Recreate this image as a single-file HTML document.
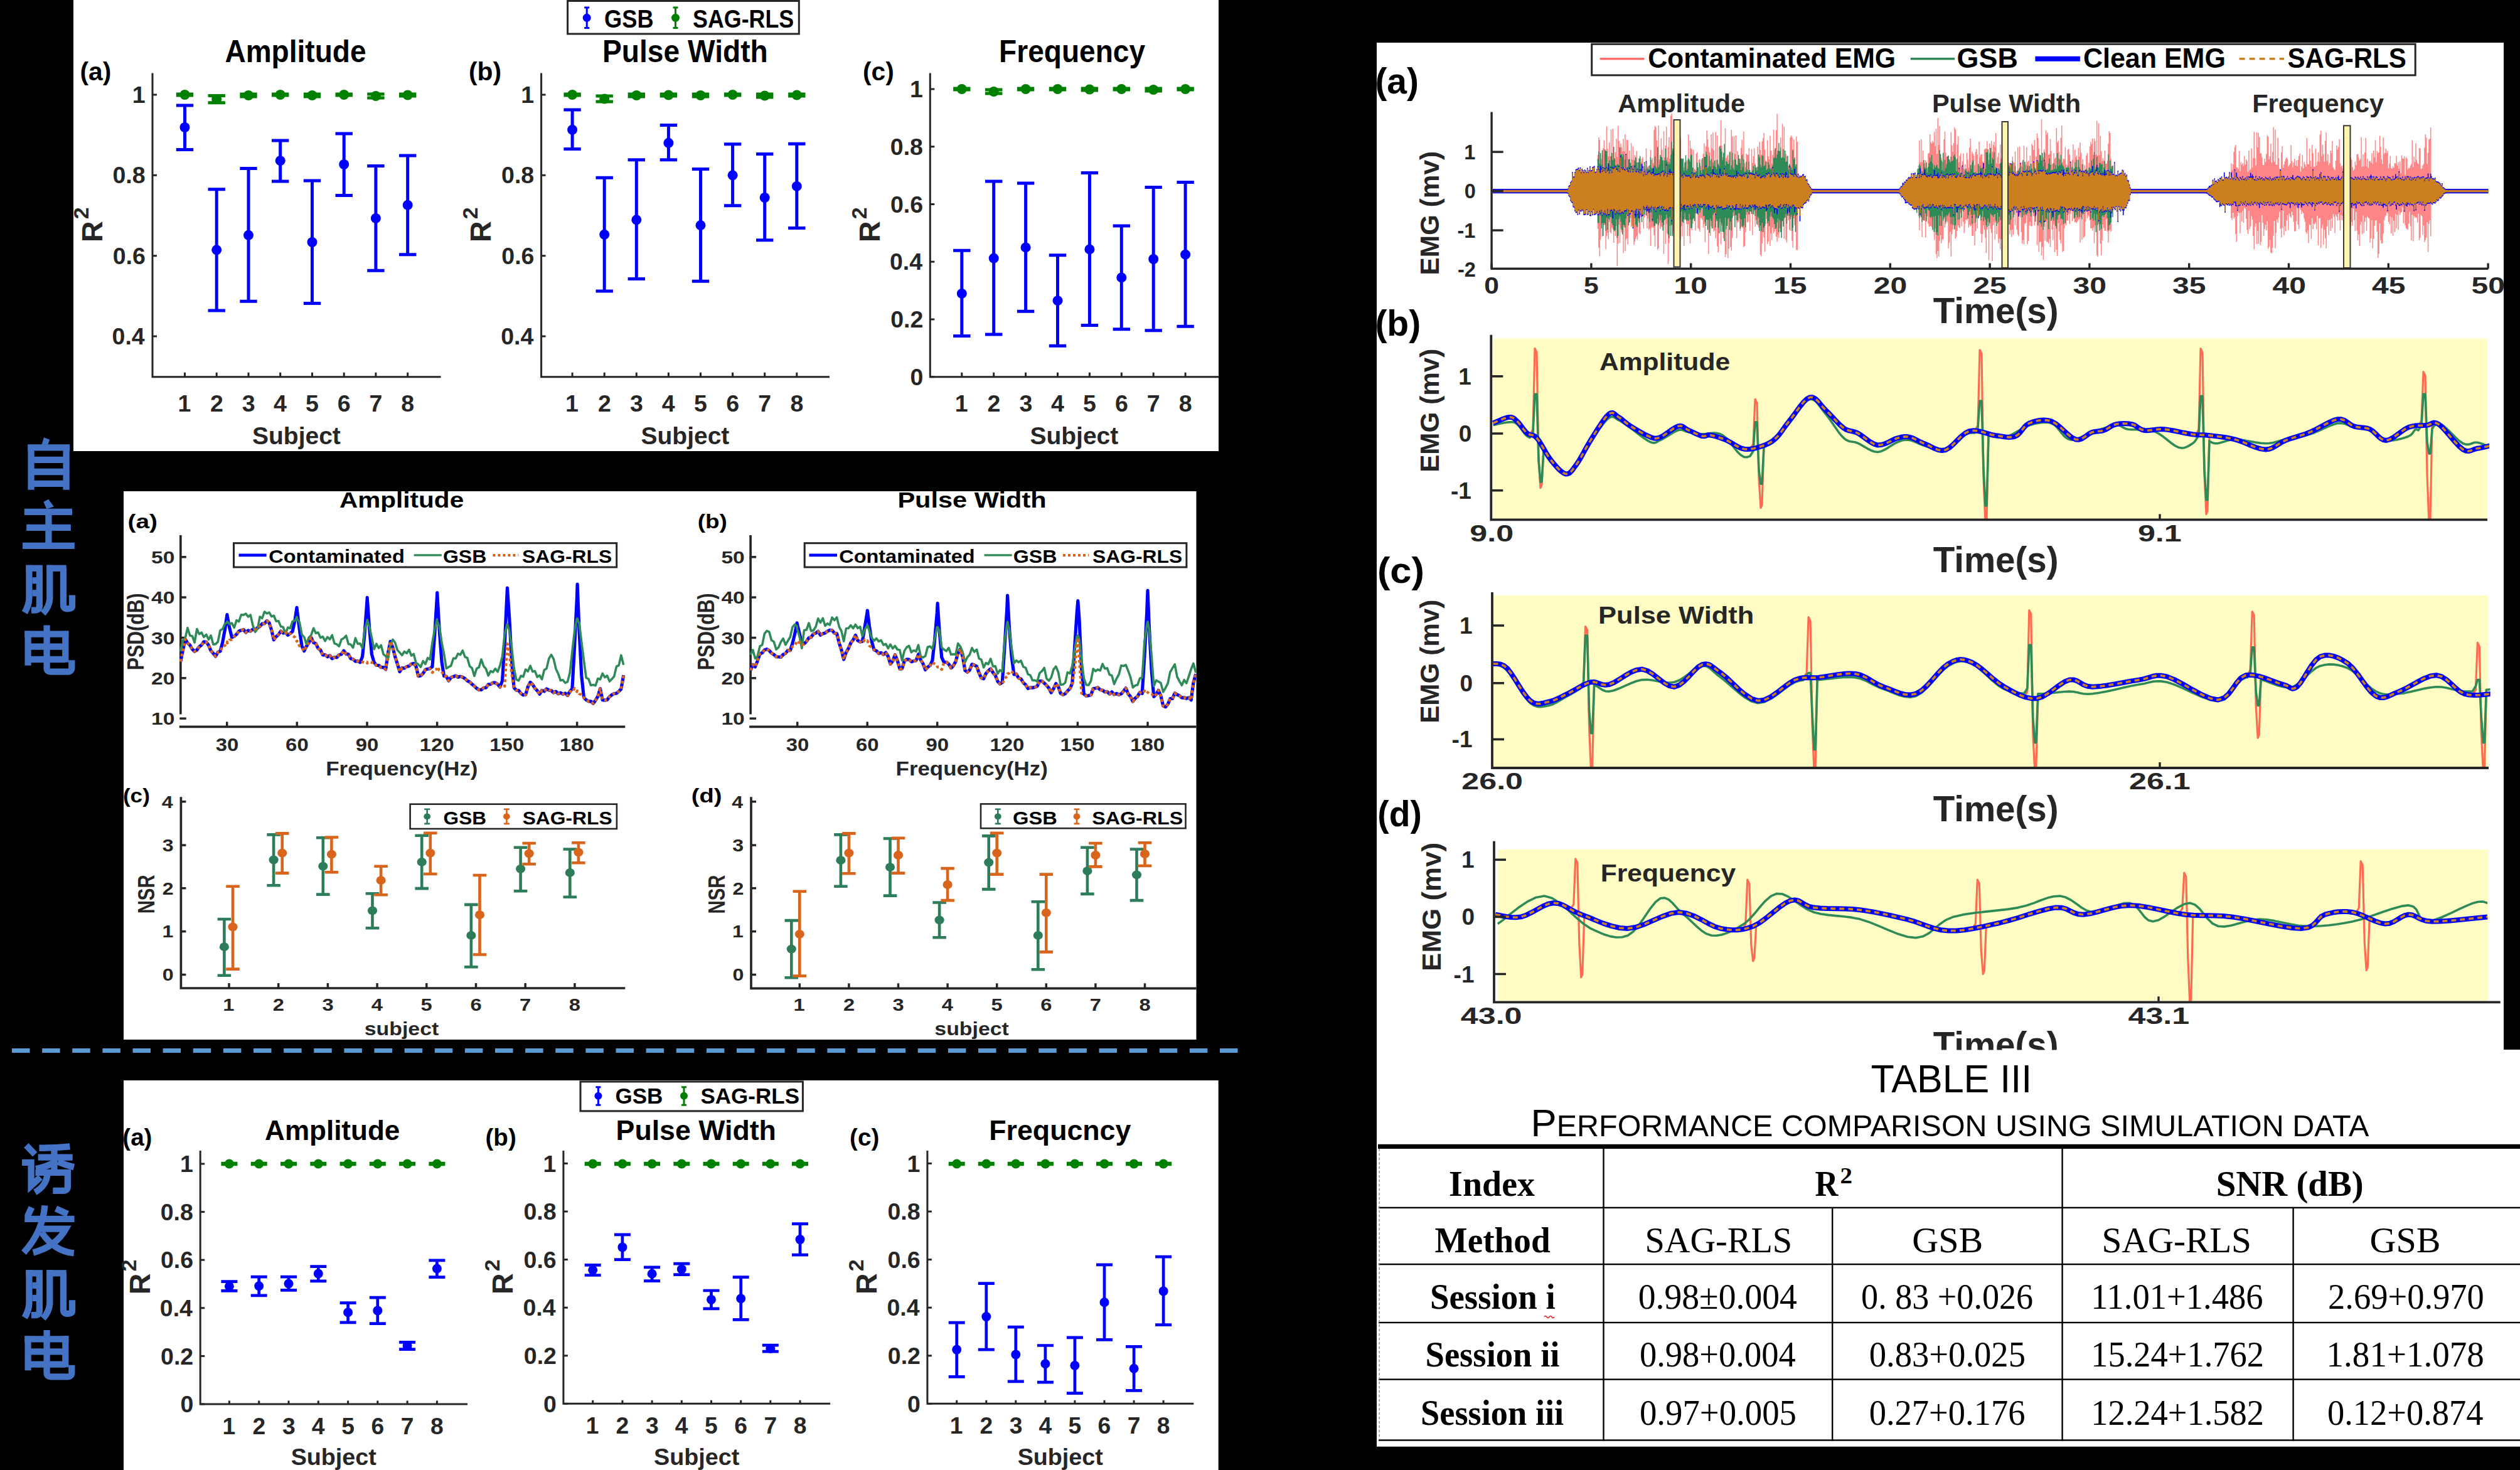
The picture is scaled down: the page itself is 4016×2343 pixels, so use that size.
<!DOCTYPE html>
<html><head><meta charset="utf-8"><style>html,body{margin:0;padding:0;background:#000;width:4016px;height:2343px;overflow:hidden}svg{display:block}</style></head>
<body><svg width="4016" height="2343" viewBox="0 0 4016 2343">
<rect width="4016" height="2343" fill="#000"/>
<rect x="117" y="0" width="1825" height="719" fill="#fff"/>
<rect x="197" y="783" width="1709.5" height="874" fill="#fff"/>
<rect x="197" y="1722" width="1744.7" height="621" fill="#fff"/>
<rect x="2194" y="68" width="1796" height="1605.8" fill="#fff"/>
<rect x="2194" y="1673" width="1822" height="632.7" fill="#fff"/>
<line x1="19" y1="1674.5" x2="1972.5" y2="1674.5" stroke="#5b9bd5" stroke-width="7" stroke-dasharray="28.5 19.625"/>
<g transform="translate(30,690) scale(0.142857)" fill="none" stroke="#4472c4" stroke-width="72" stroke-linejoin="miter" stroke-linecap="butt"><path d="M137,132 V635"/><path d="M529,132 V635"/><path d="M100,163 H568"/><path d="M137,300 H529"/><path d="M137,434 H529"/><path d="M137,566 H529"/><polygon points="255,132 280,50 345,75 325,132" fill="#4472c4" stroke="none"/></g>
<g transform="translate(30,690) scale(0.142857)" fill="none" stroke="#4472c4" stroke-width="72" stroke-linejoin="miter" stroke-linecap="butt"><path d="M62,881 H595"/><path d="M85,1056 H580"/><path d="M42,1259 H622"/><path d="M332,915 V1225"/><polygon points="275,770 330,740 392,822 310,848" fill="#4472c4" stroke="none"/></g>
<g transform="translate(30,880) scale(0.142857)" fill="none" stroke="#4472c4" stroke-width="72" stroke-linejoin="miter" stroke-linecap="butt"><path d="M115,145 V520 Q110,600 65,675"/><path d="M80,180 H265"/><path d="M230,180 V600 Q230,648 180,648 H140"/><path d="M150,317 H200"/><path d="M150,457 H200"/><path d="M345,145 V520 Q340,610 270,685"/><path d="M310,180 H530"/><path d="M497,180 V590 Q497,632 540,632 Q595,632 595,600 V480"/></g>
<g transform="translate(30,880) scale(0.142857)" fill="none" stroke="#4472c4" stroke-width="72" stroke-linejoin="miter" stroke-linecap="butt"><path d="M102,880 V1265"/><path d="M520,880 V1230"/><path d="M65,915 H555"/><path d="M102,1055 H520"/><path d="M102,1197 H520"/><path d="M312,815 V1295 Q312,1335 360,1335 H540 Q590,1335 590,1290 V1205"/></g>
<g transform="translate(25,1810) scale(0.142857)" fill="none" stroke="#4472c4" stroke-width="72" stroke-linejoin="miter" stroke-linecap="butt"><path d="M118,108 L215,210"/><path d="M70,300 H172 V560 L275,465"/><path d="M262,138 Q430,140 605,122"/><path d="M250,242 H635"/><path d="M430,140 V390"/><path d="M430,300 Q340,350 225,372"/><path d="M470,290 Q560,330 650,352"/><path d="M220,412 H580 V570 Q580,615 530,615 H415"/><path d="M355,420 Q345,560 215,632"/></g>
<g transform="translate(25,1810) scale(0.142857)" fill="none" stroke="#4472c4" stroke-width="72" stroke-linejoin="miter" stroke-linecap="butt"><path d="M178,800 L130,905"/><path d="M100,930 H655"/><path d="M448,815 L580,875"/><path d="M325,780 Q300,1080 90,1305"/><path d="M285,1040 H560 Q450,1240 195,1305"/><path d="M290,1080 Q430,1290 650,1312"/></g>
<g transform="translate(30,2003.6) scale(0.142857)" fill="none" stroke="#4472c4" stroke-width="72" stroke-linejoin="miter" stroke-linecap="butt"><path d="M115,145 V520 Q110,600 65,675"/><path d="M80,180 H265"/><path d="M230,180 V600 Q230,648 180,648 H140"/><path d="M150,317 H200"/><path d="M150,457 H200"/><path d="M345,145 V520 Q340,610 270,685"/><path d="M310,180 H530"/><path d="M497,180 V590 Q497,632 540,632 Q595,632 595,600 V480"/></g>
<g transform="translate(30,2003.6) scale(0.142857)" fill="none" stroke="#4472c4" stroke-width="72" stroke-linejoin="miter" stroke-linecap="butt"><path d="M102,880 V1265"/><path d="M520,880 V1230"/><path d="M65,915 H555"/><path d="M102,1055 H520"/><path d="M102,1197 H520"/><path d="M312,815 V1295 Q312,1335 360,1335 H540 Q590,1335 590,1290 V1205"/></g>
<path d="M243,116.6 V600.7 H702.6" fill="none" stroke="#262626" stroke-width="3"/>
<line x1="243" y1="151" x2="250" y2="151" stroke="#262626" stroke-width="3"/>
<line x1="243" y1="279.3" x2="250" y2="279.3" stroke="#262626" stroke-width="3"/>
<line x1="243" y1="407.7" x2="250" y2="407.7" stroke="#262626" stroke-width="3"/>
<line x1="243" y1="536" x2="250" y2="536" stroke="#262626" stroke-width="3"/>
<line x1="294.5" y1="600.7" x2="294.5" y2="593.7" stroke="#262626" stroke-width="3"/>
<line x1="345.2" y1="600.7" x2="345.2" y2="593.7" stroke="#262626" stroke-width="3"/>
<line x1="396" y1="600.7" x2="396" y2="593.7" stroke="#262626" stroke-width="3"/>
<line x1="446.7" y1="600.7" x2="446.7" y2="593.7" stroke="#262626" stroke-width="3"/>
<line x1="497.5" y1="600.7" x2="497.5" y2="593.7" stroke="#262626" stroke-width="3"/>
<line x1="548.2" y1="600.7" x2="548.2" y2="593.7" stroke="#262626" stroke-width="3"/>
<line x1="598.9" y1="600.7" x2="598.9" y2="593.7" stroke="#262626" stroke-width="3"/>
<line x1="649.7" y1="600.7" x2="649.7" y2="593.7" stroke="#262626" stroke-width="3"/>
<path d="M294.5,150 V152 M280.8,150 H308.2 M280.8,152 H308.2" stroke="#008000" stroke-width="5" fill="none"/>
<circle cx="294.5" cy="151" r="8" fill="#008000"/>
<path d="M345.2,152.4 V163.8 M331.5,152.4 H358.9 M331.5,163.8 H358.9" stroke="#008000" stroke-width="5" fill="none"/>
<circle cx="345.2" cy="158" r="8" fill="#008000"/>
<path d="M396,150 V154 M382.3,150 H409.7 M382.3,154 H409.7" stroke="#008000" stroke-width="5" fill="none"/>
<circle cx="396" cy="152" r="8" fill="#008000"/>
<path d="M446.7,150 V152 M433,150 H460.4 M433,152 H460.4" stroke="#008000" stroke-width="5" fill="none"/>
<circle cx="446.7" cy="151" r="8" fill="#008000"/>
<path d="M497.5,150 V154 M483.8,150 H511.2 M483.8,154 H511.2" stroke="#008000" stroke-width="5" fill="none"/>
<circle cx="497.5" cy="152" r="8" fill="#008000"/>
<path d="M548.2,150 V152 M534.5,150 H561.9 M534.5,152 H561.9" stroke="#008000" stroke-width="5" fill="none"/>
<circle cx="548.2" cy="151" r="8" fill="#008000"/>
<path d="M598.9,150 V156 M585.2,150 H612.6 M585.2,156 H612.6" stroke="#008000" stroke-width="5" fill="none"/>
<circle cx="598.9" cy="153" r="8" fill="#008000"/>
<path d="M649.7,150 V153 M636,150 H663.4 M636,153 H663.4" stroke="#008000" stroke-width="5" fill="none"/>
<circle cx="649.7" cy="151.5" r="8" fill="#008000"/>
<path d="M294.5,168 V238.6 M280.8,168 H308.2 M280.8,238.6 H308.2" stroke="#0000ff" stroke-width="5" fill="none"/>
<circle cx="294.5" cy="203" r="8" fill="#0000ff"/>
<path d="M345.2,301.8 V494.9 M331.5,301.8 H358.9 M331.5,494.9 H358.9" stroke="#0000ff" stroke-width="5" fill="none"/>
<circle cx="345.2" cy="398.3" r="8" fill="#0000ff"/>
<path d="M396,268.5 V480.2 M382.3,268.5 H409.7 M382.3,480.2 H409.7" stroke="#0000ff" stroke-width="5" fill="none"/>
<circle cx="396" cy="374.8" r="8" fill="#0000ff"/>
<path d="M446.7,223.9 V289 M433,223.9 H460.4 M433,289 H460.4" stroke="#0000ff" stroke-width="5" fill="none"/>
<circle cx="446.7" cy="256.2" r="8" fill="#0000ff"/>
<path d="M497.5,288 V483.6 M483.8,288 H511.2 M483.8,483.6 H511.2" stroke="#0000ff" stroke-width="5" fill="none"/>
<circle cx="497.5" cy="386" r="8" fill="#0000ff"/>
<path d="M548.2,213 V311.6 M534.5,213 H561.9 M534.5,311.6 H561.9" stroke="#0000ff" stroke-width="5" fill="none"/>
<circle cx="548.2" cy="262" r="8" fill="#0000ff"/>
<path d="M598.9,264.6 V431.2 M585.2,264.6 H612.6 M585.2,431.2 H612.6" stroke="#0000ff" stroke-width="5" fill="none"/>
<circle cx="598.9" cy="347.9" r="8" fill="#0000ff"/>
<path d="M649.7,248 V405.7 M636,248 H663.4 M636,405.7 H663.4" stroke="#0000ff" stroke-width="5" fill="none"/>
<circle cx="649.7" cy="326.8" r="8" fill="#0000ff"/>
<path d="M862.6,116.6 V600.7 H1322" fill="none" stroke="#262626" stroke-width="3"/>
<line x1="862.6" y1="151" x2="869.6" y2="151" stroke="#262626" stroke-width="3"/>
<line x1="862.6" y1="279.3" x2="869.6" y2="279.3" stroke="#262626" stroke-width="3"/>
<line x1="862.6" y1="407.7" x2="869.6" y2="407.7" stroke="#262626" stroke-width="3"/>
<line x1="862.6" y1="536" x2="869.6" y2="536" stroke="#262626" stroke-width="3"/>
<line x1="912.1" y1="600.7" x2="912.1" y2="593.7" stroke="#262626" stroke-width="3"/>
<line x1="963.2" y1="600.7" x2="963.2" y2="593.7" stroke="#262626" stroke-width="3"/>
<line x1="1014.3" y1="600.7" x2="1014.3" y2="593.7" stroke="#262626" stroke-width="3"/>
<line x1="1065.4" y1="600.7" x2="1065.4" y2="593.7" stroke="#262626" stroke-width="3"/>
<line x1="1116.5" y1="600.7" x2="1116.5" y2="593.7" stroke="#262626" stroke-width="3"/>
<line x1="1167.6" y1="600.7" x2="1167.6" y2="593.7" stroke="#262626" stroke-width="3"/>
<line x1="1218.7" y1="600.7" x2="1218.7" y2="593.7" stroke="#262626" stroke-width="3"/>
<line x1="1269.8" y1="600.7" x2="1269.8" y2="593.7" stroke="#262626" stroke-width="3"/>
<path d="M912.1,150 V152 M898.4,150 H925.8 M898.4,152 H925.8" stroke="#008000" stroke-width="5" fill="none"/>
<circle cx="912.1" cy="151" r="8" fill="#008000"/>
<path d="M963.2,153 V162 M949.5,153 H976.9 M949.5,162 H976.9" stroke="#008000" stroke-width="5" fill="none"/>
<circle cx="963.2" cy="157.5" r="8" fill="#008000"/>
<path d="M1014.3,150 V154 M1000.6,150 H1028 M1000.6,154 H1028" stroke="#008000" stroke-width="5" fill="none"/>
<circle cx="1014.3" cy="152" r="8" fill="#008000"/>
<path d="M1065.4,150 V153 M1051.7,150 H1079.1 M1051.7,153 H1079.1" stroke="#008000" stroke-width="5" fill="none"/>
<circle cx="1065.4" cy="151.5" r="8" fill="#008000"/>
<path d="M1116.5,150 V154 M1102.8,150 H1130.2 M1102.8,154 H1130.2" stroke="#008000" stroke-width="5" fill="none"/>
<circle cx="1116.5" cy="152" r="8" fill="#008000"/>
<path d="M1167.6,150 V152 M1153.9,150 H1181.3 M1153.9,152 H1181.3" stroke="#008000" stroke-width="5" fill="none"/>
<circle cx="1167.6" cy="151" r="8" fill="#008000"/>
<path d="M1218.7,150 V155 M1205,150 H1232.4 M1205,155 H1232.4" stroke="#008000" stroke-width="5" fill="none"/>
<circle cx="1218.7" cy="152.5" r="8" fill="#008000"/>
<path d="M1269.8,150 V153 M1256.1,150 H1283.5 M1256.1,153 H1283.5" stroke="#008000" stroke-width="5" fill="none"/>
<circle cx="1269.8" cy="151.5" r="8" fill="#008000"/>
<path d="M912.1,175 V237.6 M898.4,175 H925.8 M898.4,237.6 H925.8" stroke="#0000ff" stroke-width="5" fill="none"/>
<circle cx="912.1" cy="206.8" r="8" fill="#0000ff"/>
<path d="M963.2,283.2 V464 M949.5,283.2 H976.9 M949.5,464 H976.9" stroke="#0000ff" stroke-width="5" fill="none"/>
<circle cx="963.2" cy="373.8" r="8" fill="#0000ff"/>
<path d="M1014.3,254.8 V444.4 M1000.6,254.8 H1028 M1000.6,444.4 H1028" stroke="#0000ff" stroke-width="5" fill="none"/>
<circle cx="1014.3" cy="350.3" r="8" fill="#0000ff"/>
<path d="M1065.4,199.4 V254.8 M1051.7,199.4 H1079.1 M1051.7,254.8 H1079.1" stroke="#0000ff" stroke-width="5" fill="none"/>
<circle cx="1065.4" cy="227.8" r="8" fill="#0000ff"/>
<path d="M1116.5,269.5 V448.3 M1102.8,269.5 H1130.2 M1102.8,448.3 H1130.2" stroke="#0000ff" stroke-width="5" fill="none"/>
<circle cx="1116.5" cy="359.1" r="8" fill="#0000ff"/>
<path d="M1167.6,229.8 V327.8 M1153.9,229.8 H1181.3 M1153.9,327.8 H1181.3" stroke="#0000ff" stroke-width="5" fill="none"/>
<circle cx="1167.6" cy="279.3" r="8" fill="#0000ff"/>
<path d="M1218.7,245.5 V382.7 M1205,245.5 H1232.4 M1205,382.7 H1232.4" stroke="#0000ff" stroke-width="5" fill="none"/>
<circle cx="1218.7" cy="315" r="8" fill="#0000ff"/>
<path d="M1269.8,229.3 V363.5 M1256.1,229.3 H1283.5 M1256.1,363.5 H1283.5" stroke="#0000ff" stroke-width="5" fill="none"/>
<circle cx="1269.8" cy="296.9" r="8" fill="#0000ff"/>
<path d="M1482.3,116.6 V600.7 H1942" fill="none" stroke="#262626" stroke-width="3"/>
<line x1="1482.3" y1="142" x2="1489.3" y2="142" stroke="#262626" stroke-width="3"/>
<line x1="1482.3" y1="233.7" x2="1489.3" y2="233.7" stroke="#262626" stroke-width="3"/>
<line x1="1482.3" y1="325.5" x2="1489.3" y2="325.5" stroke="#262626" stroke-width="3"/>
<line x1="1482.3" y1="417.2" x2="1489.3" y2="417.2" stroke="#262626" stroke-width="3"/>
<line x1="1482.3" y1="509" x2="1489.3" y2="509" stroke="#262626" stroke-width="3"/>
<line x1="1482.3" y1="600.7" x2="1489.3" y2="600.7" stroke="#262626" stroke-width="3"/>
<line x1="1532.8" y1="600.7" x2="1532.8" y2="593.7" stroke="#262626" stroke-width="3"/>
<line x1="1583.7" y1="600.7" x2="1583.7" y2="593.7" stroke="#262626" stroke-width="3"/>
<line x1="1634.6" y1="600.7" x2="1634.6" y2="593.7" stroke="#262626" stroke-width="3"/>
<line x1="1685.5" y1="600.7" x2="1685.5" y2="593.7" stroke="#262626" stroke-width="3"/>
<line x1="1736.4" y1="600.7" x2="1736.4" y2="593.7" stroke="#262626" stroke-width="3"/>
<line x1="1787.3" y1="600.7" x2="1787.3" y2="593.7" stroke="#262626" stroke-width="3"/>
<line x1="1838.2" y1="600.7" x2="1838.2" y2="593.7" stroke="#262626" stroke-width="3"/>
<line x1="1889.1" y1="600.7" x2="1889.1" y2="593.7" stroke="#262626" stroke-width="3"/>
<path d="M1532.8,141 V143 M1519.1,141 H1546.5 M1519.1,143 H1546.5" stroke="#008000" stroke-width="5" fill="none"/>
<circle cx="1532.8" cy="142" r="8" fill="#008000"/>
<path d="M1583.7,143 V149 M1570,143 H1597.4 M1570,149 H1597.4" stroke="#008000" stroke-width="5" fill="none"/>
<circle cx="1583.7" cy="146" r="8" fill="#008000"/>
<path d="M1634.6,141 V143 M1620.9,141 H1648.3 M1620.9,143 H1648.3" stroke="#008000" stroke-width="5" fill="none"/>
<circle cx="1634.6" cy="142" r="8" fill="#008000"/>
<path d="M1685.5,141 V143 M1671.8,141 H1699.2 M1671.8,143 H1699.2" stroke="#008000" stroke-width="5" fill="none"/>
<circle cx="1685.5" cy="142" r="8" fill="#008000"/>
<path d="M1736.4,141 V144 M1722.7,141 H1750.1 M1722.7,144 H1750.1" stroke="#008000" stroke-width="5" fill="none"/>
<circle cx="1736.4" cy="142.5" r="8" fill="#008000"/>
<path d="M1787.3,141 V143 M1773.6,141 H1801 M1773.6,143 H1801" stroke="#008000" stroke-width="5" fill="none"/>
<circle cx="1787.3" cy="142" r="8" fill="#008000"/>
<path d="M1838.2,141 V145 M1824.5,141 H1851.9 M1824.5,145 H1851.9" stroke="#008000" stroke-width="5" fill="none"/>
<circle cx="1838.2" cy="143" r="8" fill="#008000"/>
<path d="M1889.1,141 V143 M1875.4,141 H1902.8 M1875.4,143 H1902.8" stroke="#008000" stroke-width="5" fill="none"/>
<circle cx="1889.1" cy="142" r="8" fill="#008000"/>
<path d="M1532.8,399.3 V535.5 M1519.1,399.3 H1546.5 M1519.1,535.5 H1546.5" stroke="#0000ff" stroke-width="5" fill="none"/>
<circle cx="1532.8" cy="467.9" r="8" fill="#0000ff"/>
<path d="M1583.7,289 V533 M1570,289 H1597.4 M1570,533 H1597.4" stroke="#0000ff" stroke-width="5" fill="none"/>
<circle cx="1583.7" cy="411.6" r="8" fill="#0000ff"/>
<path d="M1634.6,292 V496.3 M1620.9,292 H1648.3 M1620.9,496.3 H1648.3" stroke="#0000ff" stroke-width="5" fill="none"/>
<circle cx="1634.6" cy="394.4" r="8" fill="#0000ff"/>
<path d="M1685.5,406.7 V551.2 M1671.8,406.7 H1699.2 M1671.8,551.2 H1699.2" stroke="#0000ff" stroke-width="5" fill="none"/>
<circle cx="1685.5" cy="479.2" r="8" fill="#0000ff"/>
<path d="M1736.4,275.4 V518.4 M1722.7,275.4 H1750.1 M1722.7,518.4 H1750.1" stroke="#0000ff" stroke-width="5" fill="none"/>
<circle cx="1736.4" cy="397.4" r="8" fill="#0000ff"/>
<path d="M1787.3,360.1 V524.7 M1773.6,360.1 H1801 M1773.6,524.7 H1801" stroke="#0000ff" stroke-width="5" fill="none"/>
<circle cx="1787.3" cy="442.4" r="8" fill="#0000ff"/>
<path d="M1838.2,298.4 V526.7 M1824.5,298.4 H1851.9 M1824.5,526.7 H1851.9" stroke="#0000ff" stroke-width="5" fill="none"/>
<circle cx="1838.2" cy="413" r="8" fill="#0000ff"/>
<path d="M1889.1,290.5 V520.3 M1875.4,290.5 H1902.8 M1875.4,520.3 H1902.8" stroke="#0000ff" stroke-width="5" fill="none"/>
<circle cx="1889.1" cy="405.7" r="8" fill="#0000ff"/>
<path d="M319.2,1833.9 V2238 H745" fill="none" stroke="#262626" stroke-width="3"/>
<line x1="319.2" y1="1855" x2="326.2" y2="1855" stroke="#262626" stroke-width="3"/>
<line x1="319.2" y1="1931.6" x2="326.2" y2="1931.6" stroke="#262626" stroke-width="3"/>
<line x1="319.2" y1="2008.2" x2="326.2" y2="2008.2" stroke="#262626" stroke-width="3"/>
<line x1="319.2" y1="2084.8" x2="326.2" y2="2084.8" stroke="#262626" stroke-width="3"/>
<line x1="319.2" y1="2161.4" x2="326.2" y2="2161.4" stroke="#262626" stroke-width="3"/>
<line x1="319.2" y1="2238" x2="326.2" y2="2238" stroke="#262626" stroke-width="3"/>
<line x1="365.4" y1="2238" x2="365.4" y2="2232.5" stroke="#262626" stroke-width="3"/>
<line x1="412.7" y1="2238" x2="412.7" y2="2232.5" stroke="#262626" stroke-width="3"/>
<line x1="460" y1="2238" x2="460" y2="2232.5" stroke="#262626" stroke-width="3"/>
<line x1="507.3" y1="2238" x2="507.3" y2="2232.5" stroke="#262626" stroke-width="3"/>
<line x1="554.6" y1="2238" x2="554.6" y2="2232.5" stroke="#262626" stroke-width="3"/>
<line x1="601.8" y1="2238" x2="601.8" y2="2232.5" stroke="#262626" stroke-width="3"/>
<line x1="649.1" y1="2238" x2="649.1" y2="2232.5" stroke="#262626" stroke-width="3"/>
<line x1="696.4" y1="2238" x2="696.4" y2="2232.5" stroke="#262626" stroke-width="3"/>
<path d="M365.4,1854 V1856 M352.4,1854 H378.4 M352.4,1856 H378.4" stroke="#008000" stroke-width="4.7" fill="none"/>
<circle cx="365.4" cy="1855" r="7.5" fill="#008000"/>
<path d="M412.7,1854 V1856 M399.7,1854 H425.7 M399.7,1856 H425.7" stroke="#008000" stroke-width="4.7" fill="none"/>
<circle cx="412.7" cy="1855" r="7.5" fill="#008000"/>
<path d="M460,1854 V1856 M447,1854 H473 M447,1856 H473" stroke="#008000" stroke-width="4.7" fill="none"/>
<circle cx="460" cy="1855" r="7.5" fill="#008000"/>
<path d="M507.3,1854 V1856 M494.3,1854 H520.3 M494.3,1856 H520.3" stroke="#008000" stroke-width="4.7" fill="none"/>
<circle cx="507.3" cy="1855" r="7.5" fill="#008000"/>
<path d="M554.6,1854 V1856 M541.6,1854 H567.6 M541.6,1856 H567.6" stroke="#008000" stroke-width="4.7" fill="none"/>
<circle cx="554.6" cy="1855" r="7.5" fill="#008000"/>
<path d="M601.8,1854 V1856 M588.8,1854 H614.8 M588.8,1856 H614.8" stroke="#008000" stroke-width="4.7" fill="none"/>
<circle cx="601.8" cy="1855" r="7.5" fill="#008000"/>
<path d="M649.1,1854 V1856 M636.1,1854 H662.1 M636.1,1856 H662.1" stroke="#008000" stroke-width="4.7" fill="none"/>
<circle cx="649.1" cy="1855" r="7.5" fill="#008000"/>
<path d="M696.4,1854 V1856 M683.4,1854 H709.4 M683.4,1856 H709.4" stroke="#008000" stroke-width="4.7" fill="none"/>
<circle cx="696.4" cy="1855" r="7.5" fill="#008000"/>
<path d="M365.4,2042.7 V2057.4 M352.4,2042.7 H378.4 M352.4,2057.4 H378.4" stroke="#0000ff" stroke-width="4.7" fill="none"/>
<circle cx="365.4" cy="2050.3" r="7.5" fill="#0000ff"/>
<path d="M412.7,2035.2 V2064.9 M399.7,2035.2 H425.7 M399.7,2064.9 H425.7" stroke="#0000ff" stroke-width="4.7" fill="none"/>
<circle cx="412.7" cy="2049.8" r="7.5" fill="#0000ff"/>
<path d="M460,2035.2 V2056.4 M447,2035.2 H473 M447,2056.4 H473" stroke="#0000ff" stroke-width="4.7" fill="none"/>
<circle cx="460" cy="2046" r="7.5" fill="#0000ff"/>
<path d="M507.3,2018.7 V2041.8 M494.3,2018.7 H520.3 M494.3,2041.8 H520.3" stroke="#0000ff" stroke-width="4.7" fill="none"/>
<circle cx="507.3" cy="2030" r="7.5" fill="#0000ff"/>
<path d="M554.6,2076.7 V2107.8 M541.6,2076.7 H567.6 M541.6,2107.8 H567.6" stroke="#0000ff" stroke-width="4.7" fill="none"/>
<circle cx="554.6" cy="2091.8" r="7.5" fill="#0000ff"/>
<path d="M601.8,2068.2 V2109.7 M588.8,2068.2 H614.8 M588.8,2109.7 H614.8" stroke="#0000ff" stroke-width="4.7" fill="none"/>
<circle cx="601.8" cy="2088.9" r="7.5" fill="#0000ff"/>
<path d="M649.1,2139.4 V2150.7 M636.1,2139.4 H662.1 M636.1,2150.7 H662.1" stroke="#0000ff" stroke-width="4.7" fill="none"/>
<circle cx="649.1" cy="2145" r="7.5" fill="#0000ff"/>
<path d="M696.4,2008.8 V2035.7 M683.4,2008.8 H709.4 M683.4,2035.7 H709.4" stroke="#0000ff" stroke-width="4.7" fill="none"/>
<circle cx="696.4" cy="2022" r="7.5" fill="#0000ff"/>
<path d="M897.9,1833.9 V2237.3 H1323.1" fill="none" stroke="#262626" stroke-width="3"/>
<line x1="897.9" y1="1854.4" x2="904.9" y2="1854.4" stroke="#262626" stroke-width="3"/>
<line x1="897.9" y1="1931" x2="904.9" y2="1931" stroke="#262626" stroke-width="3"/>
<line x1="897.9" y1="2007.6" x2="904.9" y2="2007.6" stroke="#262626" stroke-width="3"/>
<line x1="897.9" y1="2084.2" x2="904.9" y2="2084.2" stroke="#262626" stroke-width="3"/>
<line x1="897.9" y1="2160.8" x2="904.9" y2="2160.8" stroke="#262626" stroke-width="3"/>
<line x1="897.9" y1="2237.4" x2="904.9" y2="2237.4" stroke="#262626" stroke-width="3"/>
<line x1="944.7" y1="2237.3" x2="944.7" y2="2231.8" stroke="#262626" stroke-width="3"/>
<line x1="991.9" y1="2237.3" x2="991.9" y2="2231.8" stroke="#262626" stroke-width="3"/>
<line x1="1039.1" y1="2237.3" x2="1039.1" y2="2231.8" stroke="#262626" stroke-width="3"/>
<line x1="1086.3" y1="2237.3" x2="1086.3" y2="2231.8" stroke="#262626" stroke-width="3"/>
<line x1="1133.5" y1="2237.3" x2="1133.5" y2="2231.8" stroke="#262626" stroke-width="3"/>
<line x1="1180.7" y1="2237.3" x2="1180.7" y2="2231.8" stroke="#262626" stroke-width="3"/>
<line x1="1227.8" y1="2237.3" x2="1227.8" y2="2231.8" stroke="#262626" stroke-width="3"/>
<line x1="1275" y1="2237.3" x2="1275" y2="2231.8" stroke="#262626" stroke-width="3"/>
<path d="M944.7,1854 V1856 M931.7,1854 H957.7 M931.7,1856 H957.7" stroke="#008000" stroke-width="4.7" fill="none"/>
<circle cx="944.7" cy="1855" r="7.5" fill="#008000"/>
<path d="M991.9,1854 V1856 M978.9,1854 H1004.9 M978.9,1856 H1004.9" stroke="#008000" stroke-width="4.7" fill="none"/>
<circle cx="991.9" cy="1855" r="7.5" fill="#008000"/>
<path d="M1039.1,1854 V1856 M1026.1,1854 H1052.1 M1026.1,1856 H1052.1" stroke="#008000" stroke-width="4.7" fill="none"/>
<circle cx="1039.1" cy="1855" r="7.5" fill="#008000"/>
<path d="M1086.3,1854 V1856 M1073.3,1854 H1099.3 M1073.3,1856 H1099.3" stroke="#008000" stroke-width="4.7" fill="none"/>
<circle cx="1086.3" cy="1855" r="7.5" fill="#008000"/>
<path d="M1133.5,1854 V1856 M1120.5,1854 H1146.5 M1120.5,1856 H1146.5" stroke="#008000" stroke-width="4.7" fill="none"/>
<circle cx="1133.5" cy="1855" r="7.5" fill="#008000"/>
<path d="M1180.7,1854 V1856 M1167.7,1854 H1193.7 M1167.7,1856 H1193.7" stroke="#008000" stroke-width="4.7" fill="none"/>
<circle cx="1180.7" cy="1855" r="7.5" fill="#008000"/>
<path d="M1227.8,1854 V1856 M1214.8,1854 H1240.8 M1214.8,1856 H1240.8" stroke="#008000" stroke-width="4.7" fill="none"/>
<circle cx="1227.8" cy="1855" r="7.5" fill="#008000"/>
<path d="M1275,1854 V1856 M1262,1854 H1288 M1262,1856 H1288" stroke="#008000" stroke-width="4.7" fill="none"/>
<circle cx="1275" cy="1855" r="7.5" fill="#008000"/>
<path d="M944.7,2016.3 V2032.5 M931.7,2016.3 H957.7 M931.7,2032.5 H957.7" stroke="#0000ff" stroke-width="4.7" fill="none"/>
<circle cx="944.7" cy="2024.2" r="7.5" fill="#0000ff"/>
<path d="M991.9,1967.8 V2007.6 M978.9,1967.8 H1004.9 M978.9,2007.6 H1004.9" stroke="#0000ff" stroke-width="4.7" fill="none"/>
<circle cx="991.9" cy="1987.9" r="7.5" fill="#0000ff"/>
<path d="M1039.1,2019.8 V2041.7 M1026.1,2019.8 H1052.1 M1026.1,2041.7 H1052.1" stroke="#0000ff" stroke-width="4.7" fill="none"/>
<circle cx="1039.1" cy="2030.3" r="7.5" fill="#0000ff"/>
<path d="M1086.3,2014.1 V2031.6 M1073.3,2014.1 H1099.3 M1073.3,2031.6 H1099.3" stroke="#0000ff" stroke-width="4.7" fill="none"/>
<circle cx="1086.3" cy="2022.9" r="7.5" fill="#0000ff"/>
<path d="M1133.5,2057 V2085.9 M1120.5,2057 H1146.5 M1120.5,2085.9 H1146.5" stroke="#0000ff" stroke-width="4.7" fill="none"/>
<circle cx="1133.5" cy="2071.4" r="7.5" fill="#0000ff"/>
<path d="M1180.7,2035.6 V2103.4 M1167.7,2035.6 H1193.7 M1167.7,2103.4 H1193.7" stroke="#0000ff" stroke-width="4.7" fill="none"/>
<circle cx="1180.7" cy="2069.7" r="7.5" fill="#0000ff"/>
<path d="M1227.8,2144.1 V2154.1 M1214.8,2144.1 H1240.8 M1214.8,2154.1 H1240.8" stroke="#0000ff" stroke-width="4.7" fill="none"/>
<circle cx="1227.8" cy="2149.3" r="7.5" fill="#0000ff"/>
<path d="M1275,1950.7 V2000.1 M1262,1950.7 H1288 M1262,2000.1 H1288" stroke="#0000ff" stroke-width="4.7" fill="none"/>
<circle cx="1275" cy="1975.6" r="7.5" fill="#0000ff"/>
<path d="M1477.9,1833.9 V2237.3 H1902.3" fill="none" stroke="#262626" stroke-width="3"/>
<line x1="1477.9" y1="1854.4" x2="1484.9" y2="1854.4" stroke="#262626" stroke-width="3"/>
<line x1="1477.9" y1="1931" x2="1484.9" y2="1931" stroke="#262626" stroke-width="3"/>
<line x1="1477.9" y1="2007.6" x2="1484.9" y2="2007.6" stroke="#262626" stroke-width="3"/>
<line x1="1477.9" y1="2084.2" x2="1484.9" y2="2084.2" stroke="#262626" stroke-width="3"/>
<line x1="1477.9" y1="2160.8" x2="1484.9" y2="2160.8" stroke="#262626" stroke-width="3"/>
<line x1="1477.9" y1="2237.4" x2="1484.9" y2="2237.4" stroke="#262626" stroke-width="3"/>
<line x1="1524.7" y1="2237.3" x2="1524.7" y2="2231.8" stroke="#262626" stroke-width="3"/>
<line x1="1571.8" y1="2237.3" x2="1571.8" y2="2231.8" stroke="#262626" stroke-width="3"/>
<line x1="1618.8" y1="2237.3" x2="1618.8" y2="2231.8" stroke="#262626" stroke-width="3"/>
<line x1="1665.9" y1="2237.3" x2="1665.9" y2="2231.8" stroke="#262626" stroke-width="3"/>
<line x1="1712.9" y1="2237.3" x2="1712.9" y2="2231.8" stroke="#262626" stroke-width="3"/>
<line x1="1760" y1="2237.3" x2="1760" y2="2231.8" stroke="#262626" stroke-width="3"/>
<line x1="1807.1" y1="2237.3" x2="1807.1" y2="2231.8" stroke="#262626" stroke-width="3"/>
<line x1="1854.1" y1="2237.3" x2="1854.1" y2="2231.8" stroke="#262626" stroke-width="3"/>
<path d="M1524.7,1854 V1856 M1511.7,1854 H1537.7 M1511.7,1856 H1537.7" stroke="#008000" stroke-width="4.7" fill="none"/>
<circle cx="1524.7" cy="1855" r="7.5" fill="#008000"/>
<path d="M1571.8,1854 V1856 M1558.8,1854 H1584.8 M1558.8,1856 H1584.8" stroke="#008000" stroke-width="4.7" fill="none"/>
<circle cx="1571.8" cy="1855" r="7.5" fill="#008000"/>
<path d="M1618.8,1854 V1856 M1605.8,1854 H1631.8 M1605.8,1856 H1631.8" stroke="#008000" stroke-width="4.7" fill="none"/>
<circle cx="1618.8" cy="1855" r="7.5" fill="#008000"/>
<path d="M1665.9,1854 V1856 M1652.9,1854 H1678.9 M1652.9,1856 H1678.9" stroke="#008000" stroke-width="4.7" fill="none"/>
<circle cx="1665.9" cy="1855" r="7.5" fill="#008000"/>
<path d="M1712.9,1854 V1856 M1699.9,1854 H1725.9 M1699.9,1856 H1725.9" stroke="#008000" stroke-width="4.7" fill="none"/>
<circle cx="1712.9" cy="1855" r="7.5" fill="#008000"/>
<path d="M1760,1854 V1856 M1747,1854 H1773 M1747,1856 H1773" stroke="#008000" stroke-width="4.7" fill="none"/>
<circle cx="1760" cy="1855" r="7.5" fill="#008000"/>
<path d="M1807.1,1854 V1856 M1794.1,1854 H1820.1 M1794.1,1856 H1820.1" stroke="#008000" stroke-width="4.7" fill="none"/>
<circle cx="1807.1" cy="1855" r="7.5" fill="#008000"/>
<path d="M1854.1,1854 V1856 M1841.1,1854 H1867.1 M1841.1,1856 H1867.1" stroke="#008000" stroke-width="4.7" fill="none"/>
<circle cx="1854.1" cy="1855" r="7.5" fill="#008000"/>
<path d="M1524.7,2108.2 V2194.4 M1511.7,2108.2 H1537.7 M1511.7,2194.4 H1537.7" stroke="#0000ff" stroke-width="4.7" fill="none"/>
<circle cx="1524.7" cy="2151.1" r="7.5" fill="#0000ff"/>
<path d="M1571.8,2045.6 V2151.1 M1558.8,2045.6 H1584.8 M1558.8,2151.1 H1584.8" stroke="#0000ff" stroke-width="4.7" fill="none"/>
<circle cx="1571.8" cy="2098.6" r="7.5" fill="#0000ff"/>
<path d="M1618.8,2115.2 V2201.8 M1605.8,2115.2 H1631.8 M1605.8,2201.8 H1631.8" stroke="#0000ff" stroke-width="4.7" fill="none"/>
<circle cx="1618.8" cy="2158.9" r="7.5" fill="#0000ff"/>
<path d="M1665.9,2144.5 V2203.1 M1652.9,2144.5 H1678.9 M1652.9,2203.1 H1678.9" stroke="#0000ff" stroke-width="4.7" fill="none"/>
<circle cx="1665.9" cy="2173.8" r="7.5" fill="#0000ff"/>
<path d="M1712.9,2131.8 V2220.6 M1699.9,2131.8 H1725.9 M1699.9,2220.6 H1725.9" stroke="#0000ff" stroke-width="4.7" fill="none"/>
<circle cx="1712.9" cy="2176.4" r="7.5" fill="#0000ff"/>
<path d="M1760,2015.9 V2135.3 M1747,2015.9 H1773 M1747,2135.3 H1773" stroke="#0000ff" stroke-width="4.7" fill="none"/>
<circle cx="1760" cy="2075.8" r="7.5" fill="#0000ff"/>
<path d="M1807.1,2146.3 V2216.3 M1794.1,2146.3 H1820.1 M1794.1,2216.3 H1820.1" stroke="#0000ff" stroke-width="4.7" fill="none"/>
<circle cx="1807.1" cy="2181.3" r="7.5" fill="#0000ff"/>
<path d="M1854.1,2003.2 V2111.7 M1841.1,2003.2 H1867.1 M1841.1,2111.7 H1867.1" stroke="#0000ff" stroke-width="4.7" fill="none"/>
<circle cx="1854.1" cy="2057.9" r="7.5" fill="#0000ff"/>
<text x="210.7" y="164.1" font-family="Liberation Sans" font-weight="bold" font-size="37.50" fill="#262626">1</text>
<text x="179.5" y="292.4" font-family="Liberation Sans" font-weight="bold" font-size="37.50" fill="#262626">0.8</text>
<text x="179.7" y="420.8" font-family="Liberation Sans" font-weight="bold" font-size="37.50" fill="#262626">0.6</text>
<text x="178.6" y="549.1" font-family="Liberation Sans" font-weight="bold" font-size="37.50" fill="#262626">0.4</text>
<text x="283.4" y="655.7" font-family="Liberation Sans" font-weight="bold" font-size="37.50" fill="#262626">1</text>
<text x="334.9" y="655.7" font-family="Liberation Sans" font-weight="bold" font-size="37.50" fill="#262626">2</text>
<text x="385.8" y="655.7" font-family="Liberation Sans" font-weight="bold" font-size="37.50" fill="#262626">3</text>
<text x="436.1" y="655.7" font-family="Liberation Sans" font-weight="bold" font-size="37.50" fill="#262626">4</text>
<text x="487" y="655.7" font-family="Liberation Sans" font-weight="bold" font-size="37.50" fill="#262626">5</text>
<text x="537.8" y="655.7" font-family="Liberation Sans" font-weight="bold" font-size="37.50" fill="#262626">6</text>
<text x="588.5" y="655.7" font-family="Liberation Sans" font-weight="bold" font-size="37.50" fill="#262626">7</text>
<text x="639.2" y="655.7" font-family="Liberation Sans" font-weight="bold" font-size="37.50" fill="#262626">8</text>
<text x="402" y="707.7" font-family="Liberation Sans" font-weight="bold" font-size="39.00" fill="#262626">Subject</text>
<text x="358.4" y="99.1" font-family="Liberation Sans" font-weight="bold" font-size="49.80" fill="#000" textLength="225.2" lengthAdjust="spacingAndGlyphs">Amplitude</text>
<text x="127.5" y="128.3" font-family="Liberation Sans" font-weight="bold" font-size="40.80" fill="#000">(a)</text>
<g transform="translate(162.5,383.2) rotate(-90)"><text x="-3.1" y="0" font-family="Liberation Sans" font-weight="bold" font-size="47" fill="#262626">R</text><text x="33.9" y="-21.3" font-family="Liberation Sans" font-weight="bold" font-size="34" fill="#262626">2</text></g>
<text x="830.3" y="164.1" font-family="Liberation Sans" font-weight="bold" font-size="37.50" fill="#262626">1</text>
<text x="799.1" y="292.4" font-family="Liberation Sans" font-weight="bold" font-size="37.50" fill="#262626">0.8</text>
<text x="799.3" y="420.8" font-family="Liberation Sans" font-weight="bold" font-size="37.50" fill="#262626">0.6</text>
<text x="798.2" y="549.1" font-family="Liberation Sans" font-weight="bold" font-size="37.50" fill="#262626">0.4</text>
<text x="901" y="655.7" font-family="Liberation Sans" font-weight="bold" font-size="37.50" fill="#262626">1</text>
<text x="952.9" y="655.7" font-family="Liberation Sans" font-weight="bold" font-size="37.50" fill="#262626">2</text>
<text x="1004.1" y="655.7" font-family="Liberation Sans" font-weight="bold" font-size="37.50" fill="#262626">3</text>
<text x="1054.8" y="655.7" font-family="Liberation Sans" font-weight="bold" font-size="37.50" fill="#262626">4</text>
<text x="1106" y="655.7" font-family="Liberation Sans" font-weight="bold" font-size="37.50" fill="#262626">5</text>
<text x="1157.2" y="655.7" font-family="Liberation Sans" font-weight="bold" font-size="37.50" fill="#262626">6</text>
<text x="1208.3" y="655.7" font-family="Liberation Sans" font-weight="bold" font-size="37.50" fill="#262626">7</text>
<text x="1259.4" y="655.7" font-family="Liberation Sans" font-weight="bold" font-size="37.50" fill="#262626">8</text>
<text x="1021.5" y="707.7" font-family="Liberation Sans" font-weight="bold" font-size="39.00" fill="#262626">Subject</text>
<text x="960.1" y="99.1" font-family="Liberation Sans" font-weight="bold" font-size="49.80" fill="#000" textLength="263.6" lengthAdjust="spacingAndGlyphs">Pulse Width</text>
<text x="747" y="128.3" font-family="Liberation Sans" font-weight="bold" font-size="40.80" fill="#000">(b)</text>
<g transform="translate(782.1,383.2) rotate(-90)"><text x="-3.1" y="0" font-family="Liberation Sans" font-weight="bold" font-size="47" fill="#262626">R</text><text x="33.9" y="-21.3" font-family="Liberation Sans" font-weight="bold" font-size="34" fill="#262626">2</text></g>
<text x="1450" y="155.1" font-family="Liberation Sans" font-weight="bold" font-size="37.50" fill="#262626">1</text>
<text x="1418.8" y="246.8" font-family="Liberation Sans" font-weight="bold" font-size="37.50" fill="#262626">0.8</text>
<text x="1419" y="338.6" font-family="Liberation Sans" font-weight="bold" font-size="37.50" fill="#262626">0.6</text>
<text x="1417.9" y="430.3" font-family="Liberation Sans" font-weight="bold" font-size="37.50" fill="#262626">0.4</text>
<text x="1419.2" y="522" font-family="Liberation Sans" font-weight="bold" font-size="37.50" fill="#262626">0.2</text>
<text x="1450.5" y="613.8" font-family="Liberation Sans" font-weight="bold" font-size="37.50" fill="#262626">0</text>
<text x="1521.7" y="655.7" font-family="Liberation Sans" font-weight="bold" font-size="37.50" fill="#262626">1</text>
<text x="1573.4" y="655.7" font-family="Liberation Sans" font-weight="bold" font-size="37.50" fill="#262626">2</text>
<text x="1624.4" y="655.7" font-family="Liberation Sans" font-weight="bold" font-size="37.50" fill="#262626">3</text>
<text x="1674.9" y="655.7" font-family="Liberation Sans" font-weight="bold" font-size="37.50" fill="#262626">4</text>
<text x="1725.9" y="655.7" font-family="Liberation Sans" font-weight="bold" font-size="37.50" fill="#262626">5</text>
<text x="1776.9" y="655.7" font-family="Liberation Sans" font-weight="bold" font-size="37.50" fill="#262626">6</text>
<text x="1827.8" y="655.7" font-family="Liberation Sans" font-weight="bold" font-size="37.50" fill="#262626">7</text>
<text x="1878.7" y="655.7" font-family="Liberation Sans" font-weight="bold" font-size="37.50" fill="#262626">8</text>
<text x="1641.4" y="707.7" font-family="Liberation Sans" font-weight="bold" font-size="39.00" fill="#262626">Subject</text>
<text x="1592.1" y="99.1" font-family="Liberation Sans" font-weight="bold" font-size="49.80" fill="#000" textLength="233" lengthAdjust="spacingAndGlyphs">Frequency</text>
<text x="1375" y="128.3" font-family="Liberation Sans" font-weight="bold" font-size="40.80" fill="#000">(c)</text>
<g transform="translate(1401.8,383.2) rotate(-90)"><text x="-3.1" y="0" font-family="Liberation Sans" font-weight="bold" font-size="47" fill="#262626">R</text><text x="33.9" y="-21.3" font-family="Liberation Sans" font-weight="bold" font-size="34" fill="#262626">2</text></g>
<text x="286.9" y="1868.1" font-family="Liberation Sans" font-weight="bold" font-size="37.50" fill="#262626">1</text>
<text x="255.7" y="1944.7" font-family="Liberation Sans" font-weight="bold" font-size="37.50" fill="#262626">0.8</text>
<text x="255.9" y="2021.3" font-family="Liberation Sans" font-weight="bold" font-size="37.50" fill="#262626">0.6</text>
<text x="254.8" y="2097.9" font-family="Liberation Sans" font-weight="bold" font-size="37.50" fill="#262626">0.4</text>
<text x="256.1" y="2174.5" font-family="Liberation Sans" font-weight="bold" font-size="37.50" fill="#262626">0.2</text>
<text x="287.4" y="2251.1" font-family="Liberation Sans" font-weight="bold" font-size="37.50" fill="#262626">0</text>
<text x="354.4" y="2286" font-family="Liberation Sans" font-weight="bold" font-size="37.20" fill="#262626">1</text>
<text x="402.4" y="2286" font-family="Liberation Sans" font-weight="bold" font-size="37.20" fill="#262626">2</text>
<text x="449.9" y="2286" font-family="Liberation Sans" font-weight="bold" font-size="37.20" fill="#262626">3</text>
<text x="496.7" y="2286" font-family="Liberation Sans" font-weight="bold" font-size="37.20" fill="#262626">4</text>
<text x="544.2" y="2286" font-family="Liberation Sans" font-weight="bold" font-size="37.20" fill="#262626">5</text>
<text x="591.5" y="2286" font-family="Liberation Sans" font-weight="bold" font-size="37.20" fill="#262626">6</text>
<text x="638.8" y="2286" font-family="Liberation Sans" font-weight="bold" font-size="37.20" fill="#262626">7</text>
<text x="686.1" y="2286" font-family="Liberation Sans" font-weight="bold" font-size="37.20" fill="#262626">8</text>
<text x="463.7" y="2335.3" font-family="Liberation Sans" font-weight="bold" font-size="37.70" fill="#262626">Subject</text>
<text x="422.1" y="1817.1" font-family="Liberation Sans" font-weight="bold" font-size="44.70" fill="#000" textLength="215.2" lengthAdjust="spacingAndGlyphs">Amplitude</text>
<text x="195.3" y="1825.5" font-family="Liberation Sans" font-weight="bold" font-size="38.60" fill="#000">(a)</text>
<g transform="translate(238.7,2060.4) rotate(-90)"><text x="-3.1" y="0" font-family="Liberation Sans" font-weight="bold" font-size="47" fill="#262626">R</text><text x="33.9" y="-21.3" font-family="Liberation Sans" font-weight="bold" font-size="34" fill="#262626">2</text></g>
<text x="865.6" y="1867.5" font-family="Liberation Sans" font-weight="bold" font-size="37.50" fill="#262626">1</text>
<text x="834.4" y="1944.1" font-family="Liberation Sans" font-weight="bold" font-size="37.50" fill="#262626">0.8</text>
<text x="834.6" y="2020.7" font-family="Liberation Sans" font-weight="bold" font-size="37.50" fill="#262626">0.6</text>
<text x="833.5" y="2097.3" font-family="Liberation Sans" font-weight="bold" font-size="37.50" fill="#262626">0.4</text>
<text x="834.8" y="2173.9" font-family="Liberation Sans" font-weight="bold" font-size="37.50" fill="#262626">0.2</text>
<text x="866.1" y="2250.5" font-family="Liberation Sans" font-weight="bold" font-size="37.50" fill="#262626">0</text>
<text x="933.7" y="2285.3" font-family="Liberation Sans" font-weight="bold" font-size="37.20" fill="#262626">1</text>
<text x="981.6" y="2285.3" font-family="Liberation Sans" font-weight="bold" font-size="37.20" fill="#262626">2</text>
<text x="1029" y="2285.3" font-family="Liberation Sans" font-weight="bold" font-size="37.20" fill="#262626">3</text>
<text x="1075.7" y="2285.3" font-family="Liberation Sans" font-weight="bold" font-size="37.20" fill="#262626">4</text>
<text x="1123.1" y="2285.3" font-family="Liberation Sans" font-weight="bold" font-size="37.20" fill="#262626">5</text>
<text x="1170.3" y="2285.3" font-family="Liberation Sans" font-weight="bold" font-size="37.20" fill="#262626">6</text>
<text x="1217.5" y="2285.3" font-family="Liberation Sans" font-weight="bold" font-size="37.20" fill="#262626">7</text>
<text x="1264.7" y="2285.3" font-family="Liberation Sans" font-weight="bold" font-size="37.20" fill="#262626">8</text>
<text x="1042.1" y="2334.6" font-family="Liberation Sans" font-weight="bold" font-size="37.70" fill="#262626">Subject</text>
<text x="981.6" y="1817.1" font-family="Liberation Sans" font-weight="bold" font-size="44.70" fill="#000">Pulse Width</text>
<text x="773.5" y="1825.5" font-family="Liberation Sans" font-weight="bold" font-size="38.60" fill="#000">(b)</text>
<g transform="translate(817.4,2060.1) rotate(-90)"><text x="-3.1" y="0" font-family="Liberation Sans" font-weight="bold" font-size="47" fill="#262626">R</text><text x="33.9" y="-21.3" font-family="Liberation Sans" font-weight="bold" font-size="34" fill="#262626">2</text></g>
<text x="1445.6" y="1867.5" font-family="Liberation Sans" font-weight="bold" font-size="37.50" fill="#262626">1</text>
<text x="1414.4" y="1944.1" font-family="Liberation Sans" font-weight="bold" font-size="37.50" fill="#262626">0.8</text>
<text x="1414.6" y="2020.7" font-family="Liberation Sans" font-weight="bold" font-size="37.50" fill="#262626">0.6</text>
<text x="1413.5" y="2097.3" font-family="Liberation Sans" font-weight="bold" font-size="37.50" fill="#262626">0.4</text>
<text x="1414.8" y="2173.9" font-family="Liberation Sans" font-weight="bold" font-size="37.50" fill="#262626">0.2</text>
<text x="1446.1" y="2250.5" font-family="Liberation Sans" font-weight="bold" font-size="37.50" fill="#262626">0</text>
<text x="1513.7" y="2285.3" font-family="Liberation Sans" font-weight="bold" font-size="37.20" fill="#262626">1</text>
<text x="1561.5" y="2285.3" font-family="Liberation Sans" font-weight="bold" font-size="37.20" fill="#262626">2</text>
<text x="1608.7" y="2285.3" font-family="Liberation Sans" font-weight="bold" font-size="37.20" fill="#262626">3</text>
<text x="1655.4" y="2285.3" font-family="Liberation Sans" font-weight="bold" font-size="37.20" fill="#262626">4</text>
<text x="1702.5" y="2285.3" font-family="Liberation Sans" font-weight="bold" font-size="37.20" fill="#262626">5</text>
<text x="1749.6" y="2285.3" font-family="Liberation Sans" font-weight="bold" font-size="37.20" fill="#262626">6</text>
<text x="1796.7" y="2285.3" font-family="Liberation Sans" font-weight="bold" font-size="37.20" fill="#262626">7</text>
<text x="1843.8" y="2285.3" font-family="Liberation Sans" font-weight="bold" font-size="37.20" fill="#262626">8</text>
<text x="1621.7" y="2334.6" font-family="Liberation Sans" font-weight="bold" font-size="37.70" fill="#262626">Subject</text>
<text x="1576.3" y="1817.1" font-family="Liberation Sans" font-weight="bold" font-size="44.70" fill="#000">Frequcncy</text>
<text x="1354.1" y="1825.5" font-family="Liberation Sans" font-weight="bold" font-size="38.60" fill="#000">(c)</text>
<g transform="translate(1397.4,2060.1) rotate(-90)"><text x="-3.1" y="0" font-family="Liberation Sans" font-weight="bold" font-size="47" fill="#262626">R</text><text x="33.9" y="-21.3" font-family="Liberation Sans" font-weight="bold" font-size="34" fill="#262626">2</text></g>
<rect x="904.6" y="1.5" width="368.7" height="52.5" fill="#fff" stroke="#262626" stroke-width="3"/>
<path d="M935.2,12 V44.4 M931.2,12 H939.2 M931.2,44.4 H939.2" stroke="#0000ff" stroke-width="3" fill="none"/>
<circle cx="935.2" cy="28.3" r="6.5" fill="#0000ff"/>
<path d="M1076.5,12 V44.4 M1072.5,12 H1080.5 M1072.5,44.4 H1080.5" stroke="#008000" stroke-width="3" fill="none"/>
<circle cx="1076.5" cy="28.3" r="6.5" fill="#008000"/>
<text x="963.1" y="44.4" font-family="Liberation Sans" font-weight="bold" font-size="40.00" fill="#000" textLength="78.5" lengthAdjust="spacingAndGlyphs">GSB</text>
<text x="1104" y="44.4" font-family="Liberation Sans" font-weight="bold" font-size="40.00" fill="#000" textLength="161.2" lengthAdjust="spacingAndGlyphs">SAG-RLS</text>
<rect x="925" y="1724" width="354.4" height="46.9" fill="#fff" stroke="#262626" stroke-width="3"/>
<path d="M953.4,1732.8 V1761.3 M949.4,1732.8 H957.4 M949.4,1761.3 H957.4" stroke="#0000ff" stroke-width="3" fill="none"/>
<circle cx="953.4" cy="1746.8" r="6" fill="#0000ff"/>
<path d="M1090,1732.8 V1761.3 M1086,1732.8 H1094 M1086,1761.3 H1094" stroke="#008000" stroke-width="3" fill="none"/>
<circle cx="1090" cy="1746.8" r="6" fill="#008000"/>
<text x="980.5" y="1759" font-family="Liberation Sans" font-weight="bold" font-size="35.00" fill="#000">GSB</text>
<text x="1116.5" y="1759" font-family="Liberation Sans" font-weight="bold" font-size="35.00" fill="#000">SAG-RLS</text>
<defs><clipPath id="psdA"><rect x="286" y="800" width="712" height="360"/></clipPath><clipPath id="psdB"><rect x="1194" y="800" width="712.5" height="360"/></clipPath><clipPath id="midp"><rect x="197" y="783" width="1709.5" height="872.5"/></clipPath></defs>
<line x1="287.8" y1="853.1" x2="287.8" y2="1138.5" stroke="#262626" stroke-width="3.7"/>
<line x1="285.8" y1="1158.4" x2="996.3" y2="1158.4" stroke="#262626" stroke-width="3.7"/>
<line x1="286.3" y1="887.8" x2="296.8" y2="887.8" stroke="#262626" stroke-width="3.5"/>
<line x1="286.3" y1="952.1" x2="296.8" y2="952.1" stroke="#262626" stroke-width="3.5"/>
<line x1="286.3" y1="1016.5" x2="296.8" y2="1016.5" stroke="#262626" stroke-width="3.5"/>
<line x1="286.3" y1="1080.8" x2="296.8" y2="1080.8" stroke="#262626" stroke-width="3.5"/>
<line x1="286.3" y1="1145.2" x2="296.8" y2="1145.2" stroke="#262626" stroke-width="3.5"/>
<line x1="361.7" y1="1158.4" x2="361.7" y2="1150.4" stroke="#262626" stroke-width="3.5"/>
<line x1="473.3" y1="1158.4" x2="473.3" y2="1150.4" stroke="#262626" stroke-width="3.5"/>
<line x1="585" y1="1158.4" x2="585" y2="1150.4" stroke="#262626" stroke-width="3.5"/>
<line x1="696.6" y1="1158.4" x2="696.6" y2="1150.4" stroke="#262626" stroke-width="3.5"/>
<line x1="808.1" y1="1158.4" x2="808.1" y2="1150.4" stroke="#262626" stroke-width="3.5"/>
<line x1="919.6" y1="1158.4" x2="919.6" y2="1150.4" stroke="#262626" stroke-width="3.5"/>
<g clip-path="url(#psdA)">
<path d="M287.8,1054.5 L291.5,1036.1 L295.2,1018.9 L298.9,1024.9 L302.7,1028.2 L306.4,1034.7 L310.1,1038.3 L313.8,1036 L317.5,1030.9 L321.2,1028 L324.9,1022.9 L328.7,1023.4 L332.4,1028.4 L336.1,1037.2 L339.8,1041.2 L343.5,1046.1 L347.2,1039.4 L351,1038 L354.7,1023.8 L358.4,1003.8 L361.9,979.5 L362.1,981.3 L365.8,1000.9 L369.5,1015.8 L373.2,1014.4 L377,1010.9 L380.7,1006 L384.4,1004.6 L388.1,1003.4 L391.8,1008.1 L395.5,1004.9 L399.2,1006 L403,1002.9 L406.7,1003.2 L410.4,1000.8 L414.1,998.7 L417.8,994.1 L421.5,993.9 L425.3,989.5 L429,992.7 L432.7,1004.3 L436.4,1019.8 L440.1,1014.8 L443.8,1011.6 L447.5,1006 L451.3,1009.1 L455,1007.9 L458.7,1012.2 L462.4,1009.9 L466.1,1006.5 L469.8,989.8 L473,968.3 L473.5,973.4 L477.3,1003.6 L481,1029.6 L484.7,1037.7 L488.4,1029.9 L492.1,1024.8 L495.8,1016.1 L499.6,1024.1 L503.3,1025.8 L507,1033.4 L510.7,1036.1 L514.4,1043.9 L518.1,1043.6 L521.8,1046.8 L525.6,1044.9 L529.3,1049.7 L533,1047.5 L536.7,1048 L540.4,1043.7 L544.1,1042.8 L547.8,1037.2 L551.6,1042.4 L555.3,1042.9 L559,1049.7 L562.7,1050.7 L566.4,1054.1 L570.1,1053.7 L573.9,1055.8 L577.6,1046.5 L581.3,1007.6 L585,957 L585.2,952.4 L588.7,1001.9 L592.4,1042.6 L596.1,1055.6 L599.9,1060.5 L603.6,1060.5 L607.3,1063.7 L611,1063.6 L614.7,1066.9 L618.4,1040.9 L622.1,1022.4 L625.9,1031.9 L629.6,1046.6 L633.3,1058.1 L637,1070.5 L640.7,1064.6 L644.4,1065.2 L648.2,1062.5 L651.9,1061.6 L655.6,1058.2 L659.3,1057.5 L663,1062.2 L666.7,1077.7 L670.4,1076.9 L674.2,1073.3 L677.9,1067.3 L681.6,1066.2 L685.3,1065.6 L689,1062.5 L692.7,1011.5 L696.5,950.1 L696.7,944.5 L700.2,1004.3 L703.9,1054 L707.6,1077.7 L711.3,1078 L715,1085.1 L718.7,1079.7 L722.5,1078.6 L726.2,1077 L729.9,1079.3 L733.6,1078.3 L737.3,1079.3 L741,1081.5 L744.7,1085.1 L748.5,1086.8 L752.2,1090.6 L755.9,1093.6 L759.6,1097 L763.3,1099.5 L767,1099.4 L770.8,1096.3 L774.5,1096.1 L778.2,1090.9 L781.9,1090.7 L785.6,1088 L789.3,1088.2 L793,1090.4 L796.8,1095.2 L800.5,1085.1 L804.2,1028 L807.9,948.5 L808.5,937.2 L811.6,982.6 L815.3,1050.4 L819,1095.9 L822.8,1100.1 L826.5,1100.5 L830.2,1105.4 L833.9,1107.8 L837.6,1107.2 L841.3,1094.7 L845.1,1087.5 L848.8,1091 L852.5,1097.1 L856.2,1100.9 L859.9,1106.3 L863.6,1100.4 L867.3,1101.9 L871.1,1097.9 L874.8,1100.1 L878.5,1100.5 L882.2,1104 L885.9,1102.1 L889.6,1105.8 L893.3,1104.2 L897.1,1106.3 L900.8,1104.8 L904.5,1108.5 L908.2,1101.9 L911.9,1097.9 L915.6,1030.1 L919.4,952.8 L920.1,931 L923.1,1006.6 L926.8,1077 L930.5,1112 L934.2,1115.6 L937.9,1117.8 L941.6,1117.8 L945.4,1121.2 L949.1,1116.1 L952.8,1109.9 L956.5,1097.6 L960.2,1115.7 L963.9,1116.2 L967.6,1115.4 L971.4,1110.3 L975.1,1107.6 L978.8,1105.5 L982.5,1105.1 L986.2,1102 L989.9,1098.1 L993.7,1076.1" fill="none" stroke="#0000ff" stroke-width="5.2" stroke-linejoin="round"/>
<path d="M287.8,1038.1 L291.5,1021 L295.2,1017 L298.9,1000.8 L302.7,1013 L306.4,1013.7 L310.1,1024.1 L313.8,1002.5 L317.5,1010.7 L321.2,1008.2 L324.9,1015.5 L328.7,1011.4 L332.4,1019.3 L336.1,1012.9 L339.8,1027.1 L343.5,1026.6 L347.2,1023.1 L351,1004.8 L354.7,1002.5 L358.4,994.2 L361.9,992.6 L362.1,990.6 L365.8,994.8 L369.5,993.2 L373.2,1000.5 L377,988.6 L380.7,990.8 L384.4,979.7 L388.1,980.1 L391.8,978.2 L395.5,983.1 L399.2,980.2 L403,997.1 L406.7,1007.3 L410.4,1002.5 L414.1,983 L417.8,985.5 L421.5,975 L425.3,977.9 L429,976.1 L432.7,982.6 L436.4,981.3 L440.1,990.3 L443.8,989.8 L447.5,998.6 L451.3,999.6 L455,1010.2 L458.7,1000.2 L462.4,1001.3 L466.1,990.6 L469.8,989.6 L473,983.4 L473.5,986.5 L477.3,991.7 L481,1011.4 L484.7,1015.4 L488.4,1026.7 L492.1,1016.3 L495.8,1012.4 L499.6,1001.3 L503.3,1009.2 L507,1008.1 L510.7,1016.5 L514.4,1014.6 L518.1,1021.7 L521.8,1015.4 L525.6,1019 L529.3,1012.4 L533,1025.6 L536.7,1026.9 L540.4,1030.1 L544.1,1019.3 L547.8,1017.2 L551.6,1013.2 L555.3,1026.4 L559,1027.3 L562.7,1032.4 L566.4,1017.1 L570.1,1026.1 L573.9,1025.7 L577.6,1032.9 L581.3,1003 L585,990.7 L585.2,988 L588.7,999.4 L592.4,1016.2 L596.1,1034.7 L599.9,1026.2 L603.6,1033 L607.3,1028.3 L611,1042.7 L614.7,1046 L618.4,1050.5 L622.1,1027.5 L625.9,1019.4 L629.6,1024.3 L633.3,1036.1 L637,1040.1 L640.7,1044.4 L644.4,1038.5 L648.2,1041.2 L651.9,1035.6 L655.6,1045 L659.3,1042.3 L663,1056.6 L666.7,1059.1 L670.4,1063.1 L674.2,1053.7 L677.9,1058.5 L681.6,1048.7 L685.3,1051.1 L689,1024 L692.7,1003 L696.5,987.1 L696.7,990.4 L700.2,998.1 L703.9,1023.9 L707.6,1042 L711.3,1065.4 L715,1063.2 L718.7,1061.1 L722.5,1049.3 L726.2,1049.5 L729.9,1041.8 L733.6,1043.6 L737.3,1036.8 L741,1047 L744.7,1048.6 L748.5,1061.8 L752.2,1064.8 L755.9,1077.4 L759.6,1065.7 L763.3,1063.7 L767,1051 L770.8,1061.9 L774.5,1066.2 L778.2,1076.9 L781.9,1069.6 L785.6,1071.3 L789.3,1065.8 L793,1070.8 L796.8,1061 L800.5,1046.8 L804.2,1011.2 L807.9,996.2 L808.5,994.8 L811.6,1004.4 L815.3,1029.9 L819,1064.7 L822.8,1083.1 L826.5,1084.9 L830.2,1077.1 L833.9,1078.6 L837.6,1067 L841.3,1070 L845.1,1061.2 L848.8,1070.6 L852.5,1069.6 L856.2,1079 L859.9,1076.5 L863.6,1082.7 L867.3,1068 L871.1,1065.4 L874.8,1049.7 L878.5,1043.6 L882.2,1050.1 L885.9,1065.9 L889.6,1073.8 L893.3,1084.6 L897.1,1083.8 L900.8,1088.5 L904.5,1086.6 L908.2,1072.1 L911.9,1038.5 L915.6,1006.1 L919.4,986.2 L920.1,985.9 L923.1,993.7 L926.8,1023.6 L930.5,1052.9 L934.2,1080.4 L937.9,1082.1 L941.6,1092.3 L945.4,1091.5 L949.1,1092.7 L952.8,1081.5 L956.5,1082.9 L960.2,1073.4 L963.9,1079.7 L967.6,1077 L971.4,1086.1 L975.1,1082.3 L978.8,1077.9 L982.5,1062.2 L986.2,1060.5 L989.9,1044.4 L993.7,1059.8" fill="none" stroke="#2e8b57" stroke-width="3.6" stroke-linejoin="round"/>
<path d="M287.8,1054.5 L291.5,1036.1 L295.2,1018.9 L298.9,1024.9 L302.7,1028.2 L306.4,1034.7 L310.1,1038.3 L313.8,1036 L317.5,1030.9 L321.2,1028 L324.9,1022.9 L328.7,1023.4 L332.4,1028.4 L336.1,1037.2 L339.8,1041.2 L343.5,1046.1 L347.2,1039.4 L351,1038 L354.7,1030.1 L358.4,1029 L361.9,1023 L362.1,1025.1 L365.8,1019.9 L369.5,1019.3 L373.2,1014.4 L377,1010.9 L380.7,1006 L384.4,1004.6 L388.1,1003.4 L391.8,1008.1 L395.5,1004.9 L399.2,1006 L403,1002.9 L406.7,1003.2 L410.4,1000.8 L414.1,998.7 L417.8,994.1 L421.5,993.9 L425.3,989.5 L429,992.7 L432.7,1004.3 L436.4,1019.8 L440.1,1014.8 L443.8,1011.6 L447.5,1006 L451.3,1009.1 L455,1007.9 L458.7,1012.2 L462.4,1009.9 L466.1,1013.4 L469.8,1015.5 L473,1022.3 L473.5,1021.8 L477.3,1029.6 L481,1032.7 L484.7,1037.7 L488.4,1029.9 L492.1,1024.8 L495.8,1016.1 L499.6,1024.1 L503.3,1025.8 L507,1033.4 L510.7,1036.1 L514.4,1043.9 L518.1,1043.6 L521.8,1046.8 L525.6,1044.9 L529.3,1049.7 L533,1047.5 L536.7,1048 L540.4,1043.7 L544.1,1042.8 L547.8,1037.2 L551.6,1042.4 L555.3,1042.9 L559,1049.7 L562.7,1050.7 L566.4,1054.1 L570.1,1053.7 L573.9,1055.8 L577.6,1055.1 L581.3,1055.7 L585,1055.3 L585.2,1057.1 L588.7,1055.2 L592.4,1056 L596.1,1055.6 L599.9,1060.5 L603.6,1060.5 L607.3,1063.7 L611,1063.6 L614.7,1066.9 L618.4,1040.9 L622.1,1022.4 L625.9,1031.9 L629.6,1046.6 L633.3,1058.1 L637,1070.5 L640.7,1064.6 L644.4,1065.2 L648.2,1062.5 L651.9,1061.6 L655.6,1058.2 L659.3,1057.5 L663,1062.2 L666.7,1077.7 L670.4,1076.9 L674.2,1073.3 L677.9,1067.3 L681.6,1066.2 L685.3,1065.6 L689,1072 L692.7,1067.4 L696.5,1066.1 L696.7,1063 L700.2,1068.3 L703.9,1070.1 L707.6,1077.7 L711.3,1078 L715,1085.1 L718.7,1079.7 L722.5,1078.6 L726.2,1077 L729.9,1079.3 L733.6,1078.3 L737.3,1079.3 L741,1081.5 L744.7,1085.1 L748.5,1086.8 L752.2,1090.6 L755.9,1093.6 L759.6,1097 L763.3,1099.5 L767,1099.4 L770.8,1096.3 L774.5,1096.1 L778.2,1090.9 L781.9,1090.7 L785.6,1088 L789.3,1088.2 L793,1090.4 L796.8,1095.2 L800.5,1092.2 L804.2,1093.8 L807.9,1033.9 L808.5,1026.1 L811.6,1040.2 L815.3,1073 L819,1095.9 L822.8,1100.1 L826.5,1100.5 L830.2,1105.4 L833.9,1107.8 L837.6,1107.2 L841.3,1094.7 L845.1,1087.5 L848.8,1091 L852.5,1097.1 L856.2,1100.9 L859.9,1106.3 L863.6,1100.4 L867.3,1101.9 L871.1,1097.9 L874.8,1100.1 L878.5,1100.5 L882.2,1104 L885.9,1102.1 L889.6,1105.8 L893.3,1104.2 L897.1,1106.3 L900.8,1104.8 L904.5,1108.5 L908.2,1101.9 L911.9,1103.1 L915.6,1097.1 L919.4,1102.5 L920.1,1101 L923.1,1105.7 L926.8,1107.5 L930.5,1112 L934.2,1115.6 L937.9,1117.8 L941.6,1117.8 L945.4,1121.2 L949.1,1116.1 L952.8,1109.9 L956.5,1097.6 L960.2,1115.7 L963.9,1116.2 L967.6,1115.4 L971.4,1110.3 L975.1,1107.6 L978.8,1105.5 L982.5,1105.1 L986.2,1102 L989.9,1098.1 L993.7,1076.1" fill="none" stroke="#d9651c" stroke-width="4.4" stroke-dasharray="4.5 4" stroke-linejoin="round"/>
</g>
<rect x="372.5" y="865.7" width="610.2" height="38.3" fill="#fff" stroke="#262626" stroke-width="3"/>
<line x1="380.5" y1="884.9" x2="424.6" y2="884.9" stroke="#0000ff" stroke-width="4.8"/>
<line x1="659.6" y1="884.9" x2="703.8" y2="884.9" stroke="#2e8b57" stroke-width="3.2"/>
<line x1="785.4" y1="884.9" x2="826.2" y2="884.9" stroke="#d95f1a" stroke-width="4" stroke-dasharray="4 4"/>
<text x="428.2" y="896.9" font-family="Liberation Sans" font-weight="bold" font-size="29.40" fill="#000" textLength="216.6" lengthAdjust="spacingAndGlyphs">Contaminated</text>
<text x="705.9" y="896.9" font-family="Liberation Sans" font-weight="bold" font-size="29.40" fill="#000" textLength="69.5" lengthAdjust="spacingAndGlyphs">GSB</text>
<text x="832.1" y="896.9" font-family="Liberation Sans" font-weight="bold" font-size="29.40" fill="#000" textLength="143" lengthAdjust="spacingAndGlyphs">SAG-RLS</text>
<line x1="1196.1" y1="853.1" x2="1196.1" y2="1138.5" stroke="#262626" stroke-width="3.7"/>
<line x1="1194.1" y1="1158.4" x2="1906.5" y2="1158.4" stroke="#262626" stroke-width="3.7"/>
<line x1="1194.6" y1="887.8" x2="1205.1" y2="887.8" stroke="#262626" stroke-width="3.5"/>
<line x1="1194.6" y1="952.1" x2="1205.1" y2="952.1" stroke="#262626" stroke-width="3.5"/>
<line x1="1194.6" y1="1016.5" x2="1205.1" y2="1016.5" stroke="#262626" stroke-width="3.5"/>
<line x1="1194.6" y1="1080.8" x2="1205.1" y2="1080.8" stroke="#262626" stroke-width="3.5"/>
<line x1="1194.6" y1="1145.2" x2="1205.1" y2="1145.2" stroke="#262626" stroke-width="3.5"/>
<line x1="1270.7" y1="1158.4" x2="1270.7" y2="1150.4" stroke="#262626" stroke-width="3.5"/>
<line x1="1382.2" y1="1158.4" x2="1382.2" y2="1150.4" stroke="#262626" stroke-width="3.5"/>
<line x1="1493.7" y1="1158.4" x2="1493.7" y2="1150.4" stroke="#262626" stroke-width="3.5"/>
<line x1="1605.2" y1="1158.4" x2="1605.2" y2="1150.4" stroke="#262626" stroke-width="3.5"/>
<line x1="1717.4" y1="1158.4" x2="1717.4" y2="1150.4" stroke="#262626" stroke-width="3.5"/>
<line x1="1829" y1="1158.4" x2="1829" y2="1150.4" stroke="#262626" stroke-width="3.5"/>
<g clip-path="url(#psdB)">
<path d="M1196.1,1068.5 L1199.8,1059.3 L1203.5,1062.9 L1207.2,1053.4 L1211,1042.3 L1214.7,1040.5 L1218.4,1035.9 L1222.1,1034.7 L1225.8,1036.8 L1229.5,1041 L1233.2,1043.2 L1237,1046.8 L1240.7,1047 L1244.4,1047.5 L1248.1,1043.2 L1251.8,1041.5 L1255.5,1036.5 L1259.3,1036.8 L1263,1025.4 L1266.7,1010.2 L1270.1,992.9 L1270.4,994.7 L1274.1,1009.6 L1277.8,1025.4 L1281.5,1026.1 L1285.3,1022.2 L1289,1016.8 L1292.7,1015.5 L1296.4,1010.3 L1300.1,1009.1 L1303.8,1006.3 L1307.5,1012.2 L1311.3,1010 L1315,1008.9 L1318.7,1006.2 L1322.4,1004.3 L1326.1,1004.6 L1329.8,1009.2 L1333.6,1009.9 L1337.3,1025 L1341,1036.1 L1344.7,1051 L1348.4,1039.8 L1352.1,1033.6 L1355.8,1024.9 L1359.6,1019.9 L1363.3,1012.4 L1367,1021 L1370.7,1023 L1374.4,1022.2 L1378.1,999.4 L1381.8,977.8 L1382.3,973.1 L1385.6,998.8 L1389.3,1022.9 L1393,1035.8 L1396.7,1037.3 L1400.4,1041.5 L1404.1,1040.3 L1407.9,1043.3 L1411.6,1040.1 L1415.3,1046.1 L1419,1058.3 L1422.7,1053.7 L1426.4,1043.7 L1430.1,1052.5 L1433.9,1066.1 L1437.6,1065.8 L1441.3,1053.5 L1445,1050.9 L1448.7,1051.1 L1452.4,1054.7 L1456.1,1053.5 L1459.9,1052.9 L1463.6,1042.8 L1467.3,1051.8 L1471,1057.8 L1474.7,1067.5 L1478.4,1063.3 L1482.2,1060.5 L1485.9,1052.9 L1489.6,1019.7 L1493.3,976.4 L1494.1,961.7 L1497,1004.3 L1500.7,1047.6 L1504.4,1055.9 L1508.2,1055.3 L1511.9,1058.4 L1515.6,1064.8 L1519.3,1061.1 L1523,1054.4 L1526.7,1040.8 L1530.4,1034.7 L1534.2,1046.8 L1537.9,1068.5 L1541.6,1071.3 L1545.3,1068 L1549,1058.8 L1552.7,1060 L1556.5,1062.1 L1560.2,1072.4 L1563.9,1080.8 L1567.6,1081.8 L1571.3,1073.4 L1575,1069.2 L1578.7,1066 L1582.5,1072 L1586.2,1076.5 L1589.9,1085.9 L1593.6,1090 L1597.3,1087.8 L1601,1030.2 L1604.7,970.4 L1605.6,949.2 L1608.5,1001.3 L1612.2,1047.5 L1615.9,1074.9 L1619.6,1074.2 L1623.3,1080.8 L1627,1082 L1630.8,1088.2 L1634.5,1091.4 L1638.2,1097.3 L1641.9,1095.8 L1645.6,1096.1 L1649.3,1095.4 L1653,1093.7 L1656.8,1085.7 L1660.5,1085.6 L1664.2,1088.8 L1667.9,1092.5 L1671.6,1096.8 L1675.3,1104 L1679,1097.7 L1682.8,1089.5 L1686.5,1094.2 L1690.2,1105.1 L1693.9,1107.3 L1697.6,1105.7 L1701.3,1101.2 L1705.1,1097.6 L1708.8,1089.3 L1712.5,1033.3 L1716.2,976.3 L1717.8,957.6 L1719.9,986 L1723.6,1065.4 L1727.3,1106.1 L1731.1,1109.3 L1734.8,1108.7 L1738.5,1107.8 L1742.2,1097.5 L1745.9,1097 L1749.6,1095.9 L1753.3,1099.5 L1757.1,1100.1 L1760.8,1102.9 L1764.5,1102.3 L1768.2,1106.3 L1771.9,1102.8 L1775.6,1106.9 L1779.4,1105.4 L1783.1,1107.4 L1786.8,1105.9 L1790.5,1101.8 L1794.2,1096.8 L1797.9,1106.1 L1801.6,1110.2 L1805.4,1118 L1809.1,1112.9 L1812.8,1110.1 L1816.5,1103.6 L1820.2,1105.4 L1823.9,1046 L1827.6,977.2 L1829,941 L1831.4,1000.2 L1835.1,1067.5 L1838.8,1110.3 L1842.5,1106.9 L1846.2,1100.2 L1849.9,1108.8 L1853.7,1125.1 L1857.4,1126.7 L1861.1,1122.4 L1864.8,1113.7 L1868.5,1113.5 L1872.2,1104.8 L1875.9,1107.2 L1879.7,1108.8 L1883.4,1112.2 L1887.1,1111.8 L1890.8,1113.2 L1894.5,1111.9 L1898.2,1115.8 L1901.9,1087.9 L1905.7,1074.5" fill="none" stroke="#0000ff" stroke-width="5.2" stroke-linejoin="round"/>
<path d="M1196.1,1043.5 L1199.8,1035.8 L1203.5,1049.6 L1207.2,1045.9 L1211,1029.8 L1214.7,1028 L1218.4,1009.9 L1222.1,1005.5 L1225.8,1007.1 L1229.5,1020.5 L1233.2,1022.7 L1237,1035.1 L1240.7,1031.9 L1244.4,1023.2 L1248.1,1017.7 L1251.8,1027.7 L1255.5,1021.6 L1259.3,1015.3 L1263,999.5 L1266.7,995.3 L1270.1,998 L1270.4,1002.2 L1274.1,1014.2 L1277.8,1033.2 L1281.5,1004.5 L1285.3,1003.9 L1289,993.1 L1292.7,1005.7 L1296.4,1004.8 L1300.1,998.8 L1303.8,985.8 L1307.5,992.5 L1311.3,985.4 L1315,997.5 L1318.7,993.7 L1322.4,996 L1326.1,984.1 L1329.8,988.7 L1333.6,984 L1337.3,998.9 L1341,1006.1 L1344.7,1022.1 L1348.4,1001.7 L1352.1,1001.3 L1355.8,996.6 L1359.6,1001.5 L1363.3,995.5 L1367,1001.3 L1370.7,999 L1374.4,1013.9 L1378.1,1003.2 L1381.8,997.9 L1382.3,996.3 L1385.6,1005.6 L1389.3,1016.6 L1393,1021.4 L1396.7,1017.5 L1400.4,1022.4 L1404.1,1020.5 L1407.9,1028 L1411.6,1026.3 L1415.3,1033.4 L1419,1027.2 L1422.7,1033.7 L1426.4,1029.4 L1430.1,1035.3 L1433.9,1036.1 L1437.6,1052.7 L1441.3,1037.4 L1445,1031.6 L1448.7,1029.4 L1452.4,1039.7 L1456.1,1036.7 L1459.9,1038.4 L1463.6,1028.1 L1467.3,1046.1 L1471,1047.9 L1474.7,1045.8 L1478.4,1031.2 L1482.2,1030.3 L1485.9,1034.1 L1489.6,1018.6 L1493.3,999.7 L1494.1,999.4 L1497,1004.8 L1500.7,1032 L1504.4,1035.3 L1508.2,1037.8 L1511.9,1032.6 L1515.6,1043.2 L1519.3,1042.8 L1523,1043.1 L1526.7,1025.6 L1530.4,1030.3 L1534.2,1039.6 L1537.9,1055.4 L1541.6,1047.6 L1545.3,1043.3 L1549,1032.8 L1552.7,1039.1 L1556.5,1035.3 L1560.2,1049.6 L1563.9,1051.4 L1567.6,1063.8 L1571.3,1056.7 L1575,1058.6 L1578.7,1050 L1582.5,1062 L1586.2,1061.7 L1589.9,1073.8 L1593.6,1068.1 L1597.3,1070.7 L1601,1021.9 L1604.7,995 L1605.6,991.1 L1608.5,1003.5 L1612.2,1033.4 L1615.9,1057.2 L1619.6,1052.6 L1623.3,1055.6 L1627,1053 L1630.8,1062.9 L1634.5,1064.1 L1638.2,1074.7 L1641.9,1076.2 L1645.6,1084.5 L1649.3,1084.3 L1653,1086 L1656.8,1072.8 L1660.5,1069.6 L1664.2,1064.5 L1667.9,1081.7 L1671.6,1085 L1675.3,1079.8 L1679,1067.1 L1682.8,1062.1 L1686.5,1071.3 L1690.2,1091.4 L1693.9,1091 L1697.6,1088.4 L1701.3,1071.5 L1705.1,1073.5 L1708.8,1061.6 L1712.5,1036.2 L1716.2,1014.5 L1717.8,1012.9 L1719.9,1018.3 L1723.6,1051 L1727.3,1081 L1731.1,1091.7 L1734.8,1092 L1738.5,1085.5 L1742.2,1066 L1745.9,1069.8 L1749.6,1067.1 L1753.3,1068.8 L1757.1,1058.2 L1760.8,1065.7 L1764.5,1064.9 L1768.2,1075.4 L1771.9,1076.7 L1775.6,1090.4 L1779.4,1081.6 L1783.1,1075 L1786.8,1060.8 L1790.5,1061.5 L1794.2,1059.9 L1797.9,1069.1 L1801.6,1079.5 L1805.4,1095.9 L1809.1,1092.6 L1812.8,1091.8 L1816.5,1081.2 L1820.2,1080.1 L1823.9,1023.4 L1827.6,996.1 L1829,990.9 L1831.4,1003.1 L1835.1,1044.4 L1838.8,1093.6 L1842.5,1084.4 L1846.2,1086.3 L1849.9,1088.6 L1853.7,1102.9 L1857.4,1096.5 L1861.1,1089.4 L1864.8,1071.3 L1868.5,1064.9 L1872.2,1058.9 L1875.9,1078.7 L1879.7,1085.9 L1883.4,1092.3 L1887.1,1083.7 L1890.8,1089 L1894.5,1078.1 L1898.2,1066.5 L1901.9,1057.4 L1905.7,1072.2" fill="none" stroke="#2e8b57" stroke-width="3.6" stroke-linejoin="round"/>
<path d="M1196.1,1068.5 L1199.8,1059.3 L1203.5,1062.9 L1207.2,1053.4 L1211,1042.3 L1214.7,1040.5 L1218.4,1035.9 L1222.1,1034.7 L1225.8,1036.8 L1229.5,1041 L1233.2,1043.2 L1237,1046.8 L1240.7,1047 L1244.4,1047.5 L1248.1,1043.2 L1251.8,1041.5 L1255.5,1036.5 L1259.3,1036.8 L1263,1030.4 L1266.7,1029 L1270.1,1022.6 L1270.4,1024.5 L1274.1,1023.8 L1277.8,1028.2 L1281.5,1026.1 L1285.3,1022.2 L1289,1016.8 L1292.7,1015.5 L1296.4,1010.3 L1300.1,1009.1 L1303.8,1006.3 L1307.5,1012.2 L1311.3,1010 L1315,1008.9 L1318.7,1006.2 L1322.4,1004.3 L1326.1,1004.6 L1329.8,1009.2 L1333.6,1009.9 L1337.3,1025 L1341,1036.1 L1344.7,1051 L1348.4,1039.8 L1352.1,1033.6 L1355.8,1024.9 L1359.6,1019.9 L1363.3,1012.4 L1367,1021 L1370.7,1023 L1374.4,1025 L1378.1,1019.4 L1381.8,1021.5 L1382.3,1021.2 L1385.6,1029.3 L1389.3,1031.7 L1393,1035.8 L1396.7,1037.3 L1400.4,1041.5 L1404.1,1040.3 L1407.9,1043.3 L1411.6,1040.1 L1415.3,1046.1 L1419,1058.3 L1422.7,1053.7 L1426.4,1043.7 L1430.1,1052.5 L1433.9,1066.1 L1437.6,1065.8 L1441.3,1053.5 L1445,1050.9 L1448.7,1051.1 L1452.4,1054.7 L1456.1,1053.5 L1459.9,1052.9 L1463.6,1042.8 L1467.3,1051.8 L1471,1057.8 L1474.7,1067.5 L1478.4,1063.3 L1482.2,1060.5 L1485.9,1055.4 L1489.6,1058.3 L1493.3,1060.7 L1494.1,1063.2 L1497,1063.4 L1500.7,1067.1 L1504.4,1055.9 L1508.2,1055.3 L1511.9,1058.4 L1515.6,1064.8 L1519.3,1061.1 L1523,1054.4 L1526.7,1040.8 L1530.4,1034.7 L1534.2,1046.8 L1537.9,1068.5 L1541.6,1071.3 L1545.3,1068 L1549,1058.8 L1552.7,1060 L1556.5,1062.1 L1560.2,1072.4 L1563.9,1080.8 L1567.6,1081.8 L1571.3,1073.4 L1575,1069.2 L1578.7,1066 L1582.5,1072 L1586.2,1076.5 L1589.9,1085.9 L1593.6,1090 L1597.3,1090.4 L1601,1081.7 L1604.7,1078.1 L1605.6,1073.8 L1608.5,1073 L1612.2,1069.7 L1615.9,1074.9 L1619.6,1074.2 L1623.3,1080.8 L1627,1082 L1630.8,1088.2 L1634.5,1091.4 L1638.2,1097.3 L1641.9,1095.8 L1645.6,1096.1 L1649.3,1095.4 L1653,1093.7 L1656.8,1085.7 L1660.5,1085.6 L1664.2,1088.8 L1667.9,1092.5 L1671.6,1096.8 L1675.3,1104 L1679,1097.7 L1682.8,1089.5 L1686.5,1094.2 L1690.2,1105.1 L1693.9,1107.3 L1697.6,1105.7 L1701.3,1101.2 L1705.1,1097.6 L1708.8,1089.3 L1712.5,1067.7 L1716.2,1029.6 L1717.8,1016.6 L1719.9,1047.8 L1723.6,1105.2 L1727.3,1106.1 L1731.1,1109.3 L1734.8,1108.7 L1738.5,1107.8 L1742.2,1097.5 L1745.9,1097 L1749.6,1095.9 L1753.3,1099.5 L1757.1,1100.1 L1760.8,1102.9 L1764.5,1102.3 L1768.2,1106.3 L1771.9,1102.8 L1775.6,1106.9 L1779.4,1105.4 L1783.1,1107.4 L1786.8,1105.9 L1790.5,1101.8 L1794.2,1096.8 L1797.9,1106.1 L1801.6,1110.2 L1805.4,1118 L1809.1,1112.9 L1812.8,1110.1 L1816.5,1103.6 L1820.2,1105.4 L1823.9,1101.2 L1827.6,1105.3 L1829,1103.5 L1831.4,1105.6 L1835.1,1105.8 L1838.8,1110.3 L1842.5,1106.9 L1846.2,1100.2 L1849.9,1108.8 L1853.7,1125.1 L1857.4,1126.7 L1861.1,1122.4 L1864.8,1113.7 L1868.5,1113.5 L1872.2,1104.8 L1875.9,1107.2 L1879.7,1108.8 L1883.4,1112.2 L1887.1,1111.8 L1890.8,1113.2 L1894.5,1111.9 L1898.2,1115.8 L1901.9,1087.9 L1905.7,1074.5" fill="none" stroke="#d9651c" stroke-width="4.4" stroke-dasharray="4.5 4" stroke-linejoin="round"/>
</g>
<rect x="1282.2" y="865.7" width="608.7" height="38.3" fill="#fff" stroke="#262626" stroke-width="3"/>
<line x1="1289.5" y1="884.9" x2="1334" y2="884.9" stroke="#0000ff" stroke-width="4.8"/>
<line x1="1568.5" y1="884.9" x2="1612.7" y2="884.9" stroke="#2e8b57" stroke-width="3.2"/>
<line x1="1694" y1="884.9" x2="1735" y2="884.9" stroke="#d95f1a" stroke-width="4" stroke-dasharray="4 4"/>
<text x="1337.2" y="896.9" font-family="Liberation Sans" font-weight="bold" font-size="29.40" fill="#000" textLength="216.5" lengthAdjust="spacingAndGlyphs">Contaminated</text>
<text x="1614.7" y="896.9" font-family="Liberation Sans" font-weight="bold" font-size="29.40" fill="#000" textLength="69.8" lengthAdjust="spacingAndGlyphs">GSB</text>
<text x="1741.1" y="896.9" font-family="Liberation Sans" font-weight="bold" font-size="29.40" fill="#000" textLength="143" lengthAdjust="spacingAndGlyphs">SAG-RLS</text>
<text x="241.1" y="897.9" font-family="Liberation Sans" font-weight="bold" font-size="28.50" fill="#262626" textLength="37.4" lengthAdjust="spacingAndGlyphs">50</text>
<text x="241.1" y="962.2" font-family="Liberation Sans" font-weight="bold" font-size="28.50" fill="#262626" textLength="37.4" lengthAdjust="spacingAndGlyphs">40</text>
<text x="241.1" y="1026.6" font-family="Liberation Sans" font-weight="bold" font-size="28.50" fill="#262626" textLength="37.4" lengthAdjust="spacingAndGlyphs">30</text>
<text x="241.1" y="1090.9" font-family="Liberation Sans" font-weight="bold" font-size="28.50" fill="#262626" textLength="37.4" lengthAdjust="spacingAndGlyphs">20</text>
<text x="241.1" y="1155.3" font-family="Liberation Sans" font-weight="bold" font-size="28.50" fill="#262626" textLength="37.4" lengthAdjust="spacingAndGlyphs">10</text>
<text x="343.7" y="1196.5" font-family="Liberation Sans" font-weight="bold" font-size="29.40" fill="#262626" textLength="36.6" lengthAdjust="spacingAndGlyphs">30</text>
<text x="455.1" y="1196.5" font-family="Liberation Sans" font-weight="bold" font-size="29.40" fill="#262626" textLength="36.6" lengthAdjust="spacingAndGlyphs">60</text>
<text x="566.8" y="1196.5" font-family="Liberation Sans" font-weight="bold" font-size="29.40" fill="#262626" textLength="36.6" lengthAdjust="spacingAndGlyphs">90</text>
<text x="668.8" y="1196.5" font-family="Liberation Sans" font-weight="bold" font-size="29.40" fill="#262626" textLength="54.9" lengthAdjust="spacingAndGlyphs">120</text>
<text x="780.3" y="1196.5" font-family="Liberation Sans" font-weight="bold" font-size="29.40" fill="#262626" textLength="54.9" lengthAdjust="spacingAndGlyphs">150</text>
<text x="891.8" y="1196.5" font-family="Liberation Sans" font-weight="bold" font-size="29.40" fill="#262626" textLength="54.9" lengthAdjust="spacingAndGlyphs">180</text>
<text x="519.3" y="1235.6" font-family="Liberation Sans" font-weight="bold" font-size="31.70" fill="#262626" textLength="242.2" lengthAdjust="spacingAndGlyphs">Frequency(Hz)</text>
<g clip-path="url(#midp)">
<text x="541" y="808.8" font-family="Liberation Sans" font-weight="bold" font-size="35.50" fill="#000" textLength="198.2" lengthAdjust="spacingAndGlyphs">Amplitude</text>
</g>
<text x="203.5" y="842" font-family="Liberation Sans" font-weight="bold" font-size="31.80" fill="#000" textLength="47.4" lengthAdjust="spacingAndGlyphs">(a)</text>
<g transform="translate(229.3,1066.2) scale(1.23,1) rotate(-90)"><text x="-2" y="0" font-family="Liberation Sans" font-weight="bold" font-size="30.3" fill="#262626">PSD(dB)</text></g>
<text x="1149.4" y="897.9" font-family="Liberation Sans" font-weight="bold" font-size="28.50" fill="#262626" textLength="37.4" lengthAdjust="spacingAndGlyphs">50</text>
<text x="1149.4" y="962.2" font-family="Liberation Sans" font-weight="bold" font-size="28.50" fill="#262626" textLength="37.4" lengthAdjust="spacingAndGlyphs">40</text>
<text x="1149.4" y="1026.6" font-family="Liberation Sans" font-weight="bold" font-size="28.50" fill="#262626" textLength="37.4" lengthAdjust="spacingAndGlyphs">30</text>
<text x="1149.4" y="1090.9" font-family="Liberation Sans" font-weight="bold" font-size="28.50" fill="#262626" textLength="37.4" lengthAdjust="spacingAndGlyphs">20</text>
<text x="1149.4" y="1155.3" font-family="Liberation Sans" font-weight="bold" font-size="28.50" fill="#262626" textLength="37.4" lengthAdjust="spacingAndGlyphs">10</text>
<text x="1252.7" y="1196.5" font-family="Liberation Sans" font-weight="bold" font-size="29.40" fill="#262626" textLength="36.6" lengthAdjust="spacingAndGlyphs">30</text>
<text x="1364" y="1196.5" font-family="Liberation Sans" font-weight="bold" font-size="29.40" fill="#262626" textLength="36.6" lengthAdjust="spacingAndGlyphs">60</text>
<text x="1475.5" y="1196.5" font-family="Liberation Sans" font-weight="bold" font-size="29.40" fill="#262626" textLength="36.6" lengthAdjust="spacingAndGlyphs">90</text>
<text x="1577.4" y="1196.5" font-family="Liberation Sans" font-weight="bold" font-size="29.40" fill="#262626" textLength="54.9" lengthAdjust="spacingAndGlyphs">120</text>
<text x="1689.6" y="1196.5" font-family="Liberation Sans" font-weight="bold" font-size="29.40" fill="#262626" textLength="54.9" lengthAdjust="spacingAndGlyphs">150</text>
<text x="1801.2" y="1196.5" font-family="Liberation Sans" font-weight="bold" font-size="29.40" fill="#262626" textLength="54.9" lengthAdjust="spacingAndGlyphs">180</text>
<text x="1427.6" y="1235.6" font-family="Liberation Sans" font-weight="bold" font-size="31.70" fill="#262626" textLength="242.2" lengthAdjust="spacingAndGlyphs">Frequency(Hz)</text>
<g clip-path="url(#midp)">
<text x="1430.4" y="808.8" font-family="Liberation Sans" font-weight="bold" font-size="35.50" fill="#000" textLength="237.2" lengthAdjust="spacingAndGlyphs">Pulse Width</text>
</g>
<text x="1111.7" y="842" font-family="Liberation Sans" font-weight="bold" font-size="31.80" fill="#000" textLength="47.2" lengthAdjust="spacingAndGlyphs">(b)</text>
<g transform="translate(1137.6,1066.2) scale(1.23,1) rotate(-90)"><text x="-2" y="0" font-family="Liberation Sans" font-weight="bold" font-size="30.3" fill="#262626">PSD(dB)</text></g>
<path d="M288.4,1270.3 V1575 H996.3" fill="none" stroke="#262626" stroke-width="3.7"/>
<line x1="288.4" y1="1277.7" x2="296.4" y2="1277.7" stroke="#262626" stroke-width="3.5"/>
<line x1="288.4" y1="1347.1" x2="296.4" y2="1347.1" stroke="#262626" stroke-width="3.5"/>
<line x1="288.4" y1="1415.7" x2="296.4" y2="1415.7" stroke="#262626" stroke-width="3.5"/>
<line x1="288.4" y1="1484.6" x2="296.4" y2="1484.6" stroke="#262626" stroke-width="3.5"/>
<line x1="288.4" y1="1553.5" x2="296.4" y2="1553.5" stroke="#262626" stroke-width="3.5"/>
<line x1="365" y1="1575" x2="365" y2="1567" stroke="#262626" stroke-width="3.5"/>
<line x1="443.7" y1="1575" x2="443.7" y2="1567" stroke="#262626" stroke-width="3.5"/>
<line x1="522.4" y1="1575" x2="522.4" y2="1567" stroke="#262626" stroke-width="3.5"/>
<line x1="601.1" y1="1575" x2="601.1" y2="1567" stroke="#262626" stroke-width="3.5"/>
<line x1="679.8" y1="1575" x2="679.8" y2="1567" stroke="#262626" stroke-width="3.5"/>
<line x1="758.5" y1="1575" x2="758.5" y2="1567" stroke="#262626" stroke-width="3.5"/>
<line x1="837.2" y1="1575" x2="837.2" y2="1567" stroke="#262626" stroke-width="3.5"/>
<line x1="915.9" y1="1575" x2="915.9" y2="1567" stroke="#262626" stroke-width="3.5"/>
<path d="M357.4,1465 V1554.8 M346.6,1465 H368.2 M346.6,1554.8 H368.2" stroke="#2d7d5a" stroke-width="4.6" fill="none"/>
<ellipse cx="357.4" cy="1509.2" rx="7.6" ry="6.9" fill="#2d7d5a"/>
<path d="M436.1,1330.4 V1411.3 M425.3,1330.4 H446.9 M425.3,1411.3 H446.9" stroke="#2d7d5a" stroke-width="4.6" fill="none"/>
<ellipse cx="436.1" cy="1370.5" rx="7.6" ry="6.9" fill="#2d7d5a"/>
<path d="M514.8,1335.2 V1425.6 M504,1335.2 H525.6 M504,1425.6 H525.6" stroke="#2d7d5a" stroke-width="4.6" fill="none"/>
<ellipse cx="514.8" cy="1380.7" rx="7.6" ry="6.9" fill="#2d7d5a"/>
<path d="M593.5,1424.2 V1479.3 M582.7,1424.2 H604.3 M582.7,1479.3 H604.3" stroke="#2d7d5a" stroke-width="4.6" fill="none"/>
<ellipse cx="593.5" cy="1451.4" rx="7.6" ry="6.9" fill="#2d7d5a"/>
<path d="M672.2,1331.8 V1416.1 M661.4,1331.8 H683 M661.4,1416.1 H683" stroke="#2d7d5a" stroke-width="4.6" fill="none"/>
<ellipse cx="672.2" cy="1373.9" rx="7.6" ry="6.9" fill="#2d7d5a"/>
<path d="M750.9,1441.9 V1541.2 M740.1,1441.9 H761.7 M740.1,1541.2 H761.7" stroke="#2d7d5a" stroke-width="4.6" fill="none"/>
<ellipse cx="750.9" cy="1490.9" rx="7.6" ry="6.9" fill="#2d7d5a"/>
<path d="M829.6,1350.8 V1420.2 M818.8,1350.8 H840.4 M818.8,1420.2 H840.4" stroke="#2d7d5a" stroke-width="4.6" fill="none"/>
<ellipse cx="829.6" cy="1384.8" rx="7.6" ry="6.9" fill="#2d7d5a"/>
<path d="M908.3,1353.5 V1429.7 M897.5,1353.5 H919.1 M897.5,1429.7 H919.1" stroke="#2d7d5a" stroke-width="4.6" fill="none"/>
<ellipse cx="908.3" cy="1390.9" rx="7.6" ry="6.9" fill="#2d7d5a"/>
<path d="M371,1412.7 V1544.6 M360.2,1412.7 H381.8 M360.2,1544.6 H381.8" stroke="#d9651c" stroke-width="4.6" fill="none"/>
<ellipse cx="371" cy="1477.3" rx="7.6" ry="6.9" fill="#d9651c"/>
<path d="M449.7,1328.4 V1391.6 M438.9,1328.4 H460.5 M438.9,1391.6 H460.5" stroke="#d9651c" stroke-width="4.6" fill="none"/>
<ellipse cx="449.7" cy="1359.6" rx="7.6" ry="6.9" fill="#d9651c"/>
<path d="M528.4,1334.5 V1390.2 M517.6,1334.5 H539.2 M517.6,1390.2 H539.2" stroke="#d9651c" stroke-width="4.6" fill="none"/>
<ellipse cx="528.4" cy="1361.7" rx="7.6" ry="6.9" fill="#d9651c"/>
<path d="M607.1,1380.7 V1426.3 M596.3,1380.7 H617.9 M596.3,1426.3 H617.9" stroke="#d9651c" stroke-width="4.6" fill="none"/>
<ellipse cx="607.1" cy="1403.2" rx="7.6" ry="6.9" fill="#d9651c"/>
<path d="M685.8,1327.7 V1393 M675,1327.7 H696.6 M675,1393 H696.6" stroke="#d9651c" stroke-width="4.6" fill="none"/>
<ellipse cx="685.8" cy="1359.6" rx="7.6" ry="6.9" fill="#d9651c"/>
<path d="M764.5,1395 V1521.5 M753.7,1395 H775.3 M753.7,1521.5 H775.3" stroke="#d9651c" stroke-width="4.6" fill="none"/>
<ellipse cx="764.5" cy="1458.2" rx="7.6" ry="6.9" fill="#d9651c"/>
<path d="M843.2,1344 V1377.3 M832.4,1344 H854 M832.4,1377.3 H854" stroke="#d9651c" stroke-width="4.6" fill="none"/>
<ellipse cx="843.2" cy="1360.3" rx="7.6" ry="6.9" fill="#d9651c"/>
<path d="M921.9,1343.3 V1375.3 M911.1,1343.3 H932.7 M911.1,1375.3 H932.7" stroke="#d9651c" stroke-width="4.6" fill="none"/>
<ellipse cx="921.9" cy="1358.3" rx="7.6" ry="6.9" fill="#d9651c"/>
<text x="257.7" y="1287.5" font-family="Liberation Sans" font-weight="bold" font-size="28.00" fill="#262626" textLength="17.9" lengthAdjust="spacingAndGlyphs">4</text>
<text x="258.7" y="1356.9" font-family="Liberation Sans" font-weight="bold" font-size="28.00" fill="#262626" textLength="17.9" lengthAdjust="spacingAndGlyphs">3</text>
<text x="258.8" y="1425.5" font-family="Liberation Sans" font-weight="bold" font-size="28.00" fill="#262626" textLength="17.9" lengthAdjust="spacingAndGlyphs">2</text>
<text x="258.4" y="1494.4" font-family="Liberation Sans" font-weight="bold" font-size="28.00" fill="#262626" textLength="17.9" lengthAdjust="spacingAndGlyphs">1</text>
<text x="258.8" y="1563.3" font-family="Liberation Sans" font-weight="bold" font-size="28.00" fill="#262626" textLength="17.9" lengthAdjust="spacingAndGlyphs">0</text>
<text x="355.3" y="1611" font-family="Liberation Sans" font-weight="bold" font-size="28.50" fill="#262626" textLength="18.2" lengthAdjust="spacingAndGlyphs">1</text>
<text x="434.7" y="1611" font-family="Liberation Sans" font-weight="bold" font-size="28.50" fill="#262626" textLength="18.2" lengthAdjust="spacingAndGlyphs">2</text>
<text x="513.5" y="1611" font-family="Liberation Sans" font-weight="bold" font-size="28.50" fill="#262626" textLength="18.2" lengthAdjust="spacingAndGlyphs">3</text>
<text x="591.8" y="1611" font-family="Liberation Sans" font-weight="bold" font-size="28.50" fill="#262626" textLength="18.2" lengthAdjust="spacingAndGlyphs">4</text>
<text x="670.6" y="1611" font-family="Liberation Sans" font-weight="bold" font-size="28.50" fill="#262626" textLength="18.2" lengthAdjust="spacingAndGlyphs">5</text>
<text x="749.4" y="1611" font-family="Liberation Sans" font-weight="bold" font-size="28.50" fill="#262626" textLength="18.2" lengthAdjust="spacingAndGlyphs">6</text>
<text x="828.1" y="1611" font-family="Liberation Sans" font-weight="bold" font-size="28.50" fill="#262626" textLength="18.2" lengthAdjust="spacingAndGlyphs">7</text>
<text x="906.8" y="1611" font-family="Liberation Sans" font-weight="bold" font-size="28.50" fill="#262626" textLength="18.2" lengthAdjust="spacingAndGlyphs">8</text>
<text x="580.7" y="1650.3" font-family="Liberation Sans" font-weight="bold" font-size="28.70" fill="#262626" textLength="118.6" lengthAdjust="spacingAndGlyphs">subject</text>
<g transform="translate(246.4,1454.3) scale(1.24,1) rotate(-90)"><text x="-2" y="0" font-family="Liberation Sans" font-weight="bold" font-size="29.3" fill="#262626">NSR</text></g>
<rect x="653.6" y="1281.7" width="329.3" height="39.3" fill="#fff" stroke="#262626" stroke-width="2.6"/>
<path d="M680.7,1289.7 V1312.9 M676.2,1289.7 H685.2 M676.2,1312.9 H685.2" stroke="#2d7d5a" stroke-width="2.6" fill="none"/>
<ellipse cx="680.7" cy="1301.4" rx="5.4" ry="5" fill="#2d7d5a"/>
<path d="M807.4,1289.7 V1312.9 M802.9,1289.7 H811.9 M802.9,1312.9 H811.9" stroke="#d9651c" stroke-width="2.6" fill="none"/>
<ellipse cx="807.4" cy="1301.4" rx="5.4" ry="5" fill="#d9651c"/>
<text x="706.6" y="1313.6" font-family="Liberation Sans" font-weight="bold" font-size="29.20" fill="#000" textLength="68.4" lengthAdjust="spacingAndGlyphs">GSB</text>
<text x="832.7" y="1313.6" font-family="Liberation Sans" font-weight="bold" font-size="29.20" fill="#000" textLength="142.9" lengthAdjust="spacingAndGlyphs">SAG-RLS</text>
<text x="195.9" y="1279.3" font-family="Liberation Sans" font-weight="bold" font-size="31.80" fill="#000" textLength="43" lengthAdjust="spacingAndGlyphs">(c)</text>
<path d="M1197,1270.3 V1575.3 H1906.5" fill="none" stroke="#262626" stroke-width="3.7"/>
<line x1="1197" y1="1277.7" x2="1205" y2="1277.7" stroke="#262626" stroke-width="3.5"/>
<line x1="1197" y1="1347.1" x2="1205" y2="1347.1" stroke="#262626" stroke-width="3.5"/>
<line x1="1197" y1="1415.7" x2="1205" y2="1415.7" stroke="#262626" stroke-width="3.5"/>
<line x1="1197" y1="1484.6" x2="1205" y2="1484.6" stroke="#262626" stroke-width="3.5"/>
<line x1="1197" y1="1553.5" x2="1205" y2="1553.5" stroke="#262626" stroke-width="3.5"/>
<line x1="1274.3" y1="1575.3" x2="1274.3" y2="1567.3" stroke="#262626" stroke-width="3.5"/>
<line x1="1352.9" y1="1575.3" x2="1352.9" y2="1567.3" stroke="#262626" stroke-width="3.5"/>
<line x1="1431.5" y1="1575.3" x2="1431.5" y2="1567.3" stroke="#262626" stroke-width="3.5"/>
<line x1="1510.1" y1="1575.3" x2="1510.1" y2="1567.3" stroke="#262626" stroke-width="3.5"/>
<line x1="1588.7" y1="1575.3" x2="1588.7" y2="1567.3" stroke="#262626" stroke-width="3.5"/>
<line x1="1667.3" y1="1575.3" x2="1667.3" y2="1567.3" stroke="#262626" stroke-width="3.5"/>
<line x1="1745.9" y1="1575.3" x2="1745.9" y2="1567.3" stroke="#262626" stroke-width="3.5"/>
<line x1="1824.5" y1="1575.3" x2="1824.5" y2="1567.3" stroke="#262626" stroke-width="3.5"/>
<path d="M1261.3,1467.1 V1558.2 M1250.5,1467.1 H1272.1 M1250.5,1558.2 H1272.1" stroke="#2d7d5a" stroke-width="4.6" fill="none"/>
<ellipse cx="1261.3" cy="1512.6" rx="7.6" ry="6.9" fill="#2d7d5a"/>
<path d="M1339.9,1330.4 V1412.7 M1329.1,1330.4 H1350.7 M1329.1,1412.7 H1350.7" stroke="#2d7d5a" stroke-width="4.6" fill="none"/>
<ellipse cx="1339.9" cy="1371.2" rx="7.6" ry="6.9" fill="#2d7d5a"/>
<path d="M1418.5,1336.5 V1427.6 M1407.7,1336.5 H1429.3 M1407.7,1427.6 H1429.3" stroke="#2d7d5a" stroke-width="4.6" fill="none"/>
<ellipse cx="1418.5" cy="1382.1" rx="7.6" ry="6.9" fill="#2d7d5a"/>
<path d="M1497.1,1438.5 V1494.3 M1486.3,1438.5 H1507.9 M1486.3,1494.3 H1507.9" stroke="#2d7d5a" stroke-width="4.6" fill="none"/>
<ellipse cx="1497.1" cy="1466.4" rx="7.6" ry="6.9" fill="#2d7d5a"/>
<path d="M1575.7,1332.4 V1417.4 M1564.9,1332.4 H1586.5 M1564.9,1417.4 H1586.5" stroke="#2d7d5a" stroke-width="4.6" fill="none"/>
<ellipse cx="1575.7" cy="1374.6" rx="7.6" ry="6.9" fill="#2d7d5a"/>
<path d="M1654.3,1437.2 V1545.3 M1643.5,1437.2 H1665.1 M1643.5,1545.3 H1665.1" stroke="#2d7d5a" stroke-width="4.6" fill="none"/>
<ellipse cx="1654.3" cy="1490.9" rx="7.6" ry="6.9" fill="#2d7d5a"/>
<path d="M1732.9,1350.8 V1424.9 M1722.1,1350.8 H1743.7 M1722.1,1424.9 H1743.7" stroke="#2d7d5a" stroke-width="4.6" fill="none"/>
<ellipse cx="1732.9" cy="1388.2" rx="7.6" ry="6.9" fill="#2d7d5a"/>
<path d="M1811.5,1353.5 V1435.1 M1800.7,1353.5 H1822.3 M1800.7,1435.1 H1822.3" stroke="#2d7d5a" stroke-width="4.6" fill="none"/>
<ellipse cx="1811.5" cy="1394.3" rx="7.6" ry="6.9" fill="#2d7d5a"/>
<path d="M1274.3,1420.8 V1555.5 M1263.5,1420.8 H1285.1 M1263.5,1555.5 H1285.1" stroke="#d9651c" stroke-width="4.6" fill="none"/>
<ellipse cx="1274.3" cy="1488.8" rx="7.6" ry="6.9" fill="#d9651c"/>
<path d="M1352.9,1328.4 V1392.3 M1342.1,1328.4 H1363.7 M1342.1,1392.3 H1363.7" stroke="#d9651c" stroke-width="4.6" fill="none"/>
<ellipse cx="1352.9" cy="1359.6" rx="7.6" ry="6.9" fill="#d9651c"/>
<path d="M1431.5,1335.8 V1391.6 M1420.7,1335.8 H1442.3 M1420.7,1391.6 H1442.3" stroke="#d9651c" stroke-width="4.6" fill="none"/>
<ellipse cx="1431.5" cy="1363" rx="7.6" ry="6.9" fill="#d9651c"/>
<path d="M1510.1,1384.1 V1435.1 M1499.3,1384.1 H1520.9 M1499.3,1435.1 H1520.9" stroke="#d9651c" stroke-width="4.6" fill="none"/>
<ellipse cx="1510.1" cy="1410" rx="7.6" ry="6.9" fill="#d9651c"/>
<path d="M1588.7,1327.7 V1393.6 M1577.9,1327.7 H1599.5 M1577.9,1393.6 H1599.5" stroke="#d9651c" stroke-width="4.6" fill="none"/>
<ellipse cx="1588.7" cy="1359.6" rx="7.6" ry="6.9" fill="#d9651c"/>
<path d="M1667.3,1393.6 V1517.4 M1656.5,1393.6 H1678.1 M1656.5,1517.4 H1678.1" stroke="#d9651c" stroke-width="4.6" fill="none"/>
<ellipse cx="1667.3" cy="1454.8" rx="7.6" ry="6.9" fill="#d9651c"/>
<path d="M1745.9,1344 V1381.4 M1735.1,1344 H1756.7 M1735.1,1381.4 H1756.7" stroke="#d9651c" stroke-width="4.6" fill="none"/>
<ellipse cx="1745.9" cy="1363" rx="7.6" ry="6.9" fill="#d9651c"/>
<path d="M1824.5,1343.3 V1380 M1813.7,1343.3 H1835.3 M1813.7,1380 H1835.3" stroke="#d9651c" stroke-width="4.6" fill="none"/>
<ellipse cx="1824.5" cy="1361" rx="7.6" ry="6.9" fill="#d9651c"/>
<text x="1166.3" y="1287.5" font-family="Liberation Sans" font-weight="bold" font-size="28.00" fill="#262626" textLength="17.9" lengthAdjust="spacingAndGlyphs">4</text>
<text x="1167.3" y="1356.9" font-family="Liberation Sans" font-weight="bold" font-size="28.00" fill="#262626" textLength="17.9" lengthAdjust="spacingAndGlyphs">3</text>
<text x="1167.4" y="1425.5" font-family="Liberation Sans" font-weight="bold" font-size="28.00" fill="#262626" textLength="17.9" lengthAdjust="spacingAndGlyphs">2</text>
<text x="1167" y="1494.4" font-family="Liberation Sans" font-weight="bold" font-size="28.00" fill="#262626" textLength="17.9" lengthAdjust="spacingAndGlyphs">1</text>
<text x="1167.4" y="1563.3" font-family="Liberation Sans" font-weight="bold" font-size="28.00" fill="#262626" textLength="17.9" lengthAdjust="spacingAndGlyphs">0</text>
<text x="1264.6" y="1611" font-family="Liberation Sans" font-weight="bold" font-size="28.50" fill="#262626" textLength="18.2" lengthAdjust="spacingAndGlyphs">1</text>
<text x="1343.9" y="1611" font-family="Liberation Sans" font-weight="bold" font-size="28.50" fill="#262626" textLength="18.2" lengthAdjust="spacingAndGlyphs">2</text>
<text x="1422.6" y="1611" font-family="Liberation Sans" font-weight="bold" font-size="28.50" fill="#262626" textLength="18.2" lengthAdjust="spacingAndGlyphs">3</text>
<text x="1500.8" y="1611" font-family="Liberation Sans" font-weight="bold" font-size="28.50" fill="#262626" textLength="18.2" lengthAdjust="spacingAndGlyphs">4</text>
<text x="1579.5" y="1611" font-family="Liberation Sans" font-weight="bold" font-size="28.50" fill="#262626" textLength="18.2" lengthAdjust="spacingAndGlyphs">5</text>
<text x="1658.2" y="1611" font-family="Liberation Sans" font-weight="bold" font-size="28.50" fill="#262626" textLength="18.2" lengthAdjust="spacingAndGlyphs">6</text>
<text x="1736.8" y="1611" font-family="Liberation Sans" font-weight="bold" font-size="28.50" fill="#262626" textLength="18.2" lengthAdjust="spacingAndGlyphs">7</text>
<text x="1815.4" y="1611" font-family="Liberation Sans" font-weight="bold" font-size="28.50" fill="#262626" textLength="18.2" lengthAdjust="spacingAndGlyphs">8</text>
<text x="1489.3" y="1650.3" font-family="Liberation Sans" font-weight="bold" font-size="28.70" fill="#262626" textLength="118.6" lengthAdjust="spacingAndGlyphs">subject</text>
<g transform="translate(1155,1454.5) scale(1.24,1) rotate(-90)"><text x="-2" y="0" font-family="Liberation Sans" font-weight="bold" font-size="29.3" fill="#262626">NSR</text></g>
<rect x="1563" y="1281.4" width="326.5" height="38.8" fill="#fff" stroke="#262626" stroke-width="2.6"/>
<path d="M1590.3,1289.7 V1312.9 M1585.8,1289.7 H1594.8 M1585.8,1312.9 H1594.8" stroke="#2d7d5a" stroke-width="2.6" fill="none"/>
<ellipse cx="1590.3" cy="1301.4" rx="5.4" ry="5" fill="#2d7d5a"/>
<path d="M1716,1289.7 V1312.9 M1711.5,1289.7 H1720.5 M1711.5,1312.9 H1720.5" stroke="#d9651c" stroke-width="2.6" fill="none"/>
<ellipse cx="1716" cy="1301.4" rx="5.4" ry="5" fill="#d9651c"/>
<text x="1614.1" y="1313.6" font-family="Liberation Sans" font-weight="bold" font-size="29.20" fill="#000" textLength="70.8" lengthAdjust="spacingAndGlyphs">GSB</text>
<text x="1740.3" y="1313.6" font-family="Liberation Sans" font-weight="bold" font-size="29.20" fill="#000" textLength="145" lengthAdjust="spacingAndGlyphs">SAG-RLS</text>
<text x="1101.7" y="1279.3" font-family="Liberation Sans" font-weight="bold" font-size="31.80" fill="#000" textLength="48.7" lengthAdjust="spacingAndGlyphs">(d)</text>
<clipPath id="emgA"><rect x="2379" y="150" width="1588" height="276"/></clipPath>
<g clip-path="url(#emgA)">
<path d="M2546.5,246.8V365M2547.9,219V394.8M2549.3,222.9V408.6M2550.7,257V381.8M2552.1,253.4V357.1M2553.5,246.8V377.3M2554.9,236.2V358.3M2556.3,223.4V358.8M2557.7,247V359.1M2559.1,258.4V397.4M2560.5,201.2V376.5M2561.9,237.1V370.9M2563.3,249.2V381.3M2564.7,227V353.7M2566.1,249.1V369.8M2567.5,206.6V371.8M2568.9,256.7V362.8M2570.3,205.1V365.6M2571.7,243.5V387.1M2573.1,255V366.2M2574.5,242.6V376.2M2575.9,221.1V360.3M2577.3,250.6V424.2M2578.7,200.4V388.6M2580.1,224.8V358M2581.5,237.5V387.3M2582.9,229V363.8M2584.3,234.7V370.6M2585.7,241.2V369.6M2587.1,221.3V403.5M2588.5,241.2V361.7M2589.9,214.1V399.9M2591.3,263.9V381.4M2592.7,223.3V379.9M2594.1,223V389.6M2595.5,254.1V343.2M2596.9,240V347.6M2598.3,264.6V347.5M2599.7,227.7V362M2601.1,254.1V359.7M2602.5,233.7V347.8M2603.9,254.5V390.5M2605.3,247.1V385.3M2606.7,250.1V380.7M2608.1,240.7V376.6M2609.5,258.6V382.2M2610.9,265.4V351.9M2612.3,264V371.3M2613.7,252.1V373.6M2615.1,258.8V346.5M2616.5,253.3V342.8M2617.9,250.3V337.2M2619.3,264.5V364.4M2620.7,268V346.4M2622.1,269.4V334.7M2623.5,236.6V343M2624.9,266.4V364M2626.3,265.2V348.4M2627.7,264.3V366.2M2629.1,268.3V364.6M2630.5,238.7V392M2631.9,254.8V363.2M2633.3,251.7V361.7M2634.7,259.8V362.9M2636.1,207.1V375.1M2637.5,200.4V392.9M2638.9,202.8V351.5M2640.3,223.5V357.4M2641.7,233.4V397.9M2643.1,200.3V395.8M2644.5,254V355.7M2645.9,259.2V365.1M2647.3,220.6V360.7M2648.7,238.5V361.7M2650.1,258.3V347M2651.5,209.2V405.1M2652.9,251.1V348.1M2654.3,231.8V389M2655.7,202.1V357.3M2657.1,251.1V372.3M2658.5,234.6V420.8M2659.9,218.7V387.6M2661.3,252.8V360.3M2662.7,184.4V357.1M2664.1,180.5V359.3M2665.5,236V372M2666.9,251V369M2668.3,240.8V373.5M2669.7,244.5V396.9M2671.1,249.3V386.7M2672.5,228.7V354.9M2673.9,228.9V364.3M2675.3,236.8V361.2M2676.7,232V397.3M2678.1,219.3V381.5M2679.5,253V360.6M2680.9,262.7V376.7M2682.3,267.6V350.6M2683.7,266.7V392M2685.1,257.6V350.6M2686.5,264V344.9M2687.9,256.8V357M2689.3,254.3V376.3M2690.7,213.9V357.4M2692.1,256.1V376.6M2693.5,223.7V387.9M2694.9,236.2V354.1M2696.3,238V366.9M2697.7,266.8V356.6M2699.1,238.7V341M2700.5,269.2V352.4M2701.9,270.9V367.5M2703.3,245V340.2M2704.7,242.5V336.8M2706.1,273V363.8M2707.5,254.8V365.6M2708.9,253.3V369.2M2710.3,264.6V347.1M2711.7,254.5V347.9M2713.1,269.9V350.6M2714.5,244.9V363.1M2715.9,228.6V357.1M2717.3,254.9V386.3M2718.7,233.5V347.2M2720.1,208.1V349.4M2721.5,222.1V350.3M2722.9,234.7V404.7M2724.3,243.1V363M2725.7,256.2V375.8M2727.1,213.9V360.7M2728.5,236.4V354.9M2729.9,211.3V364M2731.3,239.2V368.9M2732.7,258.7V367.2M2734.1,210.3V379.8M2735.5,254.8V352.7M2736.9,216.1V392.7M2738.3,260.4V402.4M2739.7,234.6V361.2M2741.1,232.1V353.4M2742.5,191.3V389.4M2743.9,231.9V359.8M2745.3,250.3V366.4M2746.7,252V380.2M2748.1,251.2V359.9M2749.5,204.4V409.9M2750.9,251.8V405.2M2752.3,248.5V359.8M2753.7,246.5V411.2M2755.1,254.9V396.6M2756.5,244V353.8M2757.9,241.4V393.7M2759.3,207V399.6M2760.7,217.6V379.3M2762.1,255.1V344.5M2763.5,217.3V344.1M2764.9,245.3V350M2766.3,216.1V342.7M2767.7,261.7V379.8M2769.1,240.8V354.4M2770.5,249.2V353.6M2771.9,256.5V348.3M2773.3,253.1V368.1M2774.7,235.6V362.8M2776.1,222.8V351.9M2777.5,245.1V363.7M2778.9,209.9V394M2780.3,259.4V391.7M2781.7,265.9V370.1M2783.1,244.7V342.7M2784.5,246.7V354.5M2785.9,246.4V353.2M2787.3,235.9V341.9M2788.7,274.2V367.7M2790.1,274.6V334.4M2791.5,237.6V335.2M2792.9,259.7V374.8M2794.3,248.9V341.8M2795.7,236.5V336.8M2797.1,260.4V361.2M2798.5,268.5V350.8M2799.9,265.5V349.6M2801.3,234.1V358.9M2802.7,247.5V362.7M2804.1,226V355.3M2805.5,239V405.9M2806.9,246.8V408.5M2808.3,225.3V387.9M2809.7,220.3V358.3M2811.1,211.7V378.6M2812.5,238.4V401.2M2813.9,255.8V357.3M2815.3,257.5V349.1M2816.7,223.5V389M2818.1,249.1V385M2819.5,253.9V360.4M2820.9,216.4V391.9M2822.3,240V371.9M2823.7,260.5V382.7M2825.1,246.8V362.6M2826.5,206.8V371.7M2827.9,238.7V369M2829.3,243.4V355.8M2830.7,207.4V377.2M2832.1,181.6V385.3M2833.5,247.7V374.3M2834.9,247V379.3M2836.3,252V363.5M2837.7,219V364.1M2839.1,254.7V358M2840.5,197.5V352.8M2841.9,252.3V358.7M2843.3,201.9V380.5M2844.7,261.9V347.1M2846.1,245.1V382.3M2847.5,248.4V386.5M2848.9,265V344.1M2850.3,263.8V351.1M2851.7,262.5V366.1M2853.1,218.9V368.2M2854.5,215.7V345.7M2855.9,218.7V383.5M2857.3,238.2V395.1M2858.7,222.3V347.9M2860.1,254.9V359.2M2861.5,262.1V356.9M2862.9,217.8V398.2M2864.3,226V398.4M3057.5,264V344.3M3058.9,224.1V367M3060.3,258.7V344.6M3061.7,221.7V346.7M3063.1,258.4V378M3064.5,240.3V350.8M3065.9,260.8V352.1M3067.3,259.8V351.8M3068.7,255.6V378.6M3070.1,267.2V353.5M3071.5,267.9V345M3072.9,244.7V356.4M3074.3,243.6V361.6M3075.7,214V360.7M3077.1,226.4V359.9M3078.5,228.8V362.1M3079.9,224.4V352.7M3081.3,226.8V369.6M3082.7,210.3V382.3M3084.1,233.1V363.7M3085.5,205.2V404.9M3086.9,245.3V411.6M3088.3,188V400M3089.7,231V408.9M3091.1,201.1V384.2M3092.5,250.9V374.8M3093.9,251.4V387.6M3095.3,257.8V381.4M3096.7,257.6V381.6M3098.1,221.9V349.1M3099.5,209.8V362.8M3100.9,242.9V356.9M3102.3,250.1V351.9M3103.7,256.9V354.2M3105.1,262.5V396.1M3106.5,256.2V386.7M3107.9,257V369.5M3109.3,210.4V408.7M3110.7,231.4V373.3M3112.1,242V366M3113.5,227.9V359.6M3114.9,202.9V351.9M3116.3,206.2V380.5M3117.7,254.2V377.6M3119.1,230.6V368M3120.5,217.2V359.1M3121.9,258.5V362.4M3123.3,248.5V363.6M3124.7,244.6V339.6M3126.1,265.3V360.7M3127.5,256.7V335.2M3128.9,244.5V353.4M3130.3,269.2V371.5M3131.7,261.7V356.8M3133.1,274V350M3134.5,243.4V350.9M3135.9,254.6V339.9M3137.3,267.3V362.5M3138.7,235.3V357.9M3140.1,221V360.8M3141.5,262.3V359.4M3142.9,241.8V375.7M3144.3,244.9V375.9M3145.7,247.9V356M3147.1,263.2V391.1M3148.5,241.8V368.7M3149.9,237.2V348.6M3151.3,246.1V364M3152.7,265.2V340.3M3154.1,225.8V339.3M3155.5,251V340M3156.9,246.3V372.4M3158.3,245.8V386.7M3159.7,257.3V373M3161.1,258.7V359.1M3162.5,238.6V366.6M3163.9,236.5V379.1M3165.3,237V403.3M3166.7,225V365.8M3168.1,246.3V353.2M3169.5,254.6V414.4M3170.9,228.7V356.7M3172.3,235.4V365.1M3173.7,224.5V371.2M3175.1,241.8V415.9M3176.5,230.9V359M3177.9,226.1V353.5M3179.3,234.4V381.7M3180.7,211.9V354.4M3182.1,260.5V373.3M3183.5,250.5V356.2M3184.9,243.5V387.4M3186.3,260.9V380.5M3187.7,230.3V397.5M3189.1,252.8V381.6M3190.5,228.1V405.5M3191.9,244.1V392.9M3193.3,253.6V369.5M3194.7,229.5V390.9M3196.1,198.5V389.4M3197.5,223V397.4M3198.9,216.2V389.8M3200.3,255V367.9M3201.7,259.3V358.1M3203.1,260.1V373.8M3204.5,263.2V367M3205.9,265.8V377.7M3207.3,249.7V365.9M3208.7,258.7V374.1M3210.1,259.6V341.9M3211.5,241.5V359.1M3212.9,274.3V334.9M3214.3,272.2V366.1M3215.7,234.6V373.8M3217.1,269.6V376.5M3218.5,233.7V342.5M3219.9,269V345.9M3221.3,264.8V370M3222.7,257.5V388.5M3224.1,266V382.7M3225.5,232.1V389.5M3226.9,257.5V356.7M3228.3,262.6V355.4M3229.7,234.5V343.7M3231.1,258.2V389.4M3232.5,255.9V384.3M3233.9,267.8V359.4M3235.3,248.1V353.3M3236.7,270V360.5M3238.1,229.3V360.6M3239.5,231.8V337.8M3240.9,238.8V344.6M3242.3,223V359.3M3243.7,268.1V341.7M3245.1,249.4V342M3246.5,212.7V390.5M3247.9,219.9V355M3249.3,236.6V401.4M3250.7,253.4V385.7M3252.1,251.7V385.2M3253.5,189.7V407.3M3254.9,254.7V393.6M3256.3,250.9V413.9M3257.7,237.9V361.3M3259.1,244V383.6M3260.5,207.5V353.4M3261.9,214.4V385.7M3263.3,211.3V385.2M3264.7,247.1V388.2M3266.1,245.2V381.1M3267.5,221.6V394.1M3268.9,240.8V350.4M3270.3,261.8V365.9M3271.7,260.2V382.8M3273.1,243.9V357.5M3274.5,253.1V402M3275.9,251V353.1M3277.3,204.3V398M3278.7,226.8V408.2M3280.1,224.4V355.8M3281.5,242.3V369.2M3282.9,254.6V382.3M3284.3,219.6V388.3M3285.7,200.1V358.8M3287.1,258.3V401.5M3288.5,252.9V400.2M3289.9,253.8V364.3M3291.3,234.6V357M3292.7,261.7V359M3294.1,269.4V351.8M3295.5,238.7V351.4M3296.9,237.3V340.1M3298.3,246.6V357M3299.7,269V341.3M3301.1,266.8V335.8M3302.5,254.7V352.6M3303.9,230.2V337.6M3305.3,269.8V338.9M3306.7,238.6V354.4M3308.1,250.4V354M3309.5,247.8V355.4M3310.9,266V352.8M3312.3,235.6V350.2M3313.7,249.4V348.8M3315.1,227.2V386.6M3316.5,243V346.5M3317.9,261.7V382.2M3319.3,253.6V341.9M3320.7,271.5V378.9M3322.1,262.8V377M3323.5,269.7V353.6M3324.9,248.1V338.6M3326.3,243.7V348M3327.7,270.3V342.6M3329.1,259.6V345.3M3330.5,233.2V351.3M3331.9,225.9V364.1M3333.3,229.6V363.7M3334.7,220.9V367.4M3336.1,247V362.8M3337.5,220.7V387.7M3338.9,224.7V359.2M3340.3,246.2V358.4M3341.7,192.5V406.8M3343.1,248.1V409.3M3344.5,196.6V356.5M3345.9,247.2V360.9M3347.3,216.7V388.6M3348.7,241.2V406.7M3350.1,256.8V383.2M3351.5,251.9V357.7M3352.9,256.3V363.6M3354.3,240.3V367.9M3355.7,261.3V368.1M3357.1,260.8V349.2M3358.5,256.2V369.3M3359.9,228.7V386.5M3361.3,209.1V368.2M3362.7,211.6V366.2M3364.1,253V369.2M3555.9,259.9V347.4M3557.3,271.6V350.6M3558.7,261.9V339.3M3560.1,242V348.5M3561.5,234.6V345.6M3562.9,230.9V373M3564.3,266.8V385.4M3565.7,267.1V344.4M3567.1,270.1V338.8M3568.5,240.7V339.8M3569.9,273V371.9M3571.3,258.3V338.8M3572.7,262.6V353.3M3574.1,260.1V336.3M3575.5,264.5V355M3576.9,248.4V331M3578.3,262.2V332.7M3579.7,254V348.7M3581.1,256.7V366.6M3582.5,274.1V373.1M3583.9,240V336.4M3585.3,271.6V365.2M3586.7,269.7V360.7M3588.1,236.4V344.4M3589.5,266.8V350.1M3590.9,251.7V376M3592.3,210.3V397.6M3593.7,251.8V361.7M3595.1,263.4V356.1M3596.5,210.9V388.9M3597.9,234.9V367.9M3599.3,211.7V388.8M3600.7,218.5V354.3M3602.1,244.2V390.9M3603.5,244.8V385.2M3604.9,251.1V342.7M3606.3,262.9V355.2M3607.7,262.9V376.1M3609.1,252.7V365.2M3610.5,258.1V358.5M3611.9,245.2V367M3613.3,215.4V352.6M3614.7,217.8V396.4M3616.1,253.8V393.5M3617.5,248.9V382M3618.9,228.9V402.2M3620.3,258.9V403.8M3621.7,242.4V395.1M3623.1,202.6V375.8M3624.5,257.8V352.2M3625.9,206.6V395.8M3627.3,262.4V371.6M3628.7,262.5V350M3630.1,219.4V354.9M3631.5,252.1V346.6M3632.9,269V337.5M3634.3,272.6V364.4M3635.7,242.7V378.5M3637.1,233.2V363.2M3638.5,267V336.1M3639.9,262.3V374.8M3641.3,257.3V360.7M3642.7,252.9V368.5M3644.1,250.9V351.4M3645.5,253.5V342.9M3646.9,265.2V366.8M3648.3,263V340.6M3649.7,260.7V345.1M3651.1,231.2V347.3M3652.5,257V337.2M3653.9,266.5V342.9M3655.3,258.7V353.5M3656.7,253.3V368.5M3658.1,263.9V368.7M3659.5,255.7V352.7M3660.9,265V330.5M3662.3,254.7V358.1M3663.7,248.8V365.1M3665.1,244.8V331.4M3666.5,273.6V334.8M3667.9,265.3V341.2M3669.3,246.9V337.2M3670.7,268.3V340.1M3672.1,257.9V348.4M3673.5,262V353.7M3674.9,265.4V370M3676.3,220.2V372.8M3677.7,261.7V367.2M3679.1,261.9V387.4M3680.5,236.4V357.9M3681.9,256.1V358.8M3683.3,265.9V380.7M3684.7,230.7V347.7M3686.1,243.8V365.3M3687.5,265.5V356.3M3688.9,265.7V357.8M3690.3,237.1V354.7M3691.7,263.9V365.6M3693.1,257.6V344M3694.5,242.8V391M3695.9,258V348M3697.3,214.6V347.4M3698.7,208.3V394.9M3700.1,249V363.6M3701.5,230.4V357.6M3702.9,245.5V389.9M3704.3,257.7V366.3M3705.7,224.8V379.7M3707.1,211V395.7M3708.5,256.4V361M3709.9,245.5V350.9M3711.3,263.2V374.8M3712.7,259.8V349.9M3714.1,240.2V368M3715.5,244V348.2M3716.9,225V363.5M3718.3,266.7V341.3M3719.7,269.4V345.5M3721.1,271.2V371.6M3722.5,255.9V342.6M3723.9,232.1V345.5M3725.3,238.5V351.3M3726.7,234.5V340.8M3728.1,222.1V350.8M3729.5,259.7V367M3730.9,265.6V342.5M3732.3,264.1V350.9M3733.7,267.9V343.9M3735.1,263.2V347.8M3736.5,225.7V381.5M3737.9,234.6V367.7M3739.3,272.8V346M3740.7,274.8V356.5M3742.1,266V343.5M3743.5,271.1V332.8M3744.9,273.1V351.4M3746.3,251.5V361M3747.7,254.6V354M3749.1,265.8V359.8M3750.5,271.9V332.7M3751.9,269.5V351.1M3753.3,257.7V368.4M3754.7,263.5V337.7M3756.1,246V367.4M3757.5,245.3V383.1M3758.9,250.4V373.8M3760.3,255.8V392M3761.7,253.2V358.6M3763.1,218.5V353.6M3764.5,265.4V373.4M3765.9,245.9V343.6M3767.3,265.1V371.6M3768.7,242.9V353.6M3770.1,219.7V346.9M3771.5,265.3V368.2M3772.9,253V344.9M3774.3,267.5V347.2M3775.7,257.1V348.3M3777.1,256.2V386.7M3778.5,259.3V380.1M3779.9,244V351.2M3781.3,261.6V395.6M3782.7,240.1V380.8M3784.1,250.5V359.5M3785.5,223.2V351.4M3786.9,258.4V351.1M3788.3,240.8V369.2M3789.7,244.3V411.1M3791.1,242.9V404.4M3792.5,216.4V356.1M3793.9,233.9V383M3795.3,253.5V388.2M3796.7,261.1V387.8M3798.1,219.2V372.4M3799.5,245.4V351.4M3800.9,243.4V345.7M3802.3,236.9V343.2M3803.7,244.3V338.4M3805.1,240.6V339.8M3806.5,267.8V353.4M3807.9,260.7V357.6M3809.3,248.5V344.8M3810.7,267.8V372.6M3812.1,268.8V346.6M3813.5,265V375.7M3814.9,267.4V351.7M3816.3,260V370M3817.7,260.4V340.7M3819.1,248.5V363.9M3820.5,263.8V342.6M3821.9,258.3V366.4M3823.3,268.9V336.3M3824.7,257.2V342.5M3826.1,276V338.9M3827.5,247.2V337.9M3828.9,252.6V330.6M3830.3,253V356M3831.7,249.3V331.7M3833.1,278.4V359.2M3834.5,250.8V363.7M3835.9,252.8V365.5M3837.3,270.3V365.7M3838.7,267.6V356.7M3840.1,268.1V337.4M3841.5,264.4V360.8M3842.9,260.9V382.9M3844.3,223.2V342.2M3845.7,266.5V384.4M3847.1,249.4V343.9M3848.5,258V346.8M3849.9,228.6V345.8M3851.3,255V347.3M3852.7,259.8V354.7M3854.1,261.8V340.7M3855.5,236V382.7M3856.9,236.3V379.1M3858.3,269.5V342.6M3859.7,268.3V344.4M3861.1,263.5V373.9M3862.5,261.3V359.5M3863.9,235.2V385.8M3865.3,213.9V382.6M3866.7,219.5V378.8M3868.1,261.5V354M3869.5,243.5V401.4M3870.9,222.6V356.7M3872.3,221V350.9M3873.7,203V376.7" stroke="#ff8080" stroke-width="1.5" fill="none" opacity="0.95"/>
<path d="M2546.5,253.6V355.2M2547.9,241.3V355.3M2549.3,261.1V342M2550.7,244V343.6M2552.1,262.9V364.3M2553.5,239.6V355.5M2554.9,266.9V375.9M2556.3,267.7V355.2M2557.7,238V356.3M2559.1,240.2V368M2560.5,241V347M2561.9,267.2V365.9M2563.3,269.1V348.3M2564.7,255.4V350M2566.1,264.5V345.9M2567.5,249.2V346M2568.9,243.7V355.8M2570.3,255.3V359.1M2571.7,233.9V366.7M2573.1,252.4V368.5M2574.5,263.6V367.1M2575.9,264.1V349.8M2577.3,261.9V379.2M2578.7,261.7V376.1M2580.1,263.8V349.3M2581.5,234.5V344.8M2582.9,246.5V353.3M2584.3,245.7V366.4M2585.7,250.2V373.8M2587.1,245.9V357.9M2588.5,270.3V359.1M2589.9,253.9V363M2591.3,272.2V348.5M2592.7,266.7V341.3M2594.1,265.8V336.4M2595.5,253.7V359.5M2596.9,253.5V354.7M2598.3,259.6V335.3M2599.7,272.7V338.3M2601.1,263.7V333.5M2602.5,270V347M2603.9,262.8V337.6M2605.3,255.8V347.9M2606.7,251.5V357.9M2608.1,258.9V361.1M2609.5,273.1V362M2610.9,258.5V347.6M2612.3,252.5V355.1M2613.7,248.8V335M2615.1,268.7V332.6M2616.5,269.3V354M2617.9,273.7V344.8M2619.3,277.4V334.6M2620.7,258.1V342.1M2622.1,278.9V331.8M2623.5,264.7V343.4M2624.9,270.3V329.2M2626.3,268.2V331.5M2627.7,270.1V338.6M2629.1,263.4V353.7M2630.5,250.4V338.6M2631.9,267.4V338.6M2633.3,269.1V353.5M2634.7,269.8V352.3M2636.1,263.5V360.3M2637.5,249.5V359.4M2638.9,266V355.4M2640.3,268.7V356.7M2641.7,235V348.6M2643.1,266.4V358.4M2644.5,262.3V342.6M2645.9,246.9V351.3M2647.3,250V343.2M2648.7,250.9V355.1M2650.1,255.6V367.5M2651.5,271V358.8M2652.9,256V351.1M2654.3,236.8V349M2655.7,255.3V342.2M2657.1,258.1V347.5M2658.5,262.1V373.8M2659.9,258.4V379.4M2661.3,262.3V345.8M2662.7,246.5V375.9M2664.1,225.7V357.9M2665.5,240.4V376.2M2666.9,237.3V350M2668.3,265.3V359.8M2669.7,264.6V379.8M2671.1,234.2V349.4M2672.5,251.2V369.2M2673.9,251.9V348.5M2675.3,256.9V352.4M2676.7,265V360.2M2678.1,253.4V346.2M2679.5,252.2V336.7M2680.9,253.2V353.1M2682.3,252.8V355.3M2683.7,272.3V348.9M2685.1,259.4V339.3M2686.5,247.3V350.1M2687.9,271.7V351.8M2689.3,268.9V350.8M2690.7,252V352.1M2692.1,254.5V341M2693.5,257.8V349.9M2694.9,247.4V363.8M2696.3,246.3V363.2M2697.7,267.2V349.8M2699.1,274.5V347.7M2700.5,278.3V352.2M2701.9,274.4V339.9M2703.3,273V329.1M2704.7,259.1V337.9M2706.1,266.5V342.1M2707.5,281.3V334.8M2708.9,259.6V339.1M2710.3,271.2V335.1M2711.7,275.7V331.2M2713.1,252.2V331.4M2714.5,269.9V344.4M2715.9,250V343.7M2717.3,250V353.8M2718.7,241.8V360.1M2720.1,246.2V350.1M2721.5,268V366.4M2722.9,265.1V350.6M2724.3,248.7V371.2M2725.7,265.6V348M2727.1,253.5V351.9M2728.5,270.1V364.3M2729.9,258.7V342.4M2731.3,264.4V339.8M2732.7,255.7V338.7M2734.1,266.2V362.8M2735.5,270V349.4M2736.9,254.6V352.3M2738.3,261.9V362.9M2739.7,264.6V371.9M2741.1,233.1V348.5M2742.5,236.8V369.2M2743.9,241.5V355.6M2745.3,255.3V369.4M2746.7,243.6V369.9M2748.1,229.5V384.3M2749.5,263.5V346.9M2750.9,256.8V365.6M2752.3,258V359.9M2753.7,261.5V349.3M2755.1,261.1V347.2M2756.5,242.2V366.6M2757.9,270.1V352.9M2759.3,263.6V367.4M2760.7,243.6V347.4M2762.1,267.6V338.4M2763.5,270.6V335.4M2764.9,253.5V362.3M2766.3,254.7V342.8M2767.7,263.1V351.1M2769.1,263.2V350.9M2770.5,246.8V339.8M2771.9,252.9V340.6M2773.3,260.1V364.9M2774.7,271.1V349.6M2776.1,247.3V360.7M2777.5,266.3V362M2778.9,254.1V359.3M2780.3,273.9V347.8M2781.7,273.6V362.6M2783.1,258V333.4M2784.5,270.2V338.2M2785.9,273.6V334.7M2787.3,257.7V341.8M2788.7,271V336.7M2790.1,275.9V337.2M2791.5,274.4V341M2792.9,271.8V330.1M2794.3,264.4V341.5M2795.7,279.3V333.6M2797.1,263.1V344.2M2798.5,267.1V333.4M2799.9,271.7V357.4M2801.3,266.1V345.3M2802.7,246.2V347.6M2804.1,250.4V367.9M2805.5,262.8V359.6M2806.9,266.6V368.6M2808.3,247.4V355.2M2809.7,248.6V369.9M2811.1,264.7V363.1M2812.5,263.4V360.2M2813.9,258.1V337M2815.3,271V337.5M2816.7,269.2V355.7M2818.1,258.4V352.2M2819.5,262.7V360.6M2820.9,268V345.2M2822.3,270.2V338M2823.7,267.1V344.8M2825.1,263.5V347M2826.5,252.5V349.4M2827.9,250.9V356.9M2829.3,236V365.1M2830.7,252.1V363.6M2832.1,246.3V354.5M2833.5,240.3V348.2M2834.9,227.7V370.3M2836.3,240.7V350.6M2837.7,234.8V370.1M2839.1,251.8V379.2M2840.5,250.2V352.1M2841.9,237.5V361.2M2843.3,252.1V348.3M2844.7,240.1V346.2M2846.1,258V341.1M2847.5,257.3V356.4M2848.9,248.6V343.6M2850.3,270.8V336.6M2851.7,261.5V344M2853.1,264.6V349.4M2854.5,267V342.4M2855.9,270.7V367.9M2857.3,239.5V363.1M2858.7,253.7V343.8M2860.1,251.1V341.4M2861.5,265.7V369.8M2862.9,261.9V344.1M3054.7,278.5V339.3M3056.1,269.3V331.5M3057.5,268.8V333.6M3058.9,261.8V347M3060.3,264.2V340.7M3061.7,277.2V345.3M3063.1,273V354.1M3064.5,276.6V331.5M3065.9,255V350.8M3067.3,267V334.1M3068.7,268.2V340.2M3070.1,258.7V352.4M3071.5,275V332.6M3072.9,266.1V335M3074.3,260.3V335.7M3075.7,251V346M3077.1,257.4V347.3M3078.5,246.8V345.4M3079.9,260.6V366.3M3081.3,269.2V345.3M3082.7,263.3V369.7M3084.1,266.9V344.3M3085.5,263.9V374.1M3086.9,262.6V370M3088.3,267.4V375.3M3089.7,269.1V343.3M3091.1,239.3V359.9M3092.5,245.4V344.6M3093.9,255.5V359.9M3095.3,271.3V336.7M3096.7,243.5V351.8M3098.1,272.8V346.7M3099.5,254.8V345.3M3100.9,267.4V353.9M3102.3,261.4V342.8M3103.7,249V344.4M3105.1,247.7V341.6M3106.5,254V338.7M3107.9,259V345.8M3109.3,249.8V357.3M3110.7,257.1V346.2M3112.1,255.8V357.9M3113.5,248.6V346.1M3114.9,246.3V365.6M3116.3,250.6V359M3117.7,272.9V339.1M3119.1,252.7V335.9M3120.5,274.3V350.3M3121.9,277V334.3M3123.3,275.9V349.5M3124.7,275.3V333.7M3126.1,275.8V347.1M3127.5,278.2V330.3M3128.9,282.5V337M3130.3,279.2V328.1M3131.7,271.7V326.1M3133.1,268.7V327.7M3134.5,273.2V332.7M3135.9,280.9V348.5M3137.3,272.3V343M3138.7,274.7V336.9M3140.1,263.2V331.7M3141.5,269.4V342.5M3142.9,258.7V357.1M3144.3,255.5V342.6M3145.7,275V334.6M3147.1,275.3V342M3148.5,274.4V354.7M3149.9,278.5V346.7M3151.3,279.1V335.9M3152.7,261.2V348.2M3154.1,278.4V344.5M3155.5,264.5V342.2M3156.9,268.2V351.2M3158.3,268.1V345.8M3159.7,266.9V336.3M3161.1,272.1V352.5M3162.5,275.4V346.3M3163.9,269.2V350M3165.3,242.6V359M3166.7,242.7V361.9M3168.1,238V348M3169.5,261.5V360.1M3170.9,244.1V354.3M3172.3,236.1V340.6M3173.7,260.5V342.4M3175.1,251.4V343.4M3176.5,253.9V345.9M3177.9,242.4V342.2M3179.3,270.1V341M3180.7,266.8V351.6M3182.1,273.2V360.2M3183.5,274.2V338.9M3184.9,267.9V354M3186.3,270.7V345.4M3187.7,260.5V350.9M3189.1,258.5V334.2M3190.5,273.1V350.8M3191.9,255.6V358.6M3193.3,246.2V356.6M3194.7,266.2V343.4M3196.1,266.2V338.5M3197.5,270.2V350.5M3198.9,264.6V349.4M3200.3,250V351M3201.7,264.3V342.5M3203.1,267.3V357.7M3204.5,272.6V350.2M3205.9,260.9V332.8M3207.3,256.8V335.7M3208.7,272.8V346.4M3210.1,277.6V332.6M3211.5,264.6V327.7M3212.9,278.5V332.5M3214.3,282.7V332.4M3215.7,272.2V328.5M3217.1,272.1V326.2M3218.5,267V336.4M3219.9,276.6V327.8M3221.3,276V329.5M3222.7,275.8V346.2M3224.1,255V336.7M3225.5,277.7V343.2M3226.9,258V332.2M3228.3,272.7V341.9M3229.7,270V341.4M3231.1,264.3V339.2M3232.5,278.6V333.8M3233.9,263.9V335.5M3235.3,280.2V339.5M3236.7,261.1V344.9M3238.1,268.7V333.5M3239.5,278.6V328.8M3240.9,265.8V339.8M3242.3,265.9V337.7M3243.7,269.7V353.6M3245.1,277.2V332.1M3246.5,275.4V335.2M3247.9,256.8V359.6M3249.3,259.9V335M3250.7,246.7V336.2M3252.1,247.4V356.2M3253.5,256V361.2M3254.9,243.7V343M3256.3,265.1V366.8M3257.7,241.9V347.2M3259.1,259.3V340M3260.5,270.6V347.9M3261.9,270.6V349.9M3263.3,268.8V339.1M3264.7,260.7V365.1M3266.1,252.4V338.9M3267.5,262.6V336.5M3268.9,272V351.9M3270.3,270.4V348.6M3271.7,271.5V342.6M3273.1,260V351.7M3274.5,269.6V336.2M3275.9,262.5V360.5M3277.3,269.3V364.5M3278.7,244.1V349.7M3280.1,264.8V343M3281.5,252.5V342M3282.9,263.3V341.1M3284.3,246.8V349.2M3285.7,260.4V348.1M3287.1,263.5V350.1M3288.5,265.4V357M3289.9,268.9V338.2M3291.3,274.9V355.1M3292.7,266.8V331.1M3294.1,267.3V334.6M3295.5,263.7V342.8M3296.9,267.2V326.6M3298.3,279.2V328.5M3299.7,274.2V325.9M3301.1,281.8V329.6M3302.5,266.1V331.6M3303.9,276.3V332.5M3305.3,268.6V348.5M3306.7,259.1V346.6M3308.1,266.3V334.8M3309.5,254.8V342.7M3310.9,278.1V346.2M3312.3,254.7V331.3M3313.7,266.8V345.6M3315.1,270.9V338.2M3316.5,272.5V329.7M3317.9,278.9V349.5M3319.3,261.6V338.7M3320.7,277.6V340.7M3322.1,275V329.1M3323.5,274.5V328.4M3324.9,269.1V335.4M3326.3,271.3V332.3M3327.7,280.9V335.9M3329.1,266.9V335.7M3330.5,267.6V335.5M3331.9,270.1V350M3333.3,255.7V334.1M3334.7,272.2V348.1M3336.1,252.9V351.8M3337.5,242.5V340.5M3338.9,270V350.9M3340.3,266.9V370.1M3341.7,249.7V340.9M3343.1,267V358.6M3344.5,266.7V347.4M3345.9,259.8V367.6M3347.3,259.4V357.6M3348.7,262.6V365M3350.1,260.9V344.5M3351.5,273.4V342.9M3352.9,267.1V345.8M3354.3,256.8V342.2M3355.7,271.7V340.6M3357.1,272.3V337.9M3358.5,273.3V347.5M3359.9,245.9V366.8M3361.3,272.1V359M3362.7,256V357.8M3364.1,269.1V354.8M3365.5,264.8V340.2M3366.9,264V345.9" stroke="#2e8b57" stroke-width="1.5" fill="none"/>
<path d="M2377.1,301V308.2M2378.5,301V308.2M2379.9,301V308.2M2381.3,301V308.2M2382.7,301V308.2M2384.1,301V308.2M2385.5,301V308.2M2386.9,301V308.2M2388.3,301V308.2M2389.7,301V308.2M2391.1,301V308.2M2392.5,301V308.2M2393.9,301V308.2M2395.3,301V308.2M2396.7,301V308.2M2398.1,301V308.2M2399.5,301V308.2M2400.9,301V308.2M2402.3,301V308.2M2403.7,301V308.2M2405.1,301V308.2M2406.5,301V308.2M2407.9,301V308.2M2409.3,301V308.2M2410.7,301V308.2M2412.1,301V308.2M2413.5,301V308.2M2414.9,301V308.2M2416.3,301V308.2M2417.7,301V308.2M2419.1,301V308.2M2420.5,301V308.2M2421.9,301V308.2M2423.3,301V308.2M2424.7,301V308.2M2426.1,301V308.2M2427.5,301V308.2M2428.9,301V308.2M2430.3,301V308.2M2431.7,301V308.2M2433.1,301V308.2M2434.5,301V308.2M2435.9,301V308.2M2437.3,301V308.2M2438.7,301V308.2M2440.1,301V308.2M2441.5,301V308.2M2442.9,301V308.2M2444.3,301V308.2M2445.7,301V308.2M2447.1,301V308.2M2448.5,301V308.2M2449.9,301V308.2M2451.3,301V308.2M2452.7,301V308.2M2454.1,301V308.2M2455.5,301V308.2M2456.9,301V308.2M2458.3,301V308.2M2459.7,301V308.2M2461.1,301V308.2M2462.5,301V308.2M2463.9,301V308.2M2465.3,301V308.2M2466.7,301V308.2M2468.1,301V308.2M2469.5,301V308.2M2470.9,301V308.2M2472.3,301V308.2M2473.7,301V308.2M2475.1,301V308.2M2476.5,301V308.2M2477.9,301V308.2M2479.3,301V308.2M2480.7,301V308.2M2482.1,301V308.2M2483.5,301V308.2M2484.9,301V308.2M2486.3,301V308.2M2487.7,301V308.2M2489.1,301V308.2M2490.5,301V308.2M2491.9,301V308.2M2493.3,301V308.2M2494.7,301V308.2M2496.1,301V308.2M2497.5,301V308.2M2498.9,300.5V309M2500.3,296V312.8M2501.7,295.1V314.5M2503.1,290V320.5M2504.5,287.9V322.8M2505.9,274.2V323.7M2507.3,281.5V330.3M2508.7,280.9V331.2M2510.1,273.9V337.1M2511.5,269.8V339.6M2512.9,269.2V339.1M2514.3,268.6V342.7M2515.7,267V335.5M2517.1,271.1V341.7M2518.5,266.8V337M2519.9,274.5V337.2M2521.3,269.1V335.2M2522.7,270.9V336.5M2524.1,274.1V343M2525.5,270.3V343M2526.9,271.4V342.3M2528.3,273.9V335.1M2529.7,267.5V342.7M2531.1,274.1V342.1M2532.5,271.1V338.2M2533.9,265V344.2M2535.3,271.5V344.4M2536.7,271V338.5M2538.1,266.3V343.3M2539.5,265.4V334.5M2540.9,264.5V343M2542.3,274V342.2M2543.7,273.4V341.3M2545.1,269.3V338.5M2546.5,265V343.2M2547.9,269.3V343M2549.3,272.7V337.4M2550.7,264.6V340.6M2552.1,268.5V336.3M2553.5,272.1V344.2M2554.9,266.3V340M2556.3,270.9V342M2557.7,268V337.1M2559.1,274.1V342M2560.5,266.4V344.2M2561.9,271.6V335.1M2563.3,260.3V343.3M2564.7,274.8V342.9M2566.1,270.7V337M2567.5,266V335.8M2568.9,274V336M2570.3,266.6V348.1M2571.7,267.8V334.5M2573.1,266V336M2574.5,264.2V342M2575.9,268.7V337.8M2577.3,269.1V340.3M2578.7,271.8V336.9M2580.1,264.2V341.4M2581.5,272.8V335.8M2582.9,248.6V341.5M2584.3,266.7V339.5M2585.7,269.2V338.9M2587.1,266.8V340.7M2588.5,269.2V337.6M2589.9,270.4V336.7M2591.3,245.3V336.9M2592.7,268.6V334.6M2594.1,271.7V344M2595.5,272.8V336.3M2596.9,267.2V341.8M2598.3,273V341.5M2599.7,264.9V337.3M2601.1,268.4V337M2602.5,272.9V364.3M2603.9,268.9V338.2M2605.3,264.6V342.7M2606.7,272.4V346.3M2608.1,273V334.4M2609.5,268.8V342.8M2610.9,272.1V335.2M2612.3,274.3V347.9M2613.7,270V334.7M2615.1,274.6V342.5M2616.5,261.3V344.9M2617.9,265.6V343.9M2619.3,278.7V330.3M2620.7,272.8V332.2M2622.1,276.9V335.1M2623.5,256.8V331.7M2624.9,276.9V337M2626.3,274.2V335.2M2627.7,272.8V339.2M2629.1,271.8V334.7M2630.5,274.8V332.6M2631.9,276.8V330.3M2633.3,274.2V350.6M2634.7,267.4V331.7M2636.1,278.7V334.2M2637.5,276.8V331.3M2638.9,277.6V337.4M2640.3,276.9V333.2M2641.7,277.3V331.6M2643.1,276.1V332.1M2644.5,275.9V329.4M2645.9,278.9V336.5M2647.3,274.1V331.8M2648.7,273.1V329.9M2650.1,271.9V334.9M2651.5,279.3V331.4M2652.9,277.1V335.9M2654.3,274.3V335.9M2655.7,261.9V333.8M2657.1,279.9V336.7M2658.5,276.1V335.9M2659.9,272.8V332.7M2661.3,269.4V331.6M2662.7,273.4V332.3M2664.1,274.2V352.4M2665.5,277.2V331.9M2666.9,273.8V334.8M2668.3,276.8V333.5M2669.7,276.6V330.8M2671.1,278.7V337.5M2672.5,275.9V330.6M2673.9,279.6V338.4M2675.3,275.3V330.3M2676.7,281.6V330.5M2678.1,274.8V333.5M2679.5,280.4V327.2M2680.9,278.3V332.9M2682.3,281.7V329.7M2683.7,275.7V335.2M2685.1,277.9V328M2686.5,279.8V334.4M2687.9,279.3V329.8M2689.3,280.4V328.9M2690.7,279.1V329.9M2692.1,279.4V333.7M2693.5,281.8V327.3M2694.9,282.4V330.3M2696.3,274.8V333.1M2697.7,280.9V328.2M2699.1,277.7V328.6M2700.5,275.2V326.8M2701.9,281.6V327.6M2703.3,280.9V331M2704.7,279.4V340.4M2706.1,281.4V326.8M2707.5,282V327.5M2708.9,278.7V329.7M2710.3,279.2V327M2711.7,279.7V330.4M2713.1,277.9V329.5M2714.5,278.5V327M2715.9,280.3V327.3M2717.3,282.2V327M2718.7,264V332.4M2720.1,276.7V330.1M2721.5,277.4V327.5M2722.9,278.4V334.6M2724.3,278.7V329.7M2725.7,281.3V331.3M2727.1,274.9V332.1M2728.5,279.6V330M2729.9,269.6V329M2731.3,275.1V332.9M2732.7,276.6V333.7M2734.1,276.9V342.6M2735.5,280.5V328.8M2736.9,276.8V331.8M2738.3,280.8V329.5M2739.7,281.7V331.8M2741.1,268.7V331.8M2742.5,278.5V330.8M2743.9,278.8V330.4M2745.3,275.2V334.1M2746.7,277.8V333.9M2748.1,268.3V333.1M2749.5,276.3V333.2M2750.9,278.5V331.9M2752.3,276.4V328.5M2753.7,280.2V332.3M2755.1,279.3V329.5M2756.5,279.9V329.6M2757.9,279.6V333.8M2759.3,281.5V334M2760.7,279.7V328.7M2762.1,281.6V330.9M2763.5,280.2V333.9M2764.9,279V333.3M2766.3,282.2V335M2767.7,271.9V326.7M2769.1,280.1V333.6M2770.5,275.2V333.5M2771.9,278V334.1M2773.3,278.6V326.6M2774.7,278.8V334.2M2776.1,280.6V330.6M2777.5,278.6V328.1M2778.9,277V332.9M2780.3,279.9V331.4M2781.7,275.7V328.1M2783.1,275.8V332.8M2784.5,282.4V332.9M2785.9,281.1V332M2787.3,275V329.2M2788.7,276.7V328.2M2790.1,275.1V329.9M2791.5,276.6V331.6M2792.9,276.6V327.8M2794.3,277V330M2795.7,277.1V327.6M2797.1,282.2V334.6M2798.5,275.1V330.4M2799.9,278.6V329.7M2801.3,279V331.5M2802.7,279.6V334.3M2804.1,277.4V330M2805.5,282.5V332.6M2806.9,282.1V333.1M2808.3,280.6V331M2809.7,280.4V330.8M2811.1,279.3V331.4M2812.5,282V332M2813.9,279.7V327.8M2815.3,276.3V335.7M2816.7,277.1V333.5M2818.1,274.8V328.4M2819.5,275.4V327.9M2820.9,280.8V327M2822.3,279.8V331.3M2823.7,277.3V329.1M2825.1,266.5V329M2826.5,275.6V331.5M2827.9,278.4V339.8M2829.3,280.4V333.4M2830.7,275.7V333.8M2832.1,275.8V341.4M2833.5,278.2V330M2834.9,280.9V330.9M2836.3,282V329.2M2837.7,276.6V326.9M2839.1,280.1V333.1M2840.5,276.1V332.2M2841.9,282.1V328.5M2843.3,277V327.1M2844.7,280V331.3M2846.1,274.1V327.2M2847.5,276.6V327M2848.9,281.9V340.3M2850.3,281V327.9M2851.7,264.8V338.5M2853.1,275.2V329.6M2854.5,276.7V332.1M2855.9,276.8V329.5M2857.3,277.4V327.7M2858.7,280.1V328.1M2860.1,268.9V338M2861.5,277.6V332.2M2862.9,279.5V332.4M2864.3,281V341.9M2865.7,276.8V331.9M2867.1,282.3V333.1M2868.5,279.7V352.7M2869.9,281.3V330.8M2871.3,279.9V331.9M2872.7,278V331.9M2874.1,277.6V326.7M2875.5,280.9V325.1M2876.9,280.2V324.5M2878.3,286.3V323.4M2879.7,285.7V320.7M2881.1,291.9V319.2M2882.5,293.2V321.3M2883.9,296.1V315M2885.3,298V311.8M2886.7,300.3V310.6M2888.1,301V308.2M2889.5,301V308.2M2890.9,301V308.2M2892.3,301V308.2M2893.7,301V308.2M2895.1,301V308.2M2896.5,301V308.2M2897.9,301V308.2M2899.3,301V308.2M2900.7,301V308.2M2902.1,301V308.2M2903.5,301V308.2M2904.9,301V308.2M2906.3,301V308.2M2907.7,301V308.2M2909.1,301V308.2M2910.5,301V308.2M2911.9,301V308.2M2913.3,301V308.2M2914.7,301V308.2M2916.1,301V308.2M2917.5,301V308.2M2918.9,301V308.2M2920.3,301V308.2M2921.7,301V308.2M2923.1,301V308.2M2924.5,301V308.2M2925.9,301V308.2M2927.3,301V308.2M2928.7,301V308.2M2930.1,301V308.2M2931.5,301V308.2M2932.9,301V308.2M2934.3,301V308.2M2935.7,301V308.2M2937.1,301V308.2M2938.5,301V308.2M2939.9,301V308.2M2941.3,301V308.2M2942.7,301V308.2M2944.1,301V308.2M2945.5,301V308.2M2946.9,301V308.2M2948.3,301V308.2M2949.7,301V308.2M2951.1,301V308.2M2952.5,301V308.2M2953.9,301V308.2M2955.3,301V308.2M2956.7,301V308.2M2958.1,301V308.2M2959.5,301V308.2M2960.9,301V308.2M2962.3,301V308.2M2963.7,301V308.2M2965.1,301V308.2M2966.5,301V308.2M2967.9,301V308.2M2969.3,301V308.2M2970.7,301V308.2M2972.1,301V308.2M2973.5,301V308.2M2974.9,301V308.2M2976.3,301V308.2M2977.7,301V308.2M2979.1,301V308.2M2980.5,301V308.2M2981.9,301V308.2M2983.3,301V308.2M2984.7,301V308.2M2986.1,301V308.2M2987.5,301V308.2M2988.9,301V308.2M2990.3,301V308.2M2991.7,301V308.2M2993.1,301V308.2M2994.5,301V308.2M2995.9,301V308.2M2997.3,301V308.2M2998.7,301V308.2M3000.1,301V308.2M3001.5,301V308.2M3002.9,301V308.2M3004.3,301V308.2M3005.7,301V308.2M3007.1,301V308.2M3008.5,301V308.2M3009.9,301V308.2M3011.3,301V308.2M3012.7,301V308.2M3014.1,301V308.2M3015.5,301V308.2M3016.9,301V308.2M3018.3,301V308.2M3019.7,301V308.2M3021.1,301V308.2M3022.5,301V308.2M3023.9,301V308.2M3025.3,301V308.3M3026.7,300.7V308.4M3028.1,298.9V309.7M3029.5,296.8V312.4M3030.9,296.2V314.8M3032.3,291.3V314.3M3033.7,292.3V316.9M3035.1,289.4V319.3M3036.5,289.4V324M3037.9,286.2V323.9M3039.3,286.5V323.2M3040.7,283.5V323.8M3042.1,281.9V325.7M3043.5,283.2V326.6M3044.9,281.7V327.7M3046.3,276.3V327.7M3047.7,282.4V332M3049.1,276V332.9M3050.5,276.6V334.4M3051.9,275V333.5M3053.3,282.1V334.1M3054.7,282V333M3056.1,276.4V329.8M3057.5,276.1V333.4M3058.9,282.2V330M3060.3,268.2V342.3M3061.7,280.7V333.8M3063.1,277.3V329.3M3064.5,277.8V327.4M3065.9,276V331.4M3067.3,270.5V332.3M3068.7,277.8V331.9M3070.1,280.3V330.7M3071.5,281.1V330.7M3072.9,278.9V328.3M3074.3,279.7V332.4M3075.7,279.6V326.7M3077.1,277.6V331.9M3078.5,281.3V329.4M3079.9,281.9V326.6M3081.3,279.1V327.5M3082.7,270.9V330.9M3084.1,279.2V331.3M3085.5,278.3V328.6M3086.9,279.1V331.1M3088.3,275.4V333M3089.7,282.5V329.1M3091.1,280.7V330.4M3092.5,278V328.5M3093.9,274.8V334.4M3095.3,281.9V328.1M3096.7,279.1V332.1M3098.1,281.1V328.8M3099.5,279.5V331.8M3100.9,282.5V330.6M3102.3,277.2V332.8M3103.7,276.8V331.6M3105.1,282.5V331.8M3106.5,278.6V331.4M3107.9,277.6V331.7M3109.3,277.2V328.5M3110.7,280.7V332.1M3112.1,276.6V332.3M3113.5,278.2V343.5M3114.9,276.4V326.8M3116.3,281.2V327.3M3117.7,282.1V331.2M3119.1,280.3V338.4M3120.5,277.7V330.9M3121.9,267.6V330.7M3123.3,279.9V328.5M3124.7,280V327.9M3126.1,275.7V333.2M3127.5,263.6V332.5M3128.9,280.7V329.9M3130.3,278.4V334M3131.7,282.2V329M3133.1,281.9V327.2M3134.5,282.4V329.7M3135.9,275.2V330.9M3137.3,282.3V327.5M3138.7,282.6V326.9M3140.1,279.2V329.8M3141.5,282.2V332.2M3142.9,279.5V346.6M3144.3,277.2V331.8M3145.7,276.3V326.9M3147.1,279V335.7M3148.5,279.3V333.9M3149.9,276.7V327.5M3151.3,276.8V326.9M3152.7,277.1V346.6M3154.1,276.6V327.2M3155.5,276.1V330.6M3156.9,273.4V333.5M3158.3,276.6V331.9M3159.7,282.2V332.5M3161.1,259.9V330.2M3162.5,278.5V328.4M3163.9,280.6V328.2M3165.3,279.8V331.5M3166.7,278.4V329.1M3168.1,276.5V334.2M3169.5,282V327.3M3170.9,276.4V331.1M3172.3,276.6V327.4M3173.7,277.1V331.3M3175.1,264.9V330.6M3176.5,277.1V333.2M3177.9,279.4V330.2M3179.3,277.8V326.8M3180.7,277.7V331M3182.1,268V334.2M3183.5,282.5V330.4M3184.9,276.5V332.4M3186.3,276.2V333.8M3187.7,278.3V334M3189.1,281V329.7M3190.5,277.8V330.6M3191.9,274.7V328.3M3193.3,278V333.9M3194.7,275.5V334.3M3196.1,281.2V331.1M3197.5,262.4V334.6M3198.9,270.9V330.5M3200.3,273.4V331.6M3201.7,277.9V335.6M3203.1,274V338.1M3204.5,260V337.8M3205.9,273.8V334.6M3207.3,276.3V336.5M3208.7,275.2V332.1M3210.1,277.6V330.1M3211.5,277.7V334.4M3212.9,279.4V330.9M3214.3,277.4V338.8M3215.7,279V334.2M3217.1,277.6V345.1M3218.5,275V338.1M3219.9,259.6V338.6M3221.3,275.6V330.9M3222.7,278.7V334.7M3224.1,272.3V334.9M3225.5,273V329.9M3226.9,272.9V334M3228.3,272.6V338M3229.7,278.5V333.1M3231.1,278V336M3232.5,272.2V332.8M3233.9,272.8V335.4M3235.3,271.6V331.6M3236.7,274.1V337.5M3238.1,278.6V331.9M3239.5,276.1V334M3240.9,257.2V333M3242.3,273.8V332.3M3243.7,272.3V344.6M3245.1,276.3V331.7M3246.5,255.2V331.1M3247.9,271.3V336.7M3249.3,275.4V336.2M3250.7,270.9V353.7M3252.1,271.2V332.4M3253.5,272V335.9M3254.9,271.7V331.2M3256.3,270.8V336.1M3257.7,254.9V354.1M3259.1,271.8V353.3M3260.5,275.9V337.6M3261.9,275.6V334.8M3263.3,277V333.3M3264.7,274.9V336M3266.1,276.1V338.5M3267.5,276.1V333.4M3268.9,274.8V334.2M3270.3,275.2V338.5M3271.7,274.1V345.7M3273.1,274.1V333.8M3274.5,274.6V337.5M3275.9,274.4V337M3277.3,273.3V336.5M3278.7,275.9V335.8M3280.1,276.9V337.6M3281.5,272.6V337.8M3282.9,273.9V334.6M3284.3,273.6V330.5M3285.7,270.6V332M3287.1,277.2V330.7M3288.5,271.1V338.7M3289.9,275.1V331.4M3291.3,278.4V333.5M3292.7,275.5V334.7M3294.1,270.9V337.7M3295.5,275.7V334.4M3296.9,274.9V334.3M3298.3,277.3V333.6M3299.7,257.4V335.2M3301.1,272.7V333M3302.5,271.2V336M3303.9,277.1V335.6M3305.3,274.4V333.5M3306.7,274.8V332.5M3308.1,271.2V337.3M3309.5,274.6V333.9M3310.9,278.6V332.6M3312.3,278.9V336M3313.7,271.7V334.9M3315.1,270.6V334.6M3316.5,272.9V336.4M3317.9,272.2V339.8M3319.3,279.3V329.8M3320.7,272.5V330.8M3322.1,273.5V336.9M3323.5,271.1V335.3M3324.9,275.1V331.1M3326.3,273.5V336.9M3327.7,276V330.1M3329.1,279.3V335.9M3330.5,275.7V332M3331.9,273.5V338.8M3333.3,273.4V333.5M3334.7,264.5V334M3336.1,276.8V333.6M3337.5,278.1V329.9M3338.9,274.4V335M3340.3,271.5V332.7M3341.7,262.8V336.5M3343.1,275.5V332.3M3344.5,276.5V352.8M3345.9,272.7V338.8M3347.3,276.4V336.5M3348.7,276.6V334.8M3350.1,278.4V338.7M3351.5,276.1V330.4M3352.9,277.8V338.2M3354.3,270.6V337.2M3355.7,277.3V336.2M3357.1,276.8V337.5M3358.5,271V332.5M3359.9,270.7V336M3361.3,278.2V338.1M3362.7,272.9V335.9M3364.1,277.9V346.8M3365.5,273.8V331.4M3366.9,276.9V334.9M3368.3,276.9V331.3M3369.7,258.3V333M3371.1,279.4V335M3372.5,278.3V330M3373.9,279.2V337.3M3375.3,272V354.1M3376.7,277.5V330.2M3378.1,276.2V334.9M3379.5,275.3V337M3380.9,275.2V331.2M3382.3,270.4V335.6M3383.7,271.6V343M3385.1,277.8V335.5M3386.5,275.6V332.1M3387.9,280.1V332M3389.3,278.2V328.6M3390.7,286.8V324.7M3392.1,287.5V320.4M3393.5,293.7V320.5M3394.9,298.5V311.1M3396.3,301V308.2M3397.7,301V308.2M3399.1,301V308.2M3400.5,301V308.2M3401.9,301V308.2M3403.3,301V308.2M3404.7,301V308.2M3406.1,301V308.2M3407.5,301V308.2M3408.9,301V308.2M3410.3,301V308.2M3411.7,301V308.2M3413.1,301V308.2M3414.5,301V308.2M3415.9,301V308.2M3417.3,301V308.2M3418.7,301V308.2M3420.1,301V308.2M3421.5,301V308.2M3422.9,301V308.2M3424.3,301V308.2M3425.7,301V308.2M3427.1,301V308.2M3428.5,301V308.2M3429.9,301V308.2M3431.3,301V308.2M3432.7,301V308.2M3434.1,301V308.2M3435.5,301V308.2M3436.9,301V308.2M3438.3,301V308.2M3439.7,301V308.2M3441.1,301V308.2M3442.5,301V308.2M3443.9,301V308.2M3445.3,301V308.2M3446.7,301V308.2M3448.1,301V308.2M3449.5,301V308.2M3450.9,301V308.2M3452.3,301V308.2M3453.7,301V308.2M3455.1,301V308.2M3456.5,301V308.2M3457.9,301V308.2M3459.3,301V308.2M3460.7,301V308.2M3462.1,301V308.2M3463.5,301V308.2M3464.9,301V308.2M3466.3,301V308.2M3467.7,301V308.2M3469.1,301V308.2M3470.5,301V308.2M3471.9,301V308.2M3473.3,301V308.2M3474.7,301V308.2M3476.1,301V308.2M3477.5,301V308.2M3478.9,301V308.2M3480.3,301V308.2M3481.7,301V308.2M3483.1,301V308.2M3484.5,301V308.2M3485.9,301V308.2M3487.3,301V308.2M3488.7,301V308.2M3490.1,301V308.2M3491.5,301V308.2M3492.9,301V308.2M3494.3,301V308.2M3495.7,301V308.2M3497.1,301V308.2M3498.5,301V308.2M3499.9,301V308.2M3501.3,301V308.2M3502.7,301V308.2M3504.1,301V308.2M3505.5,301V308.2M3506.9,301V308.2M3508.3,301V308.2M3509.7,301V308.2M3511.1,301V308.2M3512.5,301V308.2M3513.9,301V308.2M3515.3,301V308.2M3516.7,300.9V308.8M3518.1,300.3V309.3M3519.5,298.6V310.7M3520.9,296.1V312.1M3522.3,296.6V312.4M3523.7,294.9V313.5M3525.1,293.9V314.9M3526.5,286.4V314.9M3527.9,293V317.4M3529.3,284.2V319M3530.7,288.2V320.3M3532.1,287.7V321.9M3533.5,290V322.6M3534.9,285.3V321.7M3536.3,286.8V321.5M3537.7,283.5V330M3539.1,283.6V327.8M3540.5,281.2V328.6M3541.9,286.3V325.6M3543.3,286.1V327.2M3544.7,274.8V328.1M3546.1,283V339.1M3547.5,281.9V325.6M3548.9,281.7V326.6M3550.3,283.8V327.4M3551.7,281.6V325.7M3553.1,274.2V328M3554.5,284.2V326.6M3555.9,274.8V328.3M3557.3,282.7V326.2M3558.7,285V326.6M3560.1,283.2V323M3561.5,269.7V323.5M3562.9,285.5V328.5M3564.3,274.9V328.8M3565.7,282.1V336M3567.1,284.1V328.4M3568.5,286.2V328.3M3569.9,281.9V327.8M3571.3,283.2V322.6M3572.7,285V325.1M3574.1,280.7V327.6M3575.5,284.9V324.6M3576.9,285.5V326.7M3578.3,283.2V322.6M3579.7,286.4V328.8M3581.1,281.3V325.5M3582.5,284.5V326.4M3583.9,281.1V327.5M3585.3,281.7V325.3M3586.7,275.5V328.3M3588.1,281.2V323.1M3589.5,278.1V326.2M3590.9,281V327.2M3592.3,285.2V324.4M3593.7,286.1V323.1M3595.1,280.6V324.6M3596.5,286.4V327.5M3597.9,283.6V323.7M3599.3,285V325.9M3600.7,281.1V331.4M3602.1,284.7V323.5M3603.5,283.4V325.4M3604.9,282.6V325.5M3606.3,285.9V327.1M3607.7,284.3V322.6M3609.1,286.1V328M3610.5,281.7V324.3M3611.9,283.2V327.5M3613.3,284.4V324.2M3614.7,283.6V323.3M3616.1,285.7V327.4M3617.5,281.6V327.4M3618.9,283.9V323M3620.3,286.2V327.4M3621.7,284V328.6M3623.1,285V326M3624.5,282.4V328.3M3625.9,285.4V325.5M3627.3,281.5V324.2M3628.7,282.3V326M3630.1,281.4V324.3M3631.5,285.8V327.4M3632.9,281.5V326.8M3634.3,270.1V324.3M3635.7,280.4V334.6M3637.1,285.5V326M3638.5,280.5V325.5M3639.9,280.6V326.2M3641.3,286V326.7M3642.7,284.7V327.2M3644.1,283.7V327.3M3645.5,280.8V325.4M3646.9,284.4V323.5M3648.3,283.5V324.9M3649.7,286.1V331.5M3651.1,282.1V324.3M3652.5,283V323.9M3653.9,278.9V325M3655.3,284.6V325.2M3656.7,285.6V327.5M3658.1,283.3V325.1M3659.5,281.9V326.7M3660.9,280.5V324.1M3662.3,280.5V331.6M3663.7,281.4V326.5M3665.1,281.7V326.9M3666.5,283.6V324.2M3667.9,285.8V330.7M3669.3,283.7V326.9M3670.7,281.1V327.4M3672.1,282.5V327M3673.5,285.2V322.8M3674.9,285.8V324.5M3676.3,280.8V326M3677.7,281.6V328.3M3679.1,281.9V324.6M3680.5,285.9V323.9M3681.9,280.8V325.3M3683.3,281.8V327.1M3684.7,283.3V329.7M3686.1,269.7V324.5M3687.5,282.3V325.6M3688.9,285.7V335.6M3690.3,280.9V328.4M3691.7,284.2V324.9M3693.1,282.8V326M3694.5,283.1V323.8M3695.9,286V325.3M3697.3,276.9V323.1M3698.7,274.5V323.2M3700.1,282.6V323M3701.5,286.5V326.1M3702.9,280.5V326.6M3704.3,280.8V325M3705.7,280.7V324.3M3707.1,286.5V324.1M3708.5,285.7V327M3709.9,280.6V325.7M3711.3,281.5V323.8M3712.7,284.1V327M3714.1,285.6V327.9M3715.5,282V326.1M3716.9,283.6V325.6M3718.3,281.9V327.4M3719.7,284.9V323.2M3721.1,284.7V323.2M3722.5,282.6V323M3723.9,285.8V328.3M3725.3,282.6V325.2M3726.7,279.8V324.7M3728.1,285.3V337.6M3729.5,285.8V328.3M3730.9,283.8V325.5M3732.3,281.6V324.9M3733.7,273.3V322.9M3735.1,280.7V325.3M3736.5,282.8V326.3M3737.9,286V326.6M3739.3,284.4V325.1M3740.7,286.4V322.6M3742.1,281.9V324.8M3743.5,282.9V323.3M3744.9,271.6V324.7M3746.3,281.9V325.6M3747.7,282.7V330.9M3749.1,283.5V325M3750.5,284.7V327.5M3751.9,284.9V327.4M3753.3,281.5V325.7M3754.7,282.4V332.2M3756.1,285.4V322.9M3757.5,281.8V325.2M3758.9,283.6V324.2M3760.3,284.4V324M3761.7,281.4V326.4M3763.1,285.4V327.7M3764.5,284.2V328.5M3765.9,280.7V324.5M3767.3,283.4V328.3M3768.7,283.8V323.5M3770.1,285.4V323.2M3771.5,285.4V322.7M3772.9,280.9V326M3774.3,285.3V324.2M3775.7,282.2V327.6M3777.1,280.8V326M3778.5,278.6V328.1M3779.9,280.9V325.9M3781.3,284.9V327.1M3782.7,281.1V323.3M3784.1,286.1V324.8M3785.5,283.5V322.7M3786.9,281.1V326.4M3788.3,281.9V324.2M3789.7,285.3V322.7M3791.1,285.8V327.5M3792.5,284.6V327.3M3793.9,281.2V323.6M3795.3,284.8V328M3796.7,285.3V328M3798.1,281.2V331.2M3799.5,281.3V326.8M3800.9,283.7V326.8M3802.3,286.6V328.5M3803.7,284.2V328.5M3805.1,280.4V336.5M3806.5,282.1V325.3M3807.9,282.3V322.8M3809.3,283.1V328.6M3810.7,285.5V327.4M3812.1,285.9V325.9M3813.5,280.4V326.4M3814.9,285.1V323.5M3816.3,284.4V322.9M3817.7,277.6V327.5M3819.1,282.2V333.9M3820.5,281.1V325.1M3821.9,284.4V325.8M3823.3,273.1V327.9M3824.7,283.2V327.9M3826.1,283.4V326.3M3827.5,285.5V327.2M3828.9,281.4V324M3830.3,286.1V326M3831.7,285.6V337.4M3833.1,281.4V326.2M3834.5,284.1V327.9M3835.9,280.9V329.3M3837.3,280.5V325.8M3838.7,281.5V325.3M3840.1,285.1V327.3M3841.5,281.3V324.6M3842.9,286.2V327.1M3844.3,282.8V326.8M3845.7,285.1V328.6M3847.1,282.7V336.5M3848.5,281.7V326.1M3849.9,286.3V335.2M3851.3,282.2V324.4M3852.7,280.7V324M3854.1,280.8V323.1M3855.5,282.4V326.3M3856.9,283.7V322.9M3858.3,281.9V325.4M3859.7,282.5V327.4M3861.1,280.9V323.1M3862.5,281.2V327.5M3863.9,286.6V335.9M3865.3,283.7V328.2M3866.7,282.8V327.1M3868.1,282.9V324.6M3869.5,276.5V325M3870.9,286.6V324.6M3872.3,282.9V324.7M3873.7,276.7V323.2M3875.1,281V325.2M3876.5,284.1V326.3M3877.9,283.7V323.8M3879.3,284.8V324.1M3880.7,282.9V324.4M3882.1,288.4V322.5M3883.5,289.2V319.4M3884.9,289.1V320.7M3886.3,290V319.4M3887.7,290.9V315.6M3889.1,292.6V316.7M3890.5,294.9V315.4M3891.9,291.9V313.4M3893.3,298.3V312.3M3894.7,298.8V309.7M3896.1,300.3V308.7M3897.5,301V308.5M3898.9,301V308.2M3900.3,301V308.2M3901.7,301V308.2M3903.1,301V308.2M3904.5,301V308.2M3905.9,301V308.2M3907.3,301V308.2M3908.7,301V308.2M3910.1,301V308.2M3911.5,301V308.2M3912.9,301V308.2M3914.3,301V308.2M3915.7,301V308.2M3917.1,301V308.2M3918.5,301V308.2M3919.9,301V308.2M3921.3,301V308.2M3922.7,301V308.2M3924.1,301V308.2M3925.5,301V308.2M3926.9,301V308.2M3928.3,301V308.2M3929.7,301V308.2M3931.1,301V308.2M3932.5,301V308.2M3933.9,301V308.2M3935.3,301V308.2M3936.7,301V308.2M3938.1,301V308.2M3939.5,301V308.2M3940.9,301V308.2M3942.3,301V308.2M3943.7,301V308.2M3945.1,301V308.2M3946.5,301V308.2M3947.9,301V308.2M3949.3,301V308.2M3950.7,301V308.2M3952.1,301V308.2M3953.5,301V308.2M3954.9,301V308.2M3956.3,301V308.2M3957.7,301V308.2M3959.1,301V308.2M3960.5,301V308.2M3961.9,301V308.2M3963.3,301V308.2M3964.7,301V308.2" stroke="#0000ff" stroke-width="1.6" fill="none"/>
<path d="M2377.1,302.7V306.5M2378.5,302.7V306.5M2379.9,302.7V306.5M2381.3,302.7V306.5M2382.7,302.7V306.5M2384.1,302.7V306.5M2385.5,302.7V306.5M2386.9,302.7V306.5M2388.3,302.7V306.5M2389.7,302.7V306.5M2391.1,302.7V306.5M2392.5,302.7V306.5M2393.9,302.7V306.5M2395.3,302.7V306.5M2396.7,302.7V306.5M2398.1,302.7V306.5M2399.5,302.7V306.5M2400.9,302.7V306.5M2402.3,302.7V306.5M2403.7,302.7V306.5M2405.1,302.7V306.5M2406.5,302.7V306.5M2407.9,302.7V306.5M2409.3,302.7V306.5M2410.7,302.7V306.5M2412.1,302.7V306.5M2413.5,302.7V306.5M2414.9,302.7V306.5M2416.3,302.7V306.5M2417.7,302.7V306.5M2419.1,302.7V306.5M2420.5,302.7V306.5M2421.9,302.7V306.5M2423.3,302.7V306.5M2424.7,302.7V306.5M2426.1,302.7V306.5M2427.5,302.7V306.5M2428.9,302.7V306.5M2430.3,302.7V306.5M2431.7,302.7V306.5M2433.1,302.7V306.5M2434.5,302.7V306.5M2435.9,302.7V306.5M2437.3,302.7V306.5M2438.7,302.7V306.5M2440.1,302.7V306.5M2441.5,302.7V306.5M2442.9,302.7V306.5M2444.3,302.7V306.5M2445.7,302.7V306.5M2447.1,302.7V306.5M2448.5,302.7V306.5M2449.9,302.7V306.5M2451.3,302.7V306.5M2452.7,302.7V306.5M2454.1,302.7V306.5M2455.5,302.7V306.5M2456.9,302.7V306.5M2458.3,302.7V306.5M2459.7,302.7V306.5M2461.1,302.7V306.5M2462.5,302.7V306.5M2463.9,302.7V306.5M2465.3,302.7V306.5M2466.7,302.7V306.5M2468.1,302.7V306.5M2469.5,302.7V306.5M2470.9,302.7V306.5M2472.3,302.7V306.5M2473.7,302.7V306.5M2475.1,302.7V306.5M2476.5,302.7V306.5M2477.9,302.7V306.5M2479.3,302.7V306.5M2480.7,302.7V306.5M2482.1,302.7V306.5M2483.5,302.7V306.5M2484.9,302.7V306.5M2486.3,302.7V306.5M2487.7,302.7V306.5M2489.1,302.7V306.5M2490.5,302.7V306.5M2491.9,302.7V306.5M2493.3,302.7V306.5M2494.7,302.7V306.5M2496.1,302.7V306.5M2497.5,302.7V306.5M2498.9,302.2V307.2M2500.3,297.8V311M2501.7,296.8V312.7M2503.1,291.8V318.8M2504.5,289.6V321M2505.9,275.9V321.9M2507.3,283.2V328.6M2508.7,282.7V329.5M2510.1,275.7V335.4M2511.5,271.5V337.9M2512.9,271V337.3M2514.3,270.4V340.9M2515.7,268.7V333.7M2517.1,272.8V339.9M2518.5,268.5V335.2M2519.9,276.3V335.4M2521.3,270.8V333.4M2522.7,272.7V334.8M2524.1,275.9V341.3M2525.5,272.1V341.3M2526.9,273.2V340.6M2528.3,275.6V333.4M2529.7,269.3V340.9M2531.1,275.8V340.4M2532.5,272.8V336.5M2533.9,266.7V342.4M2535.3,273.3V342.6M2536.7,272.7V336.8M2538.1,268.1V341.6M2539.5,267.1V332.7M2540.9,266.2V341.2M2542.3,275.8V340.5M2543.7,275.1V339.5M2545.1,271V336.8M2546.5,266.8V341.5M2547.9,271V341.2M2549.3,274.5V335.7M2550.7,276V338.8M2552.1,270.2V334.5M2553.5,273.9V342.4M2554.9,268V338.2M2556.3,272.7V340.2M2557.7,269.8V335.4M2559.1,275.8V340.3M2560.5,268.1V342.4M2561.9,273.3V333.3M2563.3,271.7V341.5M2564.7,276.6V341.2M2566.1,272.4V335.3M2567.5,267.7V334M2568.9,275.7V334.2M2570.3,268.4V336.7M2571.7,269.5V332.7M2573.1,267.7V334.2M2574.5,266V340.3M2575.9,270.4V336.1M2577.3,270.8V338.6M2578.7,273.6V335.1M2580.1,266V339.6M2581.5,274.5V334.1M2582.9,250.4V339.8M2584.3,268.5V337.8M2585.7,271V337.2M2587.1,268.5V338.9M2588.5,271V335.8M2589.9,272.1V334.9M2591.3,247V335.1M2592.7,270.3V332.8M2594.1,273.5V342.2M2595.5,274.5V334.6M2596.9,269V340.1M2598.3,274.7V339.7M2599.7,266.6V335.5M2601.1,270.2V335.2M2602.5,274.7V362.6M2603.9,270.7V336.4M2605.3,266.4V341M2606.7,274.1V334.9M2608.1,274.7V332.7M2609.5,270.5V341.1M2610.9,273.8V333.5M2612.3,276V336.5M2613.7,271.8V332.9M2615.1,276.3V340.8M2616.5,272.8V343.1M2617.9,267.3V342.1M2619.3,280.5V328.5M2620.7,274.6V330.5M2622.1,278.7V333.4M2623.5,258.5V329.9M2624.9,278.7V327.5M2626.3,275.9V333.4M2627.7,274.5V329.7M2629.1,273.6V333M2630.5,276.6V330.8M2631.9,278.6V328.6M2633.3,276V348.9M2634.7,277V329.9M2636.1,280.5V332.5M2637.5,278.5V329.5M2638.9,279.4V335.6M2640.3,278.7V331.4M2641.7,279.1V329.8M2643.1,277.8V330.3M2644.5,277.6V327.7M2645.9,280.7V334.7M2647.3,275.8V330M2648.7,274.8V328.2M2650.1,273.6V333.1M2651.5,281.1V329.6M2652.9,278.8V334.1M2654.3,276V334.1M2655.7,263.6V332.1M2657.1,281.7V334.9M2658.5,277.9V334.2M2659.9,274.5V331M2661.3,279V329.8M2662.7,275.2V330.6M2664.1,275.9V350.7M2665.5,278.9V330.2M2666.9,275.6V333.1M2668.3,278.6V331.8M2669.7,278.3V329M2671.1,280.5V335.8M2672.5,277.6V328.8M2673.9,281.3V329.6M2675.3,277V328.5M2676.7,283.4V328.7M2678.1,276.5V331.7M2679.5,282.1V325.4M2680.9,280V331.1M2682.3,283.4V327.9M2683.7,277.4V326.4M2685.1,279.6V326.3M2686.5,281.5V332.7M2687.9,281V328.1M2689.3,282.1V327.1M2690.7,280.8V328.2M2692.1,281.1V331.9M2693.5,283.6V325.5M2694.9,284.2V328.5M2696.3,276.5V331.4M2697.7,282.6V326.5M2699.1,279.4V326.8M2700.5,276.9V325M2701.9,283.4V325.9M2703.3,282.6V329.2M2704.7,281.1V331.7M2706.1,283.1V325.1M2707.5,283.7V325.7M2708.9,280.4V328M2710.3,281V325.2M2711.7,281.4V328.7M2713.1,279.7V327.7M2714.5,280.3V325.3M2715.9,282.1V325.5M2717.3,283.9V325.2M2718.7,265.7V330.7M2720.1,278.4V328.4M2721.5,279.1V325.7M2722.9,280.1V325.8M2724.3,280.5V327.9M2725.7,283.1V329.5M2727.1,276.6V330.3M2728.5,281.4V328.3M2729.9,278.4V327.3M2731.3,276.9V331.2M2732.7,278.3V331.9M2734.1,278.6V340.9M2735.5,282.2V327M2736.9,278.6V330M2738.3,282.5V327.8M2739.7,283.5V330M2741.1,277.5V330.1M2742.5,280.2V329M2743.9,280.5V328.7M2745.3,277V332.3M2746.7,279.5V332.2M2748.1,270.1V331.4M2749.5,278.1V331.4M2750.9,280.2V330.2M2752.3,278.2V326.7M2753.7,282V330.6M2755.1,281.1V327.8M2756.5,281.7V327.8M2757.9,281.4V332.1M2759.3,283.2V332.3M2760.7,281.4V327M2762.1,283.4V329.1M2763.5,281.9V332.1M2764.9,280.7V331.5M2766.3,283.9V326.2M2767.7,280.7V325M2769.1,281.9V331.8M2770.5,277V331.8M2771.9,279.8V332.3M2773.3,280.3V324.9M2774.7,280.6V332.5M2776.1,282.3V328.8M2777.5,280.4V326.4M2778.9,278.7V331.2M2780.3,281.6V329.7M2781.7,277.5V326.3M2783.1,277.5V331M2784.5,284.2V331.1M2785.9,282.9V330.3M2787.3,276.8V327.5M2788.7,278.5V326.4M2790.1,276.9V328.1M2791.5,278.3V329.9M2792.9,278.3V326M2794.3,278.8V328.3M2795.7,278.9V325.9M2797.1,284V325.9M2798.5,276.8V328.7M2799.9,280.3V328M2801.3,280.8V329.8M2802.7,281.4V332.5M2804.1,279.2V328.3M2805.5,284.2V330.9M2806.9,283.9V331.3M2808.3,282.4V329.3M2809.7,282.2V329M2811.1,281V329.6M2812.5,283.8V330.3M2813.9,281.4V326M2815.3,278.1V326.9M2816.7,278.8V331.8M2818.1,276.6V326.6M2819.5,277.1V326.2M2820.9,282.5V325.2M2822.3,281.6V329.6M2823.7,279.1V327.4M2825.1,268.2V327.3M2826.5,277.4V329.8M2827.9,280.2V331.1M2829.3,282.1V331.7M2830.7,277.4V332.1M2832.1,277.6V332.6M2833.5,279.9V328.3M2834.9,282.6V329.1M2836.3,283.8V327.5M2837.7,278.4V325.1M2839.1,281.8V331.4M2840.5,277.9V330.5M2841.9,283.8V326.7M2843.3,278.7V325.3M2844.7,281.8V329.5M2846.1,282.9V325.5M2847.5,278.4V325.3M2848.9,283.7V331.5M2850.3,282.8V326.2M2851.7,266.6V329.7M2853.1,276.9V327.9M2854.5,278.4V330.4M2855.9,278.5V327.7M2857.3,279.2V326M2858.7,281.8V326.4M2860.1,277.7V329.2M2861.5,279.3V330.5M2862.9,281.2V330.7M2864.3,282.8V340.2M2865.7,278.6V330.2M2867.1,284.1V331.3M2868.5,281.4V344M2869.9,283.1V329M2871.3,281.6V330.1M2872.7,279.8V330.2M2874.1,279.4V324.9M2875.5,282.6V323.3M2876.9,282V322.8M2878.3,288V321.7M2879.7,287.4V318.9M2881.1,293.6V317.4M2882.5,295V319.5M2883.9,297.8V313.3M2885.3,299.8V310.1M2886.7,302V308.9M2888.1,302.7V306.5M2889.5,302.7V306.5M2890.9,302.7V306.5M2892.3,302.7V306.5M2893.7,302.7V306.5M2895.1,302.7V306.5M2896.5,302.7V306.5M2897.9,302.7V306.5M2899.3,302.7V306.5M2900.7,302.7V306.5M2902.1,302.7V306.5M2903.5,302.7V306.5M2904.9,302.7V306.5M2906.3,302.7V306.5M2907.7,302.7V306.5M2909.1,302.7V306.5M2910.5,302.7V306.5M2911.9,302.7V306.5M2913.3,302.7V306.5M2914.7,302.7V306.5M2916.1,302.7V306.5M2917.5,302.7V306.5M2918.9,302.7V306.5M2920.3,302.7V306.5M2921.7,302.7V306.5M2923.1,302.7V306.5M2924.5,302.7V306.5M2925.9,302.7V306.5M2927.3,302.7V306.5M2928.7,302.7V306.5M2930.1,302.7V306.5M2931.5,302.7V306.5M2932.9,302.7V306.5M2934.3,302.7V306.5M2935.7,302.7V306.5M2937.1,302.7V306.5M2938.5,302.7V306.5M2939.9,302.7V306.5M2941.3,302.7V306.5M2942.7,302.7V306.5M2944.1,302.7V306.5M2945.5,302.7V306.5M2946.9,302.7V306.5M2948.3,302.7V306.5M2949.7,302.7V306.5M2951.1,302.7V306.5M2952.5,302.7V306.5M2953.9,302.7V306.5M2955.3,302.7V306.5M2956.7,302.7V306.5M2958.1,302.7V306.5M2959.5,302.7V306.5M2960.9,302.7V306.5M2962.3,302.7V306.5M2963.7,302.7V306.5M2965.1,302.7V306.5M2966.5,302.7V306.5M2967.9,302.7V306.5M2969.3,302.7V306.5M2970.7,302.7V306.5M2972.1,302.7V306.5M2973.5,302.7V306.5M2974.9,302.7V306.5M2976.3,302.7V306.5M2977.7,302.7V306.5M2979.1,302.7V306.5M2980.5,302.7V306.5M2981.9,302.7V306.5M2983.3,302.7V306.5M2984.7,302.7V306.5M2986.1,302.7V306.5M2987.5,302.7V306.5M2988.9,302.7V306.5M2990.3,302.7V306.5M2991.7,302.7V306.5M2993.1,302.7V306.5M2994.5,302.7V306.5M2995.9,302.7V306.5M2997.3,302.7V306.5M2998.7,302.7V306.5M3000.1,302.7V306.5M3001.5,302.7V306.5M3002.9,302.7V306.5M3004.3,302.7V306.5M3005.7,302.7V306.5M3007.1,302.7V306.5M3008.5,302.7V306.5M3009.9,302.7V306.5M3011.3,302.7V306.5M3012.7,302.7V306.5M3014.1,302.7V306.5M3015.5,302.7V306.5M3016.9,302.7V306.5M3018.3,302.7V306.5M3019.7,302.7V306.5M3021.1,302.7V306.5M3022.5,302.7V306.5M3023.9,302.7V306.5M3025.3,302.7V306.5M3026.7,302.5V306.7M3028.1,300.6V307.9M3029.5,298.5V310.7M3030.9,298V313.1M3032.3,295.7V312.6M3033.7,294.1V315.1M3035.1,291.1V317.6M3036.5,291.1V318M3037.9,287.9V322.1M3039.3,288.2V321.5M3040.7,285.2V322.1M3042.1,283.7V324M3043.5,284.9V324.9M3044.9,283.4V325.9M3046.3,278V325.9M3047.7,284.1V330.2M3049.1,277.8V331.2M3050.5,278.3V332.6M3051.9,276.7V331.8M3053.3,283.8V332.4M3054.7,283.7V331.3M3056.1,278.1V328.1M3057.5,277.8V331.7M3058.9,284V328.2M3060.3,277V340.5M3061.7,282.4V332M3063.1,279V327.6M3064.5,279.5V325.6M3065.9,277.8V329.6M3067.3,279.3V330.5M3068.7,279.6V330.2M3070.1,282V328.9M3071.5,282.8V329M3072.9,280.7V326.5M3074.3,281.4V330.6M3075.7,281.3V325M3077.1,279.4V330.1M3078.5,283V327.7M3079.9,283.7V324.9M3081.3,280.9V325.7M3082.7,279.6V329.2M3084.1,280.9V329.6M3085.5,280V326.9M3086.9,280.9V329.4M3088.3,284.2V331.3M3089.7,284.2V327.3M3091.1,282.5V328.6M3092.5,279.7V326.8M3093.9,276.5V332.7M3095.3,283.7V326.4M3096.7,280.8V330.4M3098.1,282.9V327.1M3099.5,281.2V330M3100.9,284.3V328.9M3102.3,279V331M3103.7,278.5V329.8M3105.1,284.3V330.1M3106.5,280.3V329.6M3107.9,279.3V329.9M3109.3,278.9V326.8M3110.7,282.5V330.3M3112.1,278.3V330.6M3113.5,280V341.8M3114.9,278.1V325M3116.3,282.9V325.6M3117.7,283.9V329.5M3119.1,282V329.6M3120.5,279.4V329.2M3121.9,269.4V329M3123.3,281.6V326.8M3124.7,281.7V326.1M3126.1,277.4V331.5M3127.5,265.4V330.8M3128.9,282.5V328.1M3130.3,280.1V332.3M3131.7,284V327.2M3133.1,283.6V325.5M3134.5,284.1V327.9M3135.9,277V329.1M3137.3,284V325.7M3138.7,284.3V325.1M3140.1,280.9V328.1M3141.5,283.9V330.5M3142.9,281.3V344.9M3144.3,278.9V330M3145.7,278.1V325.2M3147.1,280.7V327M3148.5,281V332.2M3149.9,278.5V325.8M3151.3,278.6V325.2M3152.7,278.8V344.8M3154.1,278.3V325.5M3155.5,277.8V328.8M3156.9,282.2V331.8M3158.3,278.4V330.1M3159.7,283.9V330.8M3161.1,268.7V328.4M3162.5,280.2V326.6M3163.9,282.3V326.5M3165.3,281.5V329.8M3166.7,280.2V327.4M3168.1,278.2V332.5M3169.5,283.7V325.5M3170.9,278.2V329.3M3172.3,278.4V325.7M3173.7,278.9V329.6M3175.1,266.7V328.9M3176.5,278.8V331.5M3177.9,281.1V328.4M3179.3,279.6V325.1M3180.7,279.5V329.2M3182.1,276.8V332.5M3183.5,284.2V328.6M3184.9,278.2V330.7M3186.3,278V332M3187.7,280V332.3M3189.1,282.7V328M3190.5,279.5V328.8M3191.9,276.5V326.5M3193.3,279.7V332.1M3194.7,277.2V332.5M3196.1,283V329.3M3197.5,272.3V332.9M3198.9,272.6V328.7M3200.3,275.2V329.8M3201.7,279.7V333.9M3203.1,275.8V336.3M3204.5,261.7V336.1M3205.9,275.6V332.8M3207.3,278V334.7M3208.7,276.9V330.3M3210.1,279.4V328.4M3211.5,279.5V332.6M3212.9,281.1V329.2M3214.3,279.2V337.1M3215.7,280.8V332.4M3217.1,279.3V335.2M3218.5,276.8V336.4M3219.9,261.3V336.8M3221.3,277.3V329.2M3222.7,280.5V333M3224.1,274V333.2M3225.5,274.8V328.2M3226.9,274.6V332.2M3228.3,274.3V336.3M3229.7,280.2V331.4M3231.1,279.8V334.3M3232.5,274V331M3233.9,274.6V333.7M3235.3,273.3V329.9M3236.7,275.8V335.7M3238.1,280.4V330.1M3239.5,277.8V332.3M3240.9,259V331.3M3242.3,275.5V330.5M3243.7,274.1V334.7M3245.1,278.1V330M3246.5,257V329.4M3247.9,273V334.9M3249.3,277.1V334.5M3250.7,272.7V352M3252.1,272.9V330.6M3253.5,273.8V334.2M3254.9,273.5V329.5M3256.3,272.6V334.4M3257.7,256.7V352.3M3259.1,273.6V351.5M3260.5,277.7V335.8M3261.9,277.3V333.1M3263.3,278.7V331.5M3264.7,276.6V334.2M3266.1,277.8V336.7M3267.5,277.8V331.6M3268.9,276.5V332.5M3270.3,277V336.8M3271.7,275.9V335.9M3273.1,275.8V332M3274.5,276.3V335.8M3275.9,276.2V335.3M3277.3,275V334.8M3278.7,277.7V334.1M3280.1,278.6V335.9M3281.5,274.3V336M3282.9,275.7V332.9M3284.3,275.4V328.7M3285.7,272.4V330.3M3287.1,279V329M3288.5,280.9V337M3289.9,276.9V329.7M3291.3,280.1V331.8M3292.7,277.3V332.9M3294.1,272.6V335.9M3295.5,277.4V332.7M3296.9,276.7V332.6M3298.3,279V331.9M3299.7,259.2V333.4M3301.1,274.5V331.2M3302.5,273V334.3M3303.9,278.9V333.9M3305.3,276.2V331.7M3306.7,276.6V330.7M3308.1,273V335.5M3309.5,276.3V332.2M3310.9,280.3V330.9M3312.3,280.7V334.3M3313.7,273.5V333.2M3315.1,272.4V332.8M3316.5,274.6V334.7M3317.9,273.9V329.9M3319.3,281.1V328.1M3320.7,274.3V329.1M3322.1,275.3V335.2M3323.5,272.9V333.6M3324.9,276.9V329.4M3326.3,275.2V335.1M3327.7,277.7V328.4M3329.1,281.1V334.2M3330.5,277.5V330.3M3331.9,275.3V337.1M3333.3,275.1V331.7M3334.7,274.3V332.2M3336.1,278.6V331.8M3337.5,279.9V328.2M3338.9,276.2V333.3M3340.3,273.3V331M3341.7,272.6V334.7M3343.1,277.2V330.6M3344.5,278.3V351.1M3345.9,274.5V337M3347.3,278.2V334.7M3348.7,278.3V333.1M3350.1,280.1V337M3351.5,277.9V328.6M3352.9,279.6V336.5M3354.3,280.5V335.4M3355.7,279.1V334.5M3357.1,278.5V335.7M3358.5,272.8V330.8M3359.9,272.5V334.2M3361.3,280V336.4M3362.7,274.7V334.1M3364.1,279.6V336.9M3365.5,275.6V329.6M3366.9,278.7V333.2M3368.3,278.7V329.6M3369.7,260.1V331.2M3371.1,281.2V333.2M3372.5,280V328.3M3373.9,281V335.6M3375.3,273.8V352.3M3376.7,279.3V328.4M3378.1,278V333.1M3379.5,277.1V335.3M3380.9,277V329.5M3382.3,272.1V333.9M3383.7,273.4V333.1M3385.1,279.5V333.8M3386.5,277.4V330.4M3387.9,281.8V330.3M3389.3,280V326.9M3390.7,288.6V323M3392.1,289.3V318.6M3393.5,295.5V318.8M3394.9,300.3V309.3M3396.3,302.7V306.5M3397.7,302.7V306.5M3399.1,302.7V306.5M3400.5,302.7V306.5M3401.9,302.7V306.5M3403.3,302.7V306.5M3404.7,302.7V306.5M3406.1,302.7V306.5M3407.5,302.7V306.5M3408.9,302.7V306.5M3410.3,302.7V306.5M3411.7,302.7V306.5M3413.1,302.7V306.5M3414.5,302.7V306.5M3415.9,302.7V306.5M3417.3,302.7V306.5M3418.7,302.7V306.5M3420.1,302.7V306.5M3421.5,302.7V306.5M3422.9,302.7V306.5M3424.3,302.7V306.5M3425.7,302.7V306.5M3427.1,302.7V306.5M3428.5,302.7V306.5M3429.9,302.7V306.5M3431.3,302.7V306.5M3432.7,302.7V306.5M3434.1,302.7V306.5M3435.5,302.7V306.5M3436.9,302.7V306.5M3438.3,302.7V306.5M3439.7,302.7V306.5M3441.1,302.7V306.5M3442.5,302.7V306.5M3443.9,302.7V306.5M3445.3,302.7V306.5M3446.7,302.7V306.5M3448.1,302.7V306.5M3449.5,302.7V306.5M3450.9,302.7V306.5M3452.3,302.7V306.5M3453.7,302.7V306.5M3455.1,302.7V306.5M3456.5,302.7V306.5M3457.9,302.7V306.5M3459.3,302.7V306.5M3460.7,302.7V306.5M3462.1,302.7V306.5M3463.5,302.7V306.5M3464.9,302.7V306.5M3466.3,302.7V306.5M3467.7,302.7V306.5M3469.1,302.7V306.5M3470.5,302.7V306.5M3471.9,302.7V306.5M3473.3,302.7V306.5M3474.7,302.7V306.5M3476.1,302.7V306.5M3477.5,302.7V306.5M3478.9,302.7V306.5M3480.3,302.7V306.5M3481.7,302.7V306.5M3483.1,302.7V306.5M3484.5,302.7V306.5M3485.9,302.7V306.5M3487.3,302.7V306.5M3488.7,302.7V306.5M3490.1,302.7V306.5M3491.5,302.7V306.5M3492.9,302.7V306.5M3494.3,302.7V306.5M3495.7,302.7V306.5M3497.1,302.7V306.5M3498.5,302.7V306.5M3499.9,302.7V306.5M3501.3,302.7V306.5M3502.7,302.7V306.5M3504.1,302.7V306.5M3505.5,302.7V306.5M3506.9,302.7V306.5M3508.3,302.7V306.5M3509.7,302.7V306.5M3511.1,302.7V306.5M3512.5,302.7V306.5M3513.9,302.7V306.5M3515.3,302.7V306.5M3516.7,302.6V306.5M3518.1,302V307.5M3519.5,300.3V309M3520.9,299.3V310.3M3522.3,298.4V310.7M3523.7,296.7V311.7M3525.1,295.7V313.1M3526.5,288.2V313.2M3527.9,294.8V315.7M3529.3,285.9V317.3M3530.7,290V318.5M3532.1,289.5V320.1M3533.5,291.8V320.8M3534.9,287.1V320M3536.3,288.5V319.8M3537.7,285.2V323M3539.1,285.3V326M3540.5,283V326.9M3541.9,288.1V323.9M3543.3,287.8V325.4M3544.7,282.2V326.4M3546.1,284.7V337.3M3547.5,283.6V323.9M3548.9,283.5V324.8M3550.3,285.6V325.6M3551.7,283.4V324M3553.1,275.9V326.3M3554.5,286V324.8M3555.9,282.2V326.6M3557.3,284.4V324.4M3558.7,286.8V324.8M3560.1,285V321.2M3561.5,271.4V321.7M3562.9,287.2V321.1M3564.3,282.3V327.1M3565.7,283.9V334.3M3567.1,285.8V326.7M3568.5,287.9V326.5M3569.9,283.6V326.1M3571.3,285V320.9M3572.7,286.8V323.4M3574.1,282.4V325.9M3575.5,286.7V322.8M3576.9,287.2V324.9M3578.3,285V320.8M3579.7,288.2V327M3581.1,283.1V323.7M3582.5,286.3V324.6M3583.9,282.9V325.8M3585.3,283.4V323.6M3586.7,282.9V326.5M3588.1,283V321.3M3589.5,285.5V324.5M3590.9,282.8V325.5M3592.3,286.9V322.6M3593.7,287.9V321.3M3595.1,282.4V322.9M3596.5,288.1V325.8M3597.9,285.3V322M3599.3,286.7V324.1M3600.7,282.9V324M3602.1,286.4V321.8M3603.5,285.1V323.6M3604.9,284.4V323.8M3606.3,287.6V325.3M3607.7,286V320.8M3609.1,287.8V326.2M3610.5,283.5V322.6M3611.9,285V325.7M3613.3,286.2V322.5M3614.7,285.3V321.5M3616.1,287.4V325.6M3617.5,283.4V325.7M3618.9,285.6V321.3M3620.3,288V325.7M3621.7,285.7V326.8M3623.1,286.8V324.3M3624.5,284.2V326.5M3625.9,287.2V323.8M3627.3,283.2V322.5M3628.7,284.1V324.2M3630.1,283.1V322.5M3631.5,287.6V325.6M3632.9,283.2V325M3634.3,271.9V322.6M3635.7,282.2V332.9M3637.1,287.3V324.3M3638.5,282.3V323.8M3639.9,282.4V324.4M3641.3,287.8V324.9M3642.7,286.4V325.4M3644.1,285.4V325.6M3645.5,282.5V323.6M3646.9,286.2V321.8M3648.3,285.2V323.1M3649.7,287.8V324.2M3651.1,283.8V322.6M3652.5,284.7V322.1M3653.9,286.3V323.2M3655.3,286.3V323.5M3656.7,287.3V325.7M3658.1,285.1V323.3M3659.5,283.6V324.9M3660.9,282.3V322.3M3662.3,282.2V324.2M3663.7,283.2V324.7M3665.1,283.5V325.2M3666.5,285.4V322.5M3667.9,287.5V323.3M3669.3,285.4V325.1M3670.7,282.8V325.6M3672.1,284.3V325.2M3673.5,286.9V321.1M3674.9,287.6V322.8M3676.3,282.5V324.3M3677.7,283.4V326.5M3679.1,283.6V322.8M3680.5,287.7V322.1M3681.9,282.5V323.5M3683.3,283.5V325.4M3684.7,285V322.3M3686.1,271.4V322.8M3687.5,284.1V323.8M3688.9,287.5V333.9M3690.3,282.6V326.7M3691.7,286V323.1M3693.1,284.5V324.3M3694.5,284.9V322.1M3695.9,287.7V323.5M3697.3,284.3V321.3M3698.7,276.3V321.5M3700.1,284.4V321.2M3701.5,288.2V324.3M3702.9,282.3V324.9M3704.3,282.6V323.3M3705.7,282.4V322.6M3707.1,288.3V322.3M3708.5,287.4V325.2M3709.9,282.4V323.9M3711.3,283.3V322M3712.7,285.8V325.3M3714.1,287.4V326.2M3715.5,283.7V324.3M3716.9,285.3V323.9M3718.3,283.7V325.6M3719.7,286.7V321.5M3721.1,286.4V321.4M3722.5,284.3V321.2M3723.9,287.6V326.6M3725.3,284.3V323.5M3726.7,287.2V323M3728.1,287V335.8M3729.5,287.6V326.5M3730.9,285.6V323.7M3732.3,283.3V323.1M3733.7,275V321.2M3735.1,282.5V323.5M3736.5,284.6V324.6M3737.9,287.8V324.9M3739.3,286.1V323.4M3740.7,288.2V320.8M3742.1,283.6V323M3743.5,284.7V321.6M3744.9,273.4V322.9M3746.3,283.7V323.8M3747.7,284.4V323.5M3749.1,285.3V323.2M3750.5,286.4V325.7M3751.9,286.6V325.6M3753.3,283.3V323.9M3754.7,284.2V324.8M3756.1,287.1V321.1M3757.5,283.6V323.5M3758.9,285.4V322.4M3760.3,286.1V322.2M3761.7,283.1V324.6M3763.1,287.2V326M3764.5,285.9V326.8M3765.9,282.4V322.8M3767.3,285.2V326.6M3768.7,285.5V321.7M3770.1,287.1V321.5M3771.5,287.2V320.9M3772.9,282.6V324.2M3774.3,287.1V322.4M3775.7,283.9V325.8M3777.1,282.6V324.3M3778.5,286V326.3M3779.9,282.6V324.1M3781.3,286.7V325.4M3782.7,282.9V321.5M3784.1,287.9V323.1M3785.5,285.2V320.9M3786.9,282.9V324.6M3788.3,283.6V322.5M3789.7,287.1V320.9M3791.1,287.6V325.8M3792.5,286.3V325.5M3793.9,282.9V321.9M3795.3,286.5V326.3M3796.7,287.1V326.2M3798.1,283V323.8M3799.5,283.1V325M3800.9,285.5V325M3802.3,288.4V326.8M3803.7,285.9V326.8M3805.1,282.2V334.7M3806.5,283.8V323.6M3807.9,284V321M3809.3,284.8V326.9M3810.7,287.3V325.6M3812.1,287.6V324.2M3813.5,282.2V324.7M3814.9,286.9V321.7M3816.3,286.1V321.2M3817.7,285V325.7M3819.1,283.9V326.5M3820.5,282.8V323.3M3821.9,286.1V324M3823.3,274.8V326.1M3824.7,285V326.1M3826.1,285.2V324.5M3827.5,287.3V325.5M3828.9,283.1V322.3M3830.3,287.8V324.3M3831.7,287.3V335.6M3833.1,283.2V324.4M3834.5,285.9V326.2M3835.9,282.7V322M3837.3,282.3V324.1M3838.7,283.3V323.5M3840.1,286.9V325.5M3841.5,283V322.9M3842.9,288V325.4M3844.3,284.5V325M3845.7,286.8V326.8M3847.1,284.5V334.7M3848.5,283.5V324.4M3849.9,288.1V333.4M3851.3,284V322.7M3852.7,282.4V322.3M3854.1,282.6V321.3M3855.5,284.2V324.5M3856.9,285.5V321.1M3858.3,283.6V323.6M3859.7,284.3V325.6M3861.1,282.6V321.4M3862.5,282.9V325.8M3863.9,288.4V334.1M3865.3,285.4V326.4M3866.7,284.5V325.4M3868.1,284.7V322.9M3869.5,283.9V323.3M3870.9,288.3V322.9M3872.3,284.7V322.9M3873.7,284.1V321.5M3875.1,282.8V323.5M3876.5,285.8V324.6M3877.9,285.5V322M3879.3,286.5V322.3M3880.7,284.6V322.7M3882.1,290.1V320.8M3883.5,291V317.6M3884.9,290.9V318.9M3886.3,291.8V317.6M3887.7,292.7V313.9M3889.1,294.3V315M3890.5,296.7V313.6M3891.9,293.6V311.7M3893.3,300.1V310.5M3894.7,300.5V307.9M3896.1,302V307M3897.5,302.7V306.5M3898.9,302.7V306.5M3900.3,302.7V306.5M3901.7,302.7V306.5M3903.1,302.7V306.5M3904.5,302.7V306.5M3905.9,302.7V306.5M3907.3,302.7V306.5M3908.7,302.7V306.5M3910.1,302.7V306.5M3911.5,302.7V306.5M3912.9,302.7V306.5M3914.3,302.7V306.5M3915.7,302.7V306.5M3917.1,302.7V306.5M3918.5,302.7V306.5M3919.9,302.7V306.5M3921.3,302.7V306.5M3922.7,302.7V306.5M3924.1,302.7V306.5M3925.5,302.7V306.5M3926.9,302.7V306.5M3928.3,302.7V306.5M3929.7,302.7V306.5M3931.1,302.7V306.5M3932.5,302.7V306.5M3933.9,302.7V306.5M3935.3,302.7V306.5M3936.7,302.7V306.5M3938.1,302.7V306.5M3939.5,302.7V306.5M3940.9,302.7V306.5M3942.3,302.7V306.5M3943.7,302.7V306.5M3945.1,302.7V306.5M3946.5,302.7V306.5M3947.9,302.7V306.5M3949.3,302.7V306.5M3950.7,302.7V306.5M3952.1,302.7V306.5M3953.5,302.7V306.5M3954.9,302.7V306.5M3956.3,302.7V306.5M3957.7,302.7V306.5M3959.1,302.7V306.5M3960.5,302.7V306.5M3961.9,302.7V306.5M3963.3,302.7V306.5M3964.7,302.7V306.5" stroke="#cc7f1f" stroke-width="1.6" fill="none"/>
</g>
<rect x="2667.5" y="191" width="10" height="234.5" fill="#fff3b0" stroke="#3a3a3a" stroke-width="2"/>
<rect x="3190.5" y="194" width="9.5" height="233" fill="#fff3b0" stroke="#3a3a3a" stroke-width="2"/>
<rect x="3735" y="200.3" width="10.5" height="226.7" fill="#fff3b0" stroke="#3a3a3a" stroke-width="2"/>
<path d="M2377.1,178.6 V428.2 H3965.5" fill="none" stroke="#262626" stroke-width="3.4"/>
<line x1="2377.1" y1="242.1" x2="2395.7" y2="242.1" stroke="#262626" stroke-width="3.4"/>
<line x1="2377.1" y1="304.6" x2="2395.7" y2="304.6" stroke="#262626" stroke-width="3.4"/>
<line x1="2377.1" y1="367.1" x2="2395.7" y2="367.1" stroke="#262626" stroke-width="3.4"/>
<line x1="2377.1" y1="428.2" x2="2377.1" y2="419.5" stroke="#262626" stroke-width="3.4"/>
<line x1="2535.9" y1="428.2" x2="2535.9" y2="419.5" stroke="#262626" stroke-width="3.4"/>
<line x1="2694.7" y1="428.2" x2="2694.7" y2="419.5" stroke="#262626" stroke-width="3.4"/>
<line x1="2853.5" y1="428.2" x2="2853.5" y2="419.5" stroke="#262626" stroke-width="3.4"/>
<line x1="3012.3" y1="428.2" x2="3012.3" y2="419.5" stroke="#262626" stroke-width="3.4"/>
<line x1="3171.1" y1="428.2" x2="3171.1" y2="419.5" stroke="#262626" stroke-width="3.4"/>
<line x1="3329.9" y1="428.2" x2="3329.9" y2="419.5" stroke="#262626" stroke-width="3.4"/>
<line x1="3488.7" y1="428.2" x2="3488.7" y2="419.5" stroke="#262626" stroke-width="3.4"/>
<line x1="3647.5" y1="428.2" x2="3647.5" y2="419.5" stroke="#262626" stroke-width="3.4"/>
<line x1="3806.3" y1="428.2" x2="3806.3" y2="419.5" stroke="#262626" stroke-width="3.4"/>
<line x1="3965.1" y1="428.2" x2="3965.1" y2="419.5" stroke="#262626" stroke-width="3.4"/>
<text x="2333.3" y="253.6" font-family="Liberation Sans" font-weight="bold" font-size="32.50" fill="#262626">1</text>
<text x="2333.8" y="316.1" font-family="Liberation Sans" font-weight="bold" font-size="32.50" fill="#262626">0</text>
<text x="2322.5" y="378.6" font-family="Liberation Sans" font-weight="bold" font-size="32.50" fill="#262626">-1</text>
<text x="2322.9" y="441.1" font-family="Liberation Sans" font-weight="bold" font-size="32.50" fill="#262626">-2</text>
<text x="2365.3" y="468" font-family="Liberation Sans" font-weight="bold" font-size="37.00" fill="#262626" textLength="23.7" lengthAdjust="spacingAndGlyphs">0</text>
<text x="2524" y="468" font-family="Liberation Sans" font-weight="bold" font-size="37.00" fill="#262626" textLength="23.7" lengthAdjust="spacingAndGlyphs">5</text>
<text x="2667.4" y="468" font-family="Liberation Sans" font-weight="bold" font-size="37.00" fill="#262626" textLength="53.5" lengthAdjust="spacingAndGlyphs">10</text>
<text x="2825.9" y="468" font-family="Liberation Sans" font-weight="bold" font-size="37.00" fill="#262626" textLength="53.5" lengthAdjust="spacingAndGlyphs">15</text>
<text x="2985.7" y="468" font-family="Liberation Sans" font-weight="bold" font-size="37.00" fill="#262626" textLength="53.5" lengthAdjust="spacingAndGlyphs">20</text>
<text x="3144.2" y="468" font-family="Liberation Sans" font-weight="bold" font-size="37.00" fill="#262626" textLength="53.5" lengthAdjust="spacingAndGlyphs">25</text>
<text x="3303.6" y="468" font-family="Liberation Sans" font-weight="bold" font-size="37.00" fill="#262626" textLength="53.5" lengthAdjust="spacingAndGlyphs">30</text>
<text x="3462.1" y="468" font-family="Liberation Sans" font-weight="bold" font-size="37.00" fill="#262626" textLength="53.5" lengthAdjust="spacingAndGlyphs">35</text>
<text x="3621.4" y="468" font-family="Liberation Sans" font-weight="bold" font-size="37.00" fill="#262626" textLength="53.5" lengthAdjust="spacingAndGlyphs">40</text>
<text x="3779.9" y="468" font-family="Liberation Sans" font-weight="bold" font-size="37.00" fill="#262626" textLength="53.5" lengthAdjust="spacingAndGlyphs">45</text>
<text x="3938.6" y="468" font-family="Liberation Sans" font-weight="bold" font-size="37.00" fill="#262626" textLength="53.5" lengthAdjust="spacingAndGlyphs">50</text>
<text x="3080.7" y="514.6" font-family="Liberation Sans" font-weight="bold" font-size="56.50" fill="#262626">Time(s)</text>
<text x="2191.4" y="148.6" font-family="Liberation Sans" font-weight="bold" font-size="57.00" fill="#000">(a)</text>
<text x="2578.3" y="179" font-family="Liberation Sans" font-weight="bold" font-size="41.50" fill="#262626">Amplitude</text>
<text x="3078.9" y="179" font-family="Liberation Sans" font-weight="bold" font-size="41.50" fill="#262626">Pulse Width</text>
<text x="3589.2" y="179" font-family="Liberation Sans" font-weight="bold" font-size="41.50" fill="#262626">Frequency</text>
<g transform="translate(2292.9,435.7) rotate(-90)"><text x="-2.8" y="0" font-family="Liberation Sans" font-weight="bold" font-size="42.44" fill="#262626" textLength="197.7" lengthAdjust="spacingAndGlyphs">EMG (mv)</text></g>
<rect x="2536.7" y="70.3" width="1312.5" height="49.6" fill="#fff" stroke="#262626" stroke-width="3"/>
<line x1="2549.7" y1="93.7" x2="2620.4" y2="93.7" stroke="#ff6e6e" stroke-width="3.5"/>
<line x1="3044.8" y1="93.7" x2="3115" y2="93.7" stroke="#2e8b57" stroke-width="3.5"/>
<line x1="3243.4" y1="93.7" x2="3314.9" y2="93.7" stroke="#0000ff" stroke-width="8"/>
<line x1="3568.6" y1="93.7" x2="3640" y2="93.7" stroke="#cc7f1f" stroke-width="3.5" stroke-dasharray="9 7"/>
<text x="2626.2" y="108.3" font-family="Liberation Sans" font-weight="bold" font-size="44.00" fill="#000" textLength="395" lengthAdjust="spacingAndGlyphs">Contaminated EMG</text>
<text x="3118.6" y="108.3" font-family="Liberation Sans" font-weight="bold" font-size="44.00" fill="#000" textLength="97.2" lengthAdjust="spacingAndGlyphs">GSB</text>
<text x="3319.9" y="108.3" font-family="Liberation Sans" font-weight="bold" font-size="44.00" fill="#000" textLength="227" lengthAdjust="spacingAndGlyphs">Clean EMG</text>
<text x="3645.6" y="108.3" font-family="Liberation Sans" font-weight="bold" font-size="44.00" fill="#000" textLength="189.1" lengthAdjust="spacingAndGlyphs">SAG-RLS</text>
<rect x="2378.9" y="539.5" width="1585.1" height="288.9" fill="#fffdc4"/>
<clipPath id="cb"><rect x="2376.3" y="533.8" width="1590.7" height="294.6"/></clipPath>
<g clip-path="url(#cb)">
<path d="M2379.5,674.4 L2382.4,673.2 L2386.6,671.4 L2391.4,669.3 L2396.5,667.3 L2401.1,665.7 L2404.9,664.9 L2407.7,664.9 L2410,665.4 L2411.9,666.3 L2413.6,667.6 L2415.5,669.3 L2417.6,671.3 L2420.1,673.8 L2422.7,677.1 L2425.4,680.7 L2428.1,684.3 L2430.8,687.6 L2433.5,690.3 L2436.1,692 L2438,692.6 L2443,684.6 L2446,555.4 L2449,561.4 L2452,735.1 L2455,777.6 L2457,772.6 L2460,714.9 L2463.8,721.5 L2467.7,727.8 L2471.6,733.2 L2475.5,738.1 L2479.6,742.9 L2483.8,747.5 L2487.9,751.3 L2491.8,754 L2495.4,755.4 L2498.6,755.2 L2501.5,753.8 L2504.2,751.2 L2506.9,747.9 L2509.7,743.9 L2512.9,739.5 L2516.2,734.5 L2519.7,728.6 L2523.3,722.1 L2527,715.2 L2531,708.2 L2535.1,701.4 L2539.6,694.2 L2544.6,686.2 L2549.8,678.1 L2554.8,670.6 L2559.6,664.4 L2563.7,660.2 L2567,658.2 L2569.8,658 L2572.2,659.1 L2574.5,660.9 L2576.8,663 L2579.5,664.9 L2582.4,666.7 L2585.2,668.9 L2588.1,671.3 L2591.2,673.9 L2594.6,676.5 L2598.6,679.2 L2603.3,682.1 L2608.8,685.4 L2614.6,688.8 L2620.4,692 L2625.8,694.7 L2630.3,696.7 L2633.7,697.9 L2636.3,698.6 L2638.5,698.8 L2640.5,698.6 L2643,697.9 L2646.2,696.7 L2650.4,694.5 L2655.2,691.3 L2660.5,687.5 L2665.7,683.9 L2670.6,680.9 L2674.8,679.2 L2678.1,678.8 L2680.8,679.4 L2683.1,680.7 L2685.3,682.3 L2687.8,684 L2690.6,685.6 L2694.1,687.1 L2697.9,688.9 L2701.9,690.8 L2705.9,692.6 L2709.6,694.1 L2712.9,695.1 L2715.4,695.3 L2717.3,695 L2719,694.4 L2720.7,693.7 L2722.8,693.3 L2725.6,693.5 L2729,694.2 L2733,695.2 L2737.3,696.5 L2741.8,698 L2746.4,699.6 L2751,701.4 L2755.5,703.7 L2760.2,706.4 L2765,709.4 L2769.9,712.1 L2774.7,714.4 L2779.5,715.7 L2784.4,716.1 L2789,715.8 L2794,707.8 L2797,636.3 L2800,642.3 L2803,762.6 L2806,809.4 L2808,804.4 L2811,709.9 L2812.2,709.5 L2816,707.9 L2819.6,706.1 L2823.1,704 L2826.7,701.4 L2830.3,698.3 L2833.9,694.5 L2837.4,690.2 L2840.8,685.5 L2844.4,680.4 L2848.3,675.1 L2852.5,669.7 L2857.4,663.4 L2862.7,656 L2868.2,648.4 L2873.8,641.4 L2879.3,636 L2884.3,633.2 L2888.8,633.2 L2893.1,635.5 L2897.2,639.4 L2901.2,644.2 L2905.3,649.2 L2909.7,653.8 L2914.3,658.4 L2919.2,663.5 L2924.2,668.9 L2929.1,674.1 L2933.8,678.7 L2938.3,682.4 L2942.2,684.8 L2945.8,686.1 L2949.2,686.9 L2952.6,687.6 L2956.3,688.6 L2960.5,690.3 L2965.2,693.2 L2970.4,697 L2975.8,701 L2981.3,704.8 L2986.8,707.8 L2992.2,709.4 L2997.7,709.1 L3003.3,707.5 L3008.9,705.1 L3014.3,702.4 L3019.4,699.9 L3024,698.3 L3027.8,697.3 L3031,696.5 L3033.9,696.1 L3036.7,695.9 L3039.6,696.1 L3043,696.7 L3046.8,697.8 L3050.8,699.5 L3054.9,701.5 L3059.2,703.7 L3063.7,705.9 L3068.4,707.8 L3073.3,709.9 L3078.3,712.5 L3083.5,715.1 L3088.9,717.1 L3094.4,718 L3100.2,717.3 L3106.1,714.1 L3112.3,708.8 L3118.6,702.4 L3125.1,695.9 L3131.7,690.5 L3138.3,687.1 L3145,686.2 L3147,686.4 L3152,678.4 L3155,557.8 L3158,563.8 L3161,760.7 L3164,835 L3166,830 L3169,691.5 L3172.9,692.7 L3179.3,693.9 L3185.3,694.8 L3191,695.7 L3196.5,696.5 L3201.8,696.9 L3206.7,696.6 L3211.4,695.5 L3215.6,693.2 L3219.2,689.6 L3222.5,685.4 L3225.8,681.1 L3229.5,677.4 L3233.9,674.6 L3239,672.7 L3244.6,671.1 L3250.6,669.9 L3256.8,669.5 L3263.1,669.9 L3269.3,671.4 L3275.7,674.9 L3282.4,680.2 L3289.2,686.4 L3295.8,692.5 L3302.1,697.5 L3307.9,700.4 L3313,700.7 L3317.6,699.3 L3321.9,696.7 L3326,693.8 L3329.8,691 L3333.6,689.1 L3337.2,688.2 L3340.5,687.7 L3343.6,687.4 L3346.7,687.1 L3349.7,686.7 L3352.9,685.9 L3356,684.6 L3359.1,682.8 L3362.1,680.9 L3365.2,679 L3368.6,677.4 L3372.2,676.3 L3376.1,675.6 L3380.5,675.2 L3385,675 L3389.5,675.2 L3393.9,675.6 L3397.9,676.3 L3401.3,677.4 L3404.3,679.2 L3407.1,681.2 L3410,683.2 L3413.3,684.8 L3417.2,685.9 L3421.6,686.2 L3426.4,685.8 L3431.6,685.2 L3437.2,684.5 L3443,684.1 L3449.3,684.3 L3456.3,685.1 L3464.1,686.5 L3472.2,688.1 L3480.2,689.8 L3487.8,691.2 L3494.3,692.3 L3499,692.9 L3504,684.9 L3507,555.7 L3510,561.7 L3513,756.1 L3516,819.3 L3518,814.3 L3521,694 L3526,694.6 L3532.5,695.4 L3539.5,696.2 L3546.8,697.3 L3554.3,698.7 L3561.8,700.4 L3569.7,702.8 L3578,706.1 L3586.5,709.7 L3594.9,713 L3602.8,715.4 L3610,716.4 L3616.2,715.8 L3621.7,713.8 L3626.7,711 L3631.6,707.8 L3636.6,704.6 L3642.2,702 L3648.1,699.8 L3654.3,697.9 L3660.6,695.9 L3667.2,693.9 L3673.9,691.7 L3680.7,689.1 L3688.1,685.7 L3696,681.6 L3704,677.2 L3711.9,673.1 L3719.3,669.9 L3725.7,668.2 L3731.1,668.3 L3735.7,669.8 L3739.8,672.2 L3743.6,675 L3747.4,677.6 L3751.4,679.5 L3755.7,680.5 L3760,681.1 L3764.3,681.5 L3768.6,682 L3772.9,682.8 L3777.2,684.3 L3781.3,686.9 L3785.4,690.7 L3789.4,694.7 L3793.6,698.5 L3798,701.1 L3802.9,702 L3808.3,700.5 L3814.2,697.2 L3820.4,692.8 L3826.6,688.2 L3832.6,684 L3838.2,681.1 L3843.5,679.5 L3848.7,678.6 L3853.7,678.3 L3854,678.3 L3859,670.3 L3862,592.7 L3865,598.7 L3868,756.6 L3871,835 L3873,830 L3876,674.5 L3876.2,674.3 L3879,673.6 L3882.2,674.1 L3886.5,676.3 L3892,681 L3898.5,688.1 L3905.5,696.3 L3912.6,704.6 L3919.3,711.7 L3925,716.4 L3929.7,718.6 L3933.7,719.1 L3937.3,718.4 L3940.6,717.1 L3944,715.8 L3947.5,714.8 L3951.5,714.2 L3955.9,713.3 L3960.2,712.3 L3964.2,711.4 L3967.6,710.6 L3970,710" fill="none" stroke="#ff6a50" stroke-width="3.2" stroke-linejoin="round"/>
<path d="M2379.5,677.6 L2382.4,677 L2386.6,676.1 L2391.4,675 L2396.5,674 L2401.1,673.2 L2404.9,672.9 L2407.7,672.7 L2410,672.7 L2411.9,673 L2413.6,673.5 L2415.5,674.5 L2417.6,676 L2420.1,678.4 L2422.7,681.6 L2425.4,685.3 L2428.1,689 L2430.8,692.4 L2433.5,695.1 L2436.1,696.8 L2438,697.5 L2443,689.5 L2446,628.4 L2449,628.4 L2452,732.7 L2455,768 L2457,768 L2460,718.2 L2463.8,724.2 L2467.7,729.9 L2471.6,734.8 L2475.5,739.1 L2479.6,743.3 L2483.8,747.3 L2487.9,750.5 L2491.8,752.8 L2495.4,753.8 L2498.6,753.4 L2501.5,751.8 L2504.2,749.2 L2506.9,745.9 L2509.7,742.1 L2512.9,737.9 L2516.2,733.2 L2519.7,727.8 L2523.3,721.8 L2527,715.5 L2531,709.1 L2535.1,703 L2539.6,696.6 L2544.6,689.5 L2549.8,682.4 L2554.8,675.8 L2559.6,670.3 L2563.7,666.5 L2567,664.6 L2569.8,664.3 L2572.2,665 L2574.5,666.4 L2576.8,668.1 L2579.5,669.7 L2582.4,671.1 L2585.2,672.9 L2588.1,674.8 L2591.2,677.1 L2594.6,679.6 L2598.6,682.4 L2603.3,685.8 L2608.8,690 L2614.6,694.5 L2620.4,698.7 L2625.8,702.3 L2630.3,704.6 L2633.7,705.7 L2636.3,705.9 L2638.5,705.4 L2640.5,704.4 L2643,703 L2646.2,701.4 L2650.4,699.3 L2655.2,696.4 L2660.5,693.1 L2665.7,689.9 L2670.6,687.2 L2674.8,685.6 L2678.1,685 L2680.8,685.2 L2683.1,686 L2685.3,687 L2687.8,688 L2690.6,688.7 L2694,689.3 L2697.6,690 L2701.3,690.6 L2705.2,691.2 L2709.1,691.7 L2712.9,691.9 L2716.6,691.8 L2720.5,691.4 L2724.4,690.8 L2728.1,690.3 L2731.7,690.1 L2735.1,690.3 L2737.9,690.8 L2740.4,691.4 L2742.6,692.3 L2745,693.6 L2747.6,695.5 L2751,698.3 L2755,702.5 L2759.5,708.3 L2764.4,714.7 L2769.5,720.8 L2774.6,725.7 L2779.5,728.4 L2784.4,728.6 L2789,727 L2794,719 L2797,672.9 L2800,672.9 L2803,749.1 L2806,771.3 L2808,771.3 L2811,712.7 L2812.2,712.1 L2816,710.4 L2819.6,708.7 L2823.1,706.8 L2826.7,704.4 L2830.3,701.4 L2833.9,697.7 L2837.4,693.4 L2840.8,688.6 L2844.4,683.6 L2848.3,678.3 L2852.5,672.9 L2857.4,666.5 L2862.7,659 L2868.2,651.3 L2873.8,644.3 L2879.3,639 L2884.3,636.3 L2888.8,636.7 L2893.1,639.3 L2897.2,643.6 L2901.2,648.9 L2905.3,654.7 L2909.7,660.2 L2914.3,666 L2919.2,672.9 L2924.2,680.2 L2929.1,687.3 L2933.8,693.5 L2938.3,698.3 L2942.2,701.2 L2945.8,702.9 L2949.2,703.7 L2952.6,704.2 L2956.3,704.8 L2960.5,706.2 L2965.2,708.6 L2970.4,711.6 L2975.8,714.8 L2981.3,717.7 L2986.8,719.8 L2992.2,720.5 L2997.7,719.4 L3003.3,716.9 L3008.9,713.6 L3014.3,710.1 L3019.4,706.9 L3024,704.6 L3027.8,703.2 L3031,702.1 L3033.9,701.4 L3036.7,701.1 L3039.6,701.1 L3043,701.4 L3046.8,702.3 L3050.8,703.8 L3054.9,705.6 L3059.2,707.5 L3063.7,709.4 L3068.4,711 L3073.3,712.6 L3078.3,714.5 L3083.5,716.4 L3088.9,717.8 L3094.4,718.2 L3100.2,717.3 L3106,714.3 L3111.8,709.5 L3117.8,703.8 L3124.2,698 L3130.9,693.2 L3138.3,690.3 L3146.5,689.8 L3147,689.9 L3152,681.9 L3155,639 L3158,639 L3161,747.9 L3164,806 L3166,806 L3169,694.2 L3174.5,695.6 L3183.7,697.1 L3192.1,697.1 L3199.9,695.3 L3207.2,692.1 L3214.2,688.1 L3220.9,684.1 L3227.5,680.4 L3233.9,677.9 L3240.3,676.1 L3246.7,674.6 L3252.8,673.6 L3258.7,673.2 L3264.2,673.5 L3269.3,674.6 L3273.9,677.1 L3278,681 L3281.7,685.5 L3285.2,690.1 L3288.6,694.2 L3291.8,697.1 L3294.7,699 L3297.3,700.2 L3299.6,700.9 L3302,701.1 L3304.7,700.9 L3307.9,700.4 L3311.4,699.3 L3315.2,697.7 L3319.3,695.6 L3323.7,693.4 L3328.4,691.2 L3333.6,689.1 L3339.5,687 L3346.2,684.7 L3353.3,682.4 L3360.2,680.3 L3366.7,678.7 L3372.2,677.9 L3376.2,677.9 L3379.2,678.8 L3381.6,680.2 L3384.1,681.7 L3387.1,683.2 L3391.4,684.3 L3397.1,684.8 L3403.8,684.8 L3411.1,684.7 L3418.7,684.9 L3426.2,685.7 L3433.2,687.5 L3440,690.9 L3446.9,695.6 L3453.7,701 L3460.2,706.2 L3466.3,710.5 L3471.8,713.2 L3476.6,714.1 L3480.8,713.7 L3484.7,712.4 L3488.1,710.6 L3491.3,708.6 L3494.3,706.8 L3496.9,704.7 L3498.9,702 L3499,701.9 L3504,693.9 L3507,631.3 L3510,631.3 L3513,749.4 L3516,796.8 L3518,796.8 L3521,702.9 L3521.1,703 L3525.2,705.5 L3529.7,706.8 L3534.3,706.7 L3539.1,705.6 L3544.1,704 L3549.5,702.3 L3555.4,700.9 L3561.8,700.4 L3569.1,700.8 L3577.3,702 L3585.9,703.6 L3594.5,705.1 L3602.7,706.3 L3610,706.8 L3616.2,706.5 L3621.7,705.7 L3626.7,704.5 L3631.6,703.1 L3636.6,701.7 L3642.2,700.4 L3648.1,699.2 L3654.3,698.2 L3660.6,697 L3667.2,695.8 L3673.9,694.2 L3680.7,692.3 L3688.1,689.7 L3696,686.3 L3704,682.6 L3711.9,679.1 L3719.3,676.3 L3725.7,674.6 L3731.1,674.4 L3735.7,675.1 L3739.8,676.6 L3743.6,678.3 L3747.4,679.9 L3751.4,681.1 L3755.7,681.6 L3760,681.9 L3764.3,682 L3768.6,682.3 L3772.9,683 L3777.2,684.3 L3781.3,686.7 L3785.4,690 L3789.4,693.7 L3793.6,697.3 L3798,700.3 L3802.9,702 L3808.5,702.3 L3814.8,701.8 L3821.4,700.6 L3827.8,698.9 L3833.5,697.2 L3838.2,695.5 L3841.6,693.7 L3844.1,691.3 L3845.9,688.7 L3847.4,686.4 L3849,684.8 L3851.1,684.3 L3853.6,685.4 L3854,685.9 L3859,677.9 L3862,628 L3865,628 L3868,704.4 L3871,722.9 L3873,722.9 L3876,683.7 L3878.5,679.4 L3882.1,675.6 L3886.5,674.6 L3892,677.2 L3898.5,682.6 L3905.5,689.4 L3912.6,696.6 L3919.3,702.8 L3925,706.8 L3929.7,708.4 L3933.7,708.4 L3937.3,707.5 L3940.6,706.3 L3944,705.3 L3947.5,705.2 L3951.5,706.1 L3955.9,707.4 L3960.2,709.1 L3964.2,710.8 L3967.6,712.2 L3970,713.2" fill="none" stroke="#2e8b57" stroke-width="3.6" stroke-linejoin="round"/>
<path d="M2379.5,674.4 L2382.4,673.2 L2386.6,671.4 L2391.4,669.3 L2396.5,667.3 L2401.1,665.7 L2404.9,664.9 L2407.7,664.9 L2410,665.4 L2411.9,666.3 L2413.6,667.6 L2415.5,669.3 L2417.6,671.3 L2420.1,673.8 L2422.7,677.1 L2425.4,680.7 L2428.1,684.3 L2430.8,687.6 L2433.5,690.3 L2436.1,692 L2438.5,692.8 L2441,693.3 L2443.6,694 L2446.4,695.5 L2449.4,698.3 L2452.7,702.7 L2456.2,708.4 L2460,714.8 L2463.8,721.5 L2467.7,727.8 L2471.6,733.2 L2475.5,738.1 L2479.6,742.9 L2483.8,747.5 L2487.9,751.3 L2491.8,754 L2495.4,755.4 L2498.6,755.2 L2501.5,753.8 L2504.2,751.2 L2506.9,747.9 L2509.7,743.9 L2512.9,739.5 L2516.2,734.5 L2519.7,728.6 L2523.3,722.1 L2527,715.2 L2531,708.2 L2535.1,701.4 L2539.6,694.2 L2544.6,686.2 L2549.8,678.1 L2554.8,670.6 L2559.6,664.4 L2563.7,660.2 L2567,658.2 L2569.8,658 L2572.2,659.1 L2574.5,660.9 L2576.8,663 L2579.5,664.9 L2582.4,666.7 L2585.2,668.9 L2588.1,671.3 L2591.2,673.9 L2594.6,676.5 L2598.6,679.2 L2603.3,682.1 L2608.8,685.4 L2614.6,688.8 L2620.4,692 L2625.8,694.7 L2630.3,696.7 L2633.7,697.9 L2636.3,698.6 L2638.5,698.8 L2640.5,698.6 L2643,697.9 L2646.2,696.7 L2650.4,694.5 L2655.2,691.3 L2660.5,687.5 L2665.7,683.9 L2670.6,680.9 L2674.8,679.2 L2678.1,678.8 L2680.8,679.4 L2683.1,680.7 L2685.3,682.3 L2687.8,684 L2690.6,685.6 L2694.1,687.1 L2697.9,688.9 L2701.9,690.8 L2705.9,692.6 L2709.6,694.1 L2712.9,695.1 L2715.4,695.3 L2717.3,695 L2719,694.4 L2720.7,693.7 L2722.8,693.3 L2725.6,693.5 L2729,694.2 L2733,695.2 L2737.3,696.5 L2741.8,698 L2746.4,699.6 L2751,701.4 L2755.5,703.7 L2760.2,706.4 L2765,709.4 L2769.9,712.1 L2774.7,714.4 L2779.5,715.7 L2784.4,716.1 L2789.3,715.8 L2794.2,715 L2799,713.8 L2803.7,712.4 L2808.1,711 L2812.2,709.5 L2816,707.9 L2819.6,706.1 L2823.1,704 L2826.7,701.4 L2830.3,698.3 L2833.9,694.5 L2837.4,690.2 L2840.8,685.5 L2844.4,680.4 L2848.3,675.1 L2852.5,669.7 L2857.4,663.4 L2862.7,656 L2868.2,648.4 L2873.8,641.4 L2879.3,636 L2884.3,633.2 L2888.8,633.2 L2893.1,635.5 L2897.2,639.4 L2901.2,644.2 L2905.3,649.2 L2909.7,653.8 L2914.3,658.4 L2919.2,663.5 L2924.2,668.9 L2929.1,674.1 L2933.8,678.7 L2938.3,682.4 L2942.2,684.8 L2945.8,686.1 L2949.2,686.9 L2952.6,687.6 L2956.3,688.6 L2960.5,690.3 L2965.2,693.2 L2970.4,697 L2975.8,701 L2981.3,704.8 L2986.8,707.8 L2992.2,709.4 L2997.7,709.1 L3003.3,707.5 L3008.9,705.1 L3014.3,702.4 L3019.4,699.9 L3024,698.3 L3027.8,697.3 L3031,696.5 L3033.9,696.1 L3036.7,695.9 L3039.6,696.1 L3043,696.7 L3046.8,697.8 L3050.8,699.5 L3054.9,701.5 L3059.2,703.7 L3063.7,705.9 L3068.4,707.8 L3073.3,709.9 L3078.3,712.5 L3083.5,715.1 L3088.9,717.1 L3094.4,718 L3100.2,717.3 L3106.1,714.1 L3112.3,708.8 L3118.6,702.4 L3125.1,695.9 L3131.7,690.5 L3138.3,687.1 L3145,686.2 L3152,686.9 L3159.1,688.6 L3166.2,690.7 L3172.9,692.7 L3179.3,693.9 L3185.3,694.8 L3191,695.7 L3196.5,696.5 L3201.8,696.9 L3206.7,696.6 L3211.4,695.5 L3215.6,693.2 L3219.2,689.6 L3222.5,685.4 L3225.8,681.1 L3229.5,677.4 L3233.9,674.6 L3239,672.7 L3244.6,671.1 L3250.6,669.9 L3256.8,669.5 L3263.1,669.9 L3269.3,671.4 L3275.7,674.9 L3282.4,680.2 L3289.2,686.4 L3295.8,692.5 L3302.1,697.5 L3307.9,700.4 L3313,700.7 L3317.6,699.3 L3321.9,696.7 L3326,693.8 L3329.8,691 L3333.6,689.1 L3337.2,688.2 L3340.5,687.7 L3343.6,687.4 L3346.7,687.1 L3349.7,686.7 L3352.9,685.9 L3356,684.6 L3359.1,682.8 L3362.1,680.9 L3365.2,679 L3368.6,677.4 L3372.2,676.3 L3376.1,675.6 L3380.5,675.2 L3385,675 L3389.5,675.2 L3393.9,675.6 L3397.9,676.3 L3401.3,677.4 L3404.3,679.2 L3407.1,681.2 L3410,683.2 L3413.3,684.8 L3417.2,685.9 L3421.6,686.2 L3426.4,685.8 L3431.6,685.2 L3437.2,684.5 L3443,684.1 L3449.3,684.3 L3456.3,685.1 L3464.1,686.5 L3472.2,688.1 L3480.2,689.8 L3487.8,691.2 L3494.3,692.3 L3499.5,692.9 L3503.7,693.2 L3507.4,693.2 L3511,693.3 L3515,693.5 L3520,693.9 L3526,694.6 L3532.5,695.4 L3539.5,696.2 L3546.8,697.3 L3554.3,698.7 L3561.8,700.4 L3569.7,702.8 L3578,706.1 L3586.5,709.7 L3594.9,713 L3602.8,715.4 L3610,716.4 L3616.2,715.8 L3621.7,713.8 L3626.7,711 L3631.6,707.8 L3636.6,704.6 L3642.2,702 L3648.1,699.8 L3654.3,697.9 L3660.6,695.9 L3667.2,693.9 L3673.9,691.7 L3680.7,689.1 L3688.1,685.7 L3696,681.6 L3704,677.2 L3711.9,673.1 L3719.3,669.9 L3725.7,668.2 L3731.1,668.3 L3735.7,669.8 L3739.8,672.2 L3743.6,675 L3747.4,677.6 L3751.4,679.5 L3755.7,680.5 L3760,681.1 L3764.3,681.5 L3768.6,682 L3772.9,682.8 L3777.2,684.3 L3781.3,686.9 L3785.4,690.7 L3789.4,694.7 L3793.6,698.5 L3798,701.1 L3802.9,702 L3808.3,700.5 L3814.2,697.2 L3820.4,692.8 L3826.6,688.2 L3832.6,684 L3838.2,681.1 L3843.5,679.5 L3848.7,678.6 L3853.7,678.3 L3858.5,678.2 L3863,678.1 L3867.2,677.9 L3870.7,677 L3873.6,675.7 L3876.2,674.3 L3879,673.6 L3882.2,674.1 L3886.5,676.3 L3892,681 L3898.5,688.1 L3905.5,696.3 L3912.6,704.6 L3919.3,711.7 L3925,716.4 L3929.7,718.6 L3933.7,719.1 L3937.3,718.4 L3940.6,717.1 L3944,715.8 L3947.5,714.8 L3951.5,714.2 L3955.9,713.3 L3960.2,712.3 L3964.2,711.4 L3967.6,710.6 L3970,710" fill="none" stroke="#0000ff" stroke-width="8" stroke-linejoin="round"/>
<path d="M2379.5,674.4 L2382.4,673.2 L2386.6,671.4 L2391.4,669.3 L2396.5,667.3 L2401.1,665.7 L2404.9,664.9 L2407.7,664.9 L2410,665.4 L2411.9,666.3 L2413.6,667.6 L2415.5,669.3 L2417.6,671.3 L2420.1,673.8 L2422.7,677.1 L2425.4,680.7 L2428.1,684.3 L2430.8,687.6 L2433.5,690.3 L2436.1,692 L2438.5,692.8 L2441,693.3 L2443.6,694 L2446.4,695.5 L2449.4,698.3 L2452.7,702.7 L2456.2,708.4 L2460,714.8 L2463.8,721.5 L2467.7,727.8 L2471.6,733.2 L2475.5,738.1 L2479.6,742.9 L2483.8,747.5 L2487.9,751.3 L2491.8,754 L2495.4,755.4 L2498.6,755.2 L2501.5,753.8 L2504.2,751.2 L2506.9,747.9 L2509.7,743.9 L2512.9,739.5 L2516.2,734.5 L2519.7,728.6 L2523.3,722.1 L2527,715.2 L2531,708.2 L2535.1,701.4 L2539.6,694.2 L2544.6,686.2 L2549.8,678.1 L2554.8,670.6 L2559.6,664.4 L2563.7,660.2 L2567,658.2 L2569.8,658 L2572.2,659.1 L2574.5,660.9 L2576.8,663 L2579.5,664.9 L2582.4,666.7 L2585.2,668.9 L2588.1,671.3 L2591.2,673.9 L2594.6,676.5 L2598.6,679.2 L2603.3,682.1 L2608.8,685.4 L2614.6,688.8 L2620.4,692 L2625.8,694.7 L2630.3,696.7 L2633.7,697.9 L2636.3,698.6 L2638.5,698.8 L2640.5,698.6 L2643,697.9 L2646.2,696.7 L2650.4,694.5 L2655.2,691.3 L2660.5,687.5 L2665.7,683.9 L2670.6,680.9 L2674.8,679.2 L2678.1,678.8 L2680.8,679.4 L2683.1,680.7 L2685.3,682.3 L2687.8,684 L2690.6,685.6 L2694.1,687.1 L2697.9,688.9 L2701.9,690.8 L2705.9,692.6 L2709.6,694.1 L2712.9,695.1 L2715.4,695.3 L2717.3,695 L2719,694.4 L2720.7,693.7 L2722.8,693.3 L2725.6,693.5 L2729,694.2 L2733,695.2 L2737.3,696.5 L2741.8,698 L2746.4,699.6 L2751,701.4 L2755.5,703.7 L2760.2,706.4 L2765,709.4 L2769.9,712.1 L2774.7,714.4 L2779.5,715.7 L2784.4,716.1 L2789.3,715.8 L2794.2,715 L2799,713.8 L2803.7,712.4 L2808.1,711 L2812.2,709.5 L2816,707.9 L2819.6,706.1 L2823.1,704 L2826.7,701.4 L2830.3,698.3 L2833.9,694.5 L2837.4,690.2 L2840.8,685.5 L2844.4,680.4 L2848.3,675.1 L2852.5,669.7 L2857.4,663.4 L2862.7,656 L2868.2,648.4 L2873.8,641.4 L2879.3,636 L2884.3,633.2 L2888.8,633.2 L2893.1,635.5 L2897.2,639.4 L2901.2,644.2 L2905.3,649.2 L2909.7,653.8 L2914.3,658.4 L2919.2,663.5 L2924.2,668.9 L2929.1,674.1 L2933.8,678.7 L2938.3,682.4 L2942.2,684.8 L2945.8,686.1 L2949.2,686.9 L2952.6,687.6 L2956.3,688.6 L2960.5,690.3 L2965.2,693.2 L2970.4,697 L2975.8,701 L2981.3,704.8 L2986.8,707.8 L2992.2,709.4 L2997.7,709.1 L3003.3,707.5 L3008.9,705.1 L3014.3,702.4 L3019.4,699.9 L3024,698.3 L3027.8,697.3 L3031,696.5 L3033.9,696.1 L3036.7,695.9 L3039.6,696.1 L3043,696.7 L3046.8,697.8 L3050.8,699.5 L3054.9,701.5 L3059.2,703.7 L3063.7,705.9 L3068.4,707.8 L3073.3,709.9 L3078.3,712.5 L3083.5,715.1 L3088.9,717.1 L3094.4,718 L3100.2,717.3 L3106.1,714.1 L3112.3,708.8 L3118.6,702.4 L3125.1,695.9 L3131.7,690.5 L3138.3,687.1 L3145,686.2 L3152,686.9 L3159.1,688.6 L3166.2,690.7 L3172.9,692.7 L3179.3,693.9 L3185.3,694.8 L3191,695.7 L3196.5,696.5 L3201.8,696.9 L3206.7,696.6 L3211.4,695.5 L3215.6,693.2 L3219.2,689.6 L3222.5,685.4 L3225.8,681.1 L3229.5,677.4 L3233.9,674.6 L3239,672.7 L3244.6,671.1 L3250.6,669.9 L3256.8,669.5 L3263.1,669.9 L3269.3,671.4 L3275.7,674.9 L3282.4,680.2 L3289.2,686.4 L3295.8,692.5 L3302.1,697.5 L3307.9,700.4 L3313,700.7 L3317.6,699.3 L3321.9,696.7 L3326,693.8 L3329.8,691 L3333.6,689.1 L3337.2,688.2 L3340.5,687.7 L3343.6,687.4 L3346.7,687.1 L3349.7,686.7 L3352.9,685.9 L3356,684.6 L3359.1,682.8 L3362.1,680.9 L3365.2,679 L3368.6,677.4 L3372.2,676.3 L3376.1,675.6 L3380.5,675.2 L3385,675 L3389.5,675.2 L3393.9,675.6 L3397.9,676.3 L3401.3,677.4 L3404.3,679.2 L3407.1,681.2 L3410,683.2 L3413.3,684.8 L3417.2,685.9 L3421.6,686.2 L3426.4,685.8 L3431.6,685.2 L3437.2,684.5 L3443,684.1 L3449.3,684.3 L3456.3,685.1 L3464.1,686.5 L3472.2,688.1 L3480.2,689.8 L3487.8,691.2 L3494.3,692.3 L3499.5,692.9 L3503.7,693.2 L3507.4,693.2 L3511,693.3 L3515,693.5 L3520,693.9 L3526,694.6 L3532.5,695.4 L3539.5,696.2 L3546.8,697.3 L3554.3,698.7 L3561.8,700.4 L3569.7,702.8 L3578,706.1 L3586.5,709.7 L3594.9,713 L3602.8,715.4 L3610,716.4 L3616.2,715.8 L3621.7,713.8 L3626.7,711 L3631.6,707.8 L3636.6,704.6 L3642.2,702 L3648.1,699.8 L3654.3,697.9 L3660.6,695.9 L3667.2,693.9 L3673.9,691.7 L3680.7,689.1 L3688.1,685.7 L3696,681.6 L3704,677.2 L3711.9,673.1 L3719.3,669.9 L3725.7,668.2 L3731.1,668.3 L3735.7,669.8 L3739.8,672.2 L3743.6,675 L3747.4,677.6 L3751.4,679.5 L3755.7,680.5 L3760,681.1 L3764.3,681.5 L3768.6,682 L3772.9,682.8 L3777.2,684.3 L3781.3,686.9 L3785.4,690.7 L3789.4,694.7 L3793.6,698.5 L3798,701.1 L3802.9,702 L3808.3,700.5 L3814.2,697.2 L3820.4,692.8 L3826.6,688.2 L3832.6,684 L3838.2,681.1 L3843.5,679.5 L3848.7,678.6 L3853.7,678.3 L3858.5,678.2 L3863,678.1 L3867.2,677.9 L3870.7,677 L3873.6,675.7 L3876.2,674.3 L3879,673.6 L3882.2,674.1 L3886.5,676.3 L3892,681 L3898.5,688.1 L3905.5,696.3 L3912.6,704.6 L3919.3,711.7 L3925,716.4 L3929.7,718.6 L3933.7,719.1 L3937.3,718.4 L3940.6,717.1 L3944,715.8 L3947.5,714.8 L3951.5,714.2 L3955.9,713.3 L3960.2,712.3 L3964.2,711.4 L3967.6,710.6 L3970,710" fill="none" stroke="#cc7f1f" stroke-width="3.6" stroke-dasharray="8 6" stroke-linejoin="round"/>
</g>
<path d="M2376.3,533.8 V828.4 H3964" fill="none" stroke="#262626" stroke-width="3.8"/>
<line x1="2376.3" y1="599.8" x2="2395.3" y2="599.8" stroke="#262626" stroke-width="3.6"/>
<text x="2324.3" y="612.8" font-family="Liberation Sans" font-weight="bold" font-size="37.00" fill="#262626">1</text>
<line x1="2376.3" y1="691" x2="2395.3" y2="691" stroke="#262626" stroke-width="3.6"/>
<text x="2324.7" y="704" font-family="Liberation Sans" font-weight="bold" font-size="37.00" fill="#262626">0</text>
<line x1="2376.3" y1="781.7" x2="2395.3" y2="781.7" stroke="#262626" stroke-width="3.6"/>
<text x="2311.9" y="794.7" font-family="Liberation Sans" font-weight="bold" font-size="37.00" fill="#262626">-1</text>
<line x1="3442" y1="828.4" x2="3442" y2="819.4" stroke="#262626" stroke-width="3.4"/>
<text x="2342.3" y="862.7" font-family="Liberation Sans" font-weight="bold" font-size="37.60" fill="#262626" textLength="69.8" lengthAdjust="spacingAndGlyphs">9.0</text>
<text x="3406.9" y="862.7" font-family="Liberation Sans" font-weight="bold" font-size="37.60" fill="#262626" textLength="69.8" lengthAdjust="spacingAndGlyphs">9.1</text>
<text x="2548.9" y="589.5" font-family="Liberation Sans" font-weight="bold" font-size="38.00" fill="#262626" textLength="208.2" lengthAdjust="spacingAndGlyphs">Amplitude</text>
<text x="2191.4" y="535" font-family="Liberation Sans" font-weight="bold" font-size="57.00" fill="#000">(b)</text>
<rect x="2379.5" y="948.9" width="1586.1" height="273.9" fill="#fffdc4"/>
<clipPath id="cc"><rect x="2378" y="944" width="1590.6" height="280"/></clipPath>
<g clip-path="url(#cc)">
<path d="M2379.5,1057.7 L2381.8,1058 L2384.8,1058 L2388.3,1058.2 L2392.4,1059.1 L2396.9,1061.2 L2401.8,1065.1 L2407.2,1071.8 L2413.3,1081 L2419.8,1091.4 L2426.4,1101.8 L2432.9,1110.7 L2438.8,1116.9 L2444.1,1120.3 L2449.2,1121.7 L2454.1,1121.7 L2458.8,1120.8 L2463.5,1119.6 L2468.4,1118.4 L2473.3,1117.2 L2478,1115.5 L2482.7,1113.4 L2487.6,1111 L2492.7,1108.4 L2498,1105.8 L2503.8,1102.8 L2510.1,1099.3 L2516.5,1095.6 L2518.6,1094.4 L2523.6,1086.4 L2526.6,998.5 L2529.6,1004.5 L2532.6,1162.2 L2535.6,1230 L2537.6,1225 L2540.6,1087.1 L2544.6,1088 L2548.9,1089.6 L2553.4,1091.1 L2558.5,1091.8 L2564.7,1091 L2572,1088 L2580.3,1083 L2589.2,1077.3 L2598.4,1071.9 L2607.6,1068 L2616.5,1066.6 L2625.2,1069 L2634,1074.4 L2642.9,1081.4 L2651.6,1088.1 L2660.1,1093.1 L2668.3,1094.7 L2676.3,1091.9 L2684.2,1085.8 L2691.9,1077.9 L2699.3,1069.8 L2706.3,1063 L2712.8,1059.2 L2718.2,1058.2 L2722.6,1058.9 L2726.6,1060.9 L2730.9,1064 L2735.9,1067.9 L2742.4,1072.5 L2750.5,1079 L2759.9,1087.9 L2770.1,1097.7 L2780.8,1106.7 L2791.4,1113.7 L2801.6,1116.9 L2811.7,1115.6 L2822.2,1110.5 L2832.6,1103.3 L2842.7,1095.4 L2852.3,1088.4 L2860.8,1083.6 L2868,1081.3 L2874,1080.3 L2874.1,1080.3 L2879.1,1072.3 L2882.1,983.7 L2885.1,989.7 L2888.1,1155.1 L2891.1,1230 L2893.1,1225 L2896.1,1080 L2897.9,1079.9 L2906.6,1078.8 L2916.5,1077.1 L2927,1075.4 L2937.6,1074.1 L2947.8,1073.5 L2957.1,1074 L2965.3,1076 L2972.7,1079.3 L2979.8,1083.3 L2986.7,1087.6 L2993.9,1091.5 L3001.5,1094.7 L3009.7,1097.8 L3018.3,1101.3 L3027,1104.6 L3035.8,1106.9 L3044.6,1107.5 L3053.4,1105.8 L3062.2,1100.7 L3071.2,1092.5 L3080.2,1082.6 L3089,1072.5 L3097.4,1063.8 L3105.2,1057.7 L3112.1,1054.2 L3118.1,1052 L3123.7,1051.1 L3129.3,1051.5 L3135.4,1052.9 L3142.2,1055.5 L3150,1059.9 L3158.4,1066.3 L3167.2,1073.8 L3176.2,1081.7 L3185.2,1088.9 L3194.1,1094.7 L3202.7,1099.6 L3211.3,1104.2 L3220,1108.3 L3225.8,1110.4 L3230.8,1102.4 L3233.8,972.6 L3236.8,978.6 L3239.8,1170.2 L3242.8,1230 L3244.8,1225 L3247.8,1112.7 L3254.7,1110.6 L3263.7,1105.4 L3272.7,1098.9 L3281.5,1092.3 L3289.9,1086.8 L3297.7,1083.6 L3304.3,1083.4 L3309.8,1085.1 L3314.8,1088 L3320.2,1091.2 L3326.6,1093.7 L3334.7,1094.7 L3345.3,1094.1 L3357.8,1092.5 L3371.3,1090.2 L3384.9,1087.7 L3397.7,1085.4 L3408.8,1083.6 L3417.5,1081.9 L3424.4,1079.9 L3430.5,1078 L3436.8,1076.8 L3444,1076.8 L3453.2,1078.4 L3465.1,1083.1 L3479,1090.5 L3493.9,1099.1 L3508.9,1107.2 L3522.8,1113.2 L3534.7,1115.5 L3544,1112.7 L3551.7,1106 L3558.3,1097.2 L3564.6,1088.1 L3571.3,1080.5 L3579.1,1076.2 L3581.2,1076.1 L3586.2,1068.1 L3589.2,974.8 L3592.2,980.8 L3595.2,1126.2 L3598.2,1176.2 L3600.2,1171.2 L3603.2,1078.8 L3610.1,1080.9 L3620.8,1084.9 L3630.4,1088.6 L3638.3,1091 L3644,1092.9 L3647.9,1095 L3650.8,1096.8 L3653.4,1097.8 L3656.4,1097.2 L3660.6,1094.7 L3665.8,1089 L3671.5,1080.3 L3677.7,1070.2 L3684.1,1060.2 L3690.8,1051.8 L3697.6,1046.6 L3704.6,1044.6 L3711.8,1044.4 L3719.3,1045.9 L3726.9,1048.8 L3734.5,1052.8 L3742,1057.7 L3749.5,1064.7 L3757.1,1074.2 L3764.7,1084.8 L3772.2,1095.1 L3779.5,1103.9 L3786.4,1109.5 L3792.8,1112 L3798.5,1112.1 L3804,1110.7 L3809.7,1108.2 L3816.1,1105.1 L3823.5,1102.1 L3832.2,1098.2 L3842.1,1092.8 L3852.6,1086.9 L3863.2,1081.4 L3873.4,1077.5 L3882.7,1076.2 L3891,1078.3 L3898.6,1083.1 L3905.8,1089.4 L3912.9,1096.1 L3919.9,1102 L3927.1,1105.8 L3935,1107.6 L3940.3,1107.9 L3945.3,1099.9 L3948.3,1024.4 L3951.3,1030.4 L3954.3,1168.9 L3957.3,1230 L3959.3,1225 L3962.3,1106.7 L3966.7,1106.2 L3971.5,1105.8" fill="none" stroke="#ff6a50" stroke-width="3.2" stroke-linejoin="round"/>
<path d="M2379.5,1057.7 L2381.8,1058.4 L2384.8,1059.1 L2388.3,1060 L2392.4,1061.7 L2396.9,1064.5 L2401.8,1068.8 L2407.2,1075.7 L2413.3,1084.9 L2419.8,1095.2 L2426.4,1105.4 L2432.9,1114.3 L2438.8,1120.7 L2444.1,1124.3 L2449.2,1126.1 L2454.1,1126.7 L2458.8,1126.3 L2463.5,1125.4 L2468.4,1124.4 L2473.3,1123 L2478,1120.9 L2482.7,1118.3 L2487.6,1115.4 L2492.7,1112.4 L2498,1109.5 L2503.8,1106.3 L2510.1,1102.6 L2516.5,1098.7 L2518.6,1097.5 L2523.6,1089.5 L2526.6,1013 L2529.6,1013 L2532.6,1133.2 L2535.6,1168.8 L2537.6,1168.8 L2540.6,1091.7 L2544.6,1093.6 L2548.9,1096.6 L2553.4,1099.5 L2558.5,1101.7 L2564.7,1102.1 L2572,1100.5 L2580.3,1097.3 L2589.2,1093.3 L2598.4,1089.3 L2607.6,1085.8 L2616.5,1083.6 L2625.2,1083.3 L2634,1084.3 L2642.9,1085.9 L2651.6,1087.5 L2660.1,1088.2 L2668.3,1087.3 L2676.3,1084.2 L2684.2,1079.2 L2691.9,1073.4 L2699.3,1067.9 L2706.3,1063.5 L2712.8,1061.4 L2718.2,1061.7 L2722.6,1063.5 L2726.6,1066.5 L2730.9,1070.5 L2735.9,1075 L2742.4,1079.9 L2750.5,1086.3 L2759.9,1094.6 L2770.1,1103.5 L2780.8,1111.7 L2791.4,1117.9 L2801.6,1120.7 L2811.7,1119 L2822.2,1113.9 L2832.6,1106.8 L2842.7,1099 L2852.3,1092 L2860.8,1087.3 L2868,1085 L2874,1083.9 L2874.1,1083.9 L2879.1,1075.9 L2882.1,1072.5 L2885.1,1072.5 L2888.1,1139.3 L2891.1,1194.7 L2893.1,1194.7 L2896.1,1083.7 L2897.9,1083.6 L2906.6,1082.8 L2916.5,1081.6 L2927,1080.4 L2937.6,1079.5 L2947.8,1079.3 L2957.1,1079.9 L2965.3,1081.8 L2972.7,1084.7 L2979.8,1088.3 L2986.7,1092 L2993.9,1095.5 L3001.5,1098.4 L3009.7,1101.4 L3018.3,1104.9 L3027,1108.2 L3035.8,1110.5 L3044.6,1111.2 L3053.4,1109.5 L3062.2,1104.4 L3071.2,1096.2 L3080.2,1086.4 L3089,1076.4 L3097.4,1067.6 L3105.2,1061.4 L3112.1,1057.7 L3118.1,1055.2 L3123.7,1054 L3129.3,1054 L3135.4,1055.2 L3142.2,1057.7 L3150,1062.3 L3158.4,1069.2 L3167.2,1077.4 L3176.2,1085.7 L3185.2,1093.1 L3194.1,1098.4 L3202.7,1101.7 L3211.3,1103.8 L3220,1104.9 L3225.8,1105.3 L3230.8,1097.3 L3233.8,1028 L3236.8,1028 L3239.8,1144.4 L3242.8,1183.6 L3244.8,1183.6 L3247.8,1105.8 L3254.7,1105.8 L3263.7,1105.2 L3272.7,1104.2 L3281.5,1103.2 L3289.9,1102.5 L3297.7,1102.1 L3304.3,1102.5 L3309.8,1103.5 L3314.8,1104.7 L3320.2,1105.7 L3326.6,1106.2 L3334.7,1105.8 L3345.3,1104.3 L3357.8,1101.9 L3371.3,1098.9 L3384.9,1095.8 L3397.7,1093.1 L3408.8,1091 L3417.5,1089.4 L3424.4,1087.7 L3430.5,1086.4 L3436.8,1085.7 L3444,1085.9 L3453.2,1087.3 L3465.1,1091.1 L3479,1097.2 L3493.9,1104.2 L3508.9,1110.8 L3522.8,1115.5 L3534.7,1116.9 L3544,1114 L3551.7,1107.6 L3558.3,1099.4 L3564.6,1090.9 L3571.3,1083.9 L3579.1,1079.9 L3581.2,1079.9 L3586.2,1071.9 L3589.2,1031.8 L3592.2,1031.8 L3595.2,1102.1 L3598.2,1124.4 L3600.2,1124.4 L3603.2,1083 L3610.1,1085.2 L3620.8,1089.3 L3630.4,1092.7 L3638.3,1094.7 L3644,1095.5 L3647.9,1095.8 L3650.8,1095.7 L3653.4,1094.9 L3656.4,1093.4 L3660.6,1091 L3665.8,1087.2 L3671.5,1081.8 L3677.7,1075.8 L3684.1,1069.8 L3690.8,1064.7 L3697.6,1061.4 L3704.6,1059.7 L3711.8,1058.9 L3719.3,1059.1 L3726.9,1060.2 L3734.5,1062.2 L3742,1065.1 L3749.5,1069.7 L3757.1,1076.2 L3764.7,1083.6 L3772.2,1091 L3779.5,1097.5 L3786.4,1102.1 L3792.8,1104.9 L3798.5,1106.4 L3804,1107 L3809.7,1106.9 L3816.1,1106.5 L3823.5,1105.8 L3832.2,1104.6 L3842.1,1102.6 L3852.6,1100.1 L3863.2,1097.6 L3873.4,1095.7 L3882.7,1094.7 L3891,1095 L3898.6,1096.2 L3905.8,1098 L3912.9,1099.8 L3919.9,1101.3 L3927.1,1102.1 L3935,1102.1 L3940.3,1101.8 L3945.3,1093.8 L3948.3,1083.6 L3951.3,1083.6 L3954.3,1142.7 L3957.3,1183.6 L3959.3,1183.6 L3962.3,1099.5 L3966.7,1099 L3971.5,1098.4" fill="none" stroke="#2e8b57" stroke-width="3.6" stroke-linejoin="round"/>
<path d="M2379.5,1057.7 L2381.8,1058 L2384.8,1058 L2388.3,1058.2 L2392.4,1059.1 L2396.9,1061.2 L2401.8,1065.1 L2407.2,1071.8 L2413.3,1081 L2419.8,1091.4 L2426.4,1101.8 L2432.9,1110.7 L2438.8,1116.9 L2444.1,1120.3 L2449.2,1121.7 L2454.1,1121.7 L2458.8,1120.8 L2463.5,1119.6 L2468.4,1118.4 L2473.3,1117.2 L2478,1115.5 L2482.7,1113.4 L2487.6,1111 L2492.7,1108.4 L2498,1105.8 L2503.8,1102.8 L2510.1,1099.3 L2516.5,1095.6 L2523,1092.1 L2529.2,1089.2 L2535,1087.3 L2540.2,1087 L2544.6,1088 L2548.9,1089.6 L2553.4,1091.1 L2558.5,1091.8 L2564.7,1091 L2572,1088 L2580.3,1083 L2589.2,1077.3 L2598.4,1071.9 L2607.6,1068 L2616.5,1066.6 L2625.2,1069 L2634,1074.4 L2642.9,1081.4 L2651.6,1088.1 L2660.1,1093.1 L2668.3,1094.7 L2676.3,1091.9 L2684.2,1085.8 L2691.9,1077.9 L2699.3,1069.8 L2706.3,1063 L2712.8,1059.2 L2718.2,1058.2 L2722.6,1058.9 L2726.6,1060.9 L2730.9,1064 L2735.9,1067.9 L2742.4,1072.5 L2750.5,1079 L2759.9,1087.9 L2770.1,1097.7 L2780.8,1106.7 L2791.4,1113.7 L2801.6,1116.9 L2811.7,1115.6 L2822.2,1110.5 L2832.6,1103.3 L2842.7,1095.4 L2852.3,1088.4 L2860.8,1083.6 L2868,1081.3 L2874,1080.3 L2879.4,1080.1 L2884.7,1080.2 L2890.7,1080.3 L2897.9,1079.9 L2906.6,1078.8 L2916.5,1077.1 L2927,1075.4 L2937.6,1074.1 L2947.8,1073.5 L2957.1,1074 L2965.3,1076 L2972.7,1079.3 L2979.8,1083.3 L2986.7,1087.6 L2993.9,1091.5 L3001.5,1094.7 L3009.7,1097.8 L3018.3,1101.3 L3027,1104.6 L3035.8,1106.9 L3044.6,1107.5 L3053.4,1105.8 L3062.2,1100.7 L3071.2,1092.5 L3080.2,1082.6 L3089,1072.5 L3097.4,1063.8 L3105.2,1057.7 L3112.1,1054.2 L3118.1,1052 L3123.7,1051.1 L3129.3,1051.5 L3135.4,1052.9 L3142.2,1055.5 L3150,1059.9 L3158.4,1066.3 L3167.2,1073.8 L3176.2,1081.7 L3185.2,1088.9 L3194.1,1094.7 L3202.7,1099.6 L3211.3,1104.2 L3220,1108.3 L3228.6,1111.4 L3237.3,1113.2 L3245.9,1113.2 L3254.7,1110.6 L3263.7,1105.4 L3272.7,1098.9 L3281.5,1092.3 L3289.9,1086.8 L3297.7,1083.6 L3304.3,1083.4 L3309.8,1085.1 L3314.8,1088 L3320.2,1091.2 L3326.6,1093.7 L3334.7,1094.7 L3345.3,1094.1 L3357.8,1092.5 L3371.3,1090.2 L3384.9,1087.7 L3397.7,1085.4 L3408.8,1083.6 L3417.5,1081.9 L3424.4,1079.9 L3430.5,1078 L3436.8,1076.8 L3444,1076.8 L3453.2,1078.4 L3465.1,1083.1 L3479,1090.5 L3493.9,1099.1 L3508.9,1107.2 L3522.8,1113.2 L3534.7,1115.5 L3544,1112.7 L3551.7,1106 L3558.3,1097.2 L3564.6,1088.1 L3571.3,1080.5 L3579.1,1076.2 L3588.5,1075.7 L3599.1,1077.6 L3610.1,1080.9 L3620.8,1084.9 L3630.4,1088.6 L3638.3,1091 L3644,1092.9 L3647.9,1095 L3650.8,1096.8 L3653.4,1097.8 L3656.4,1097.2 L3660.6,1094.7 L3665.8,1089 L3671.5,1080.3 L3677.7,1070.2 L3684.1,1060.2 L3690.8,1051.8 L3697.6,1046.6 L3704.6,1044.6 L3711.8,1044.4 L3719.3,1045.9 L3726.9,1048.8 L3734.5,1052.8 L3742,1057.7 L3749.5,1064.7 L3757.1,1074.2 L3764.7,1084.8 L3772.2,1095.1 L3779.5,1103.9 L3786.4,1109.5 L3792.8,1112 L3798.5,1112.1 L3804,1110.7 L3809.7,1108.2 L3816.1,1105.1 L3823.5,1102.1 L3832.2,1098.2 L3842.1,1092.8 L3852.6,1086.9 L3863.2,1081.4 L3873.4,1077.5 L3882.7,1076.2 L3891,1078.3 L3898.6,1083.1 L3905.8,1089.4 L3912.9,1096.1 L3919.9,1102 L3927.1,1105.8 L3935,1107.6 L3943.6,1108 L3952.1,1107.7 L3960,1106.9 L3966.7,1106.2 L3971.5,1105.8" fill="none" stroke="#0000ff" stroke-width="8" stroke-linejoin="round"/>
<path d="M2379.5,1057.7 L2381.8,1058 L2384.8,1058 L2388.3,1058.2 L2392.4,1059.1 L2396.9,1061.2 L2401.8,1065.1 L2407.2,1071.8 L2413.3,1081 L2419.8,1091.4 L2426.4,1101.8 L2432.9,1110.7 L2438.8,1116.9 L2444.1,1120.3 L2449.2,1121.7 L2454.1,1121.7 L2458.8,1120.8 L2463.5,1119.6 L2468.4,1118.4 L2473.3,1117.2 L2478,1115.5 L2482.7,1113.4 L2487.6,1111 L2492.7,1108.4 L2498,1105.8 L2503.8,1102.8 L2510.1,1099.3 L2516.5,1095.6 L2523,1092.1 L2529.2,1089.2 L2535,1087.3 L2540.2,1087 L2544.6,1088 L2548.9,1089.6 L2553.4,1091.1 L2558.5,1091.8 L2564.7,1091 L2572,1088 L2580.3,1083 L2589.2,1077.3 L2598.4,1071.9 L2607.6,1068 L2616.5,1066.6 L2625.2,1069 L2634,1074.4 L2642.9,1081.4 L2651.6,1088.1 L2660.1,1093.1 L2668.3,1094.7 L2676.3,1091.9 L2684.2,1085.8 L2691.9,1077.9 L2699.3,1069.8 L2706.3,1063 L2712.8,1059.2 L2718.2,1058.2 L2722.6,1058.9 L2726.6,1060.9 L2730.9,1064 L2735.9,1067.9 L2742.4,1072.5 L2750.5,1079 L2759.9,1087.9 L2770.1,1097.7 L2780.8,1106.7 L2791.4,1113.7 L2801.6,1116.9 L2811.7,1115.6 L2822.2,1110.5 L2832.6,1103.3 L2842.7,1095.4 L2852.3,1088.4 L2860.8,1083.6 L2868,1081.3 L2874,1080.3 L2879.4,1080.1 L2884.7,1080.2 L2890.7,1080.3 L2897.9,1079.9 L2906.6,1078.8 L2916.5,1077.1 L2927,1075.4 L2937.6,1074.1 L2947.8,1073.5 L2957.1,1074 L2965.3,1076 L2972.7,1079.3 L2979.8,1083.3 L2986.7,1087.6 L2993.9,1091.5 L3001.5,1094.7 L3009.7,1097.8 L3018.3,1101.3 L3027,1104.6 L3035.8,1106.9 L3044.6,1107.5 L3053.4,1105.8 L3062.2,1100.7 L3071.2,1092.5 L3080.2,1082.6 L3089,1072.5 L3097.4,1063.8 L3105.2,1057.7 L3112.1,1054.2 L3118.1,1052 L3123.7,1051.1 L3129.3,1051.5 L3135.4,1052.9 L3142.2,1055.5 L3150,1059.9 L3158.4,1066.3 L3167.2,1073.8 L3176.2,1081.7 L3185.2,1088.9 L3194.1,1094.7 L3202.7,1099.6 L3211.3,1104.2 L3220,1108.3 L3228.6,1111.4 L3237.3,1113.2 L3245.9,1113.2 L3254.7,1110.6 L3263.7,1105.4 L3272.7,1098.9 L3281.5,1092.3 L3289.9,1086.8 L3297.7,1083.6 L3304.3,1083.4 L3309.8,1085.1 L3314.8,1088 L3320.2,1091.2 L3326.6,1093.7 L3334.7,1094.7 L3345.3,1094.1 L3357.8,1092.5 L3371.3,1090.2 L3384.9,1087.7 L3397.7,1085.4 L3408.8,1083.6 L3417.5,1081.9 L3424.4,1079.9 L3430.5,1078 L3436.8,1076.8 L3444,1076.8 L3453.2,1078.4 L3465.1,1083.1 L3479,1090.5 L3493.9,1099.1 L3508.9,1107.2 L3522.8,1113.2 L3534.7,1115.5 L3544,1112.7 L3551.7,1106 L3558.3,1097.2 L3564.6,1088.1 L3571.3,1080.5 L3579.1,1076.2 L3588.5,1075.7 L3599.1,1077.6 L3610.1,1080.9 L3620.8,1084.9 L3630.4,1088.6 L3638.3,1091 L3644,1092.9 L3647.9,1095 L3650.8,1096.8 L3653.4,1097.8 L3656.4,1097.2 L3660.6,1094.7 L3665.8,1089 L3671.5,1080.3 L3677.7,1070.2 L3684.1,1060.2 L3690.8,1051.8 L3697.6,1046.6 L3704.6,1044.6 L3711.8,1044.4 L3719.3,1045.9 L3726.9,1048.8 L3734.5,1052.8 L3742,1057.7 L3749.5,1064.7 L3757.1,1074.2 L3764.7,1084.8 L3772.2,1095.1 L3779.5,1103.9 L3786.4,1109.5 L3792.8,1112 L3798.5,1112.1 L3804,1110.7 L3809.7,1108.2 L3816.1,1105.1 L3823.5,1102.1 L3832.2,1098.2 L3842.1,1092.8 L3852.6,1086.9 L3863.2,1081.4 L3873.4,1077.5 L3882.7,1076.2 L3891,1078.3 L3898.6,1083.1 L3905.8,1089.4 L3912.9,1096.1 L3919.9,1102 L3927.1,1105.8 L3935,1107.6 L3943.6,1108 L3952.1,1107.7 L3960,1106.9 L3966.7,1106.2 L3971.5,1105.8" fill="none" stroke="#cc7f1f" stroke-width="3.6" stroke-dasharray="8 6" stroke-linejoin="round"/>
</g>
<path d="M2378,944 V1224 H3966" fill="none" stroke="#262626" stroke-width="3.8"/>
<line x1="2378" y1="997" x2="2397" y2="997" stroke="#262626" stroke-width="3.6"/>
<text x="2326" y="1010" font-family="Liberation Sans" font-weight="bold" font-size="37.00" fill="#262626">1</text>
<line x1="2378" y1="1088.8" x2="2397" y2="1088.8" stroke="#262626" stroke-width="3.6"/>
<text x="2326.4" y="1101.8" font-family="Liberation Sans" font-weight="bold" font-size="37.00" fill="#262626">0</text>
<line x1="2378" y1="1178.4" x2="2397" y2="1178.4" stroke="#262626" stroke-width="3.6"/>
<text x="2313.6" y="1191.4" font-family="Liberation Sans" font-weight="bold" font-size="37.00" fill="#262626">-1</text>
<line x1="3442" y1="1224" x2="3442" y2="1215" stroke="#262626" stroke-width="3.4"/>
<text x="2329.3" y="1258.3" font-family="Liberation Sans" font-weight="bold" font-size="37.60" fill="#262626" textLength="97.7" lengthAdjust="spacingAndGlyphs">26.0</text>
<text x="3393" y="1258.3" font-family="Liberation Sans" font-weight="bold" font-size="37.60" fill="#262626" textLength="97.7" lengthAdjust="spacingAndGlyphs">26.1</text>
<text x="2547.1" y="993.5" font-family="Liberation Sans" font-weight="bold" font-size="38.00" fill="#262626" textLength="248.3" lengthAdjust="spacingAndGlyphs">Pulse Width</text>
<text x="2194.9" y="929" font-family="Liberation Sans" font-weight="bold" font-size="57.00" fill="#000" textLength="75.1" lengthAdjust="spacingAndGlyphs">(c)</text>
<clipPath id="tbl"><rect x="2194" y="68" width="1796" height="1605.5"/></clipPath><g clip-path="url(#tbl)">
<rect x="2387" y="1354" width="1578.6" height="241" fill="#fffdc4"/>
<clipPath id="cd"><rect x="2381" y="1340.7" width="1587.6" height="256.6"/></clipPath>
<g clip-path="url(#cd)">
<path d="M2383.2,1457.7 L2387.5,1458.4 L2393.4,1459.6 L2400.4,1461 L2408.1,1462 L2416.1,1462.3 L2424,1461.4 L2432.1,1458.7 L2440.7,1454.4 L2449.7,1449.4 L2458.7,1444.5 L2467.5,1440.8 L2475.8,1439.2 L2483.3,1439.9 L2490.1,1442.2 L2496.6,1445.7 L2502.8,1449.4 L2507.8,1441.4 L2510.8,1368.9 L2513.8,1374.9 L2516.8,1503.5 L2519.8,1557.7 L2521.8,1552.7 L2524.8,1459.5 L2530.8,1461.8 L2542.4,1466.6 L2554.9,1471.6 L2568,1475.9 L2581.2,1479 L2594.3,1479.9 L2607.6,1477.8 L2621.4,1472.9 L2635.5,1466.7 L2649.4,1460.6 L2662.9,1455.9 L2675.7,1454 L2687.9,1455.7 L2699.6,1459.9 L2710.9,1465.6 L2721.8,1471.6 L2732.3,1476.7 L2742.4,1479.9 L2751.8,1481.5 L2760.5,1482.3 L2768.8,1482.2 L2776.8,1481.3 L2781.8,1473.3 L2784.8,1402.2 L2787.8,1408.2 L2790.8,1506.5 L2793.8,1531.8 L2795.8,1526.8 L2798.8,1473.7 L2803.9,1471 L2814.2,1463.5 L2824.8,1454.9 L2835.1,1446.6 L2844.8,1439.7 L2853.4,1435.5 L2860.5,1434.4 L2866.1,1435.6 L2871,1438.3 L2876.2,1441.5 L2882.4,1444.6 L2890.5,1446.6 L2900.7,1447.5 L2912.4,1448 L2925.2,1448.2 L2938.5,1448.5 L2951.7,1449.1 L2964.5,1450.3 L2976.9,1452.1 L2989.5,1454.3 L3002,1456.8 L3014.4,1459.5 L3026.6,1462.3 L3038.6,1465.1 L3049.9,1468.3 L3060.8,1472.2 L3071.4,1476.1 L3082.2,1479.6 L3093.3,1482.3 L3105.2,1483.6 L3117.8,1483.5 L3131,1482.2 L3143.3,1480.2 L3148.3,1472.2 L3151.3,1402.2 L3154.3,1408.2 L3157.3,1516.4 L3160.3,1552.5 L3162.3,1547.5 L3165.3,1475.7 L3172.5,1474.2 L3186.7,1471 L3201.5,1467.2 L3217.4,1462.5 L3233.4,1457.3 L3248.9,1452.6 L3263.2,1448.8 L3275.5,1446.6 L3285.1,1446.7 L3292.5,1448.6 L3298.6,1451.6 L3304.6,1454.6 L3311.3,1456.9 L3319.9,1457.7 L3330.4,1456.4 L3341.9,1453.6 L3354.2,1450.1 L3367.1,1446.6 L3380.4,1444 L3394,1442.9 L3408.1,1443.8 L3423.1,1446.1 L3438.4,1449.2 L3453.8,1452.5 L3468.7,1455.5 L3472.8,1456.2 L3477.8,1448.2 L3480.8,1391.1 L3483.8,1397.1 L3486.8,1527.3 L3489.8,1598.4 L3491.8,1593.4 L3494.8,1458.7 L3495.6,1458.8 L3507.2,1459.2 L3518.5,1459.3 L3530,1459.5 L3542.6,1460.1 L3556.9,1461.4 L3574.1,1464.1 L3593.9,1468 L3614.7,1472.3 L3635,1476.2 L3653.3,1479 L3668,1479.9 L3678.3,1478.4 L3685.5,1474.9 L3690.6,1470.2 L3694.8,1465.3 L3699.2,1460.8 L3705,1457.7 L3711.9,1455.8 L3719,1454.3 L3726.3,1453.3 L3733.8,1452.9 L3741.5,1453.1 L3749.4,1454 L3754.2,1455.3 L3759.2,1447.3 L3762.2,1372.6 L3765.2,1378.6 L3768.2,1500.9 L3771.2,1546.6 L3773.2,1541.6 L3776.2,1464.2 L3784.8,1468 L3793.4,1471.1 L3801.2,1472.5 L3808.3,1471.7 L3814.7,1469.1 L3820.7,1465.6 L3826.5,1462 L3832.3,1459.1 L3838.3,1457.7 L3843.8,1458.3 L3848.7,1460.2 L3853.5,1462.8 L3859.1,1465.5 L3866.1,1467.7 L3875.3,1468.8 L3888.1,1468.6 L3904.4,1467.4 L3922,1465.8 L3939.2,1464 L3953.9,1462.4 L3964.1,1461.4" fill="none" stroke="#ff6a50" stroke-width="3.2" stroke-linejoin="round"/>
<path d="M2386.9,1472.5 L2395,1466.6 L2406.1,1457.4 L2419.3,1447.1 L2433.6,1437.4 L2447.8,1430.4 L2461,1428.1 L2473.5,1431.6 L2486.2,1439.7 L2498.9,1450.5 L2511.5,1462.1 L2523.6,1472.5 L2535,1479.9 L2545.9,1484.9 L2556.2,1489.3 L2566,1492.4 L2575.6,1494 L2585,1493.7 L2594.3,1491 L2603.5,1484.2 L2612.7,1473.3 L2621.6,1460.5 L2630.2,1447.8 L2638.4,1437.6 L2646.1,1431.8 L2653.1,1431.1 L2659.3,1433.9 L2665.1,1439 L2670.8,1445.4 L2676.7,1452 L2683.1,1457.7 L2690,1463.4 L2697.1,1470.2 L2704.4,1477.1 L2711.9,1483.5 L2719.6,1488.4 L2727.6,1491 L2735.8,1491.3 L2744.3,1489.8 L2753,1486.9 L2761.8,1482.8 L2770.7,1477.9 L2779.4,1472.5 L2787.9,1465.3 L2796.4,1455.8 L2804.9,1445.4 L2813.4,1435.8 L2822.2,1428.3 L2831.2,1424.4 L2840.5,1425 L2849.9,1429.2 L2859.5,1435.5 L2869.3,1442.6 L2879.7,1449.2 L2890.5,1454 L2901.8,1456.7 L2913.5,1458.4 L2925.6,1459.6 L2938.2,1460.7 L2951.1,1462.4 L2964.5,1465.1 L2978.8,1469.7 L2994.1,1475.9 L3009.9,1482.7 L3025.4,1488.8 L3040.1,1493.2 L3053.4,1494.7 L3064.4,1492.6 L3073.7,1487.6 L3082.1,1480.9 L3090.7,1473.5 L3100.5,1466.6 L3112.6,1461.4 L3127.7,1457.9 L3145.2,1455.2 L3164,1453.1 L3182.8,1451.1 L3200.6,1449.1 L3216.3,1446.6 L3229.7,1443.2 L3241.8,1439.1 L3252.8,1434.8 L3263.2,1431.1 L3273.1,1428.7 L3282.9,1428.1 L3292.3,1430.3 L3301,1434.9 L3309.3,1440.8 L3317.5,1446.7 L3325.9,1451.5 L3334.7,1454 L3344.4,1453.4 L3354.8,1450.4 L3365.3,1446.4 L3375.6,1442.4 L3385.3,1439.6 L3394,1439.2 L3401.2,1442.3 L3407.1,1448 L3412.5,1454.9 L3417.8,1461.7 L3423.8,1466.8 L3431,1468.8 L3439.8,1466.5 L3449.7,1460.9 L3460.2,1453.5 L3470.8,1446.3 L3481,1441 L3490.2,1439.2 L3498.2,1442.1 L3505.3,1448.4 L3512,1456.6 L3518.8,1465 L3526.2,1472.1 L3534.7,1476.2 L3544.4,1476.9 L3555,1475.3 L3566.1,1472.3 L3577.7,1469 L3589.5,1466.2 L3601.3,1465.1 L3613.2,1465.9 L3625.4,1467.9 L3637.9,1470.4 L3650.4,1473.1 L3662.9,1475.2 L3675.4,1476.2 L3687.5,1476.3 L3699.5,1475.8 L3711.5,1474.8 L3723.6,1473.3 L3736.2,1471.3 L3749.4,1468.8 L3764,1465 L3780.1,1459.6 L3796.6,1453.8 L3812.5,1448.4 L3826.7,1444.4 L3838.3,1442.9 L3846.1,1444.9 L3850.9,1449.8 L3854,1456.1 L3856.9,1462.4 L3861.1,1467.1 L3867.9,1468.8 L3878.3,1466.8 L3891.2,1462 L3905.4,1455.6 L3919.4,1448.9 L3932.1,1443.1 L3941.9,1439.2 L3948.9,1437.5 L3954,1437 L3957.7,1437.3 L3960.3,1438.1 L3962.3,1438.9 L3964.1,1439.2" fill="none" stroke="#2e8b57" stroke-width="3.6" stroke-linejoin="round"/>
<path d="M2383.2,1457.7 L2387.5,1458.4 L2393.4,1459.6 L2400.4,1461 L2408.1,1462 L2416.1,1462.3 L2424,1461.4 L2432.1,1458.7 L2440.7,1454.4 L2449.7,1449.4 L2458.7,1444.5 L2467.5,1440.8 L2475.8,1439.2 L2483.3,1439.9 L2490.1,1442.2 L2496.6,1445.7 L2503.5,1449.8 L2511.2,1453.9 L2520.2,1457.7 L2530.8,1461.8 L2542.4,1466.6 L2554.9,1471.6 L2568,1475.9 L2581.2,1479 L2594.3,1479.9 L2607.6,1477.8 L2621.4,1472.9 L2635.5,1466.7 L2649.4,1460.6 L2662.9,1455.9 L2675.7,1454 L2687.9,1455.7 L2699.6,1459.9 L2710.9,1465.6 L2721.8,1471.6 L2732.3,1476.7 L2742.4,1479.9 L2751.8,1481.5 L2760.5,1482.3 L2768.8,1482.2 L2776.9,1481.3 L2785.3,1479.3 L2794.2,1476.2 L2803.9,1471 L2814.2,1463.5 L2824.8,1454.9 L2835.1,1446.6 L2844.8,1439.7 L2853.4,1435.5 L2860.5,1434.4 L2866.1,1435.6 L2871,1438.3 L2876.2,1441.5 L2882.4,1444.6 L2890.5,1446.6 L2900.7,1447.5 L2912.4,1448 L2925.2,1448.2 L2938.5,1448.5 L2951.7,1449.1 L2964.5,1450.3 L2976.9,1452.1 L2989.5,1454.3 L3002,1456.8 L3014.4,1459.5 L3026.6,1462.3 L3038.6,1465.1 L3049.9,1468.3 L3060.8,1472.2 L3071.4,1476.1 L3082.2,1479.6 L3093.3,1482.3 L3105.2,1483.6 L3117.8,1483.5 L3131,1482.2 L3144.5,1480 L3158.4,1477.3 L3172.5,1474.2 L3186.7,1471 L3201.5,1467.2 L3217.4,1462.5 L3233.4,1457.3 L3248.9,1452.6 L3263.2,1448.8 L3275.5,1446.6 L3285.1,1446.7 L3292.5,1448.6 L3298.6,1451.6 L3304.6,1454.6 L3311.3,1456.9 L3319.9,1457.7 L3330.4,1456.4 L3341.9,1453.6 L3354.2,1450.1 L3367.1,1446.6 L3380.4,1444 L3394,1442.9 L3408.1,1443.8 L3423.1,1446.1 L3438.4,1449.2 L3453.8,1452.5 L3468.7,1455.5 L3482.8,1457.7 L3495.6,1458.8 L3507.2,1459.2 L3518.5,1459.3 L3530,1459.5 L3542.6,1460.1 L3556.9,1461.4 L3574.1,1464.1 L3593.9,1468 L3614.7,1472.3 L3635,1476.2 L3653.3,1479 L3668,1479.9 L3678.3,1478.4 L3685.5,1474.9 L3690.6,1470.2 L3694.8,1465.3 L3699.2,1460.8 L3705,1457.7 L3711.9,1455.8 L3719,1454.3 L3726.3,1453.3 L3733.8,1452.9 L3741.5,1453.1 L3749.4,1454 L3757.8,1456.2 L3766.7,1459.8 L3775.8,1464 L3784.8,1468 L3793.4,1471.1 L3801.2,1472.5 L3808.3,1471.7 L3814.7,1469.1 L3820.7,1465.6 L3826.5,1462 L3832.3,1459.1 L3838.3,1457.7 L3843.8,1458.3 L3848.7,1460.2 L3853.5,1462.8 L3859.1,1465.5 L3866.1,1467.7 L3875.3,1468.8 L3888.1,1468.6 L3904.4,1467.4 L3922,1465.8 L3939.2,1464 L3953.9,1462.4 L3964.1,1461.4" fill="none" stroke="#0000ff" stroke-width="8" stroke-linejoin="round"/>
<path d="M2383.2,1457.7 L2387.5,1458.4 L2393.4,1459.6 L2400.4,1461 L2408.1,1462 L2416.1,1462.3 L2424,1461.4 L2432.1,1458.7 L2440.7,1454.4 L2449.7,1449.4 L2458.7,1444.5 L2467.5,1440.8 L2475.8,1439.2 L2483.3,1439.9 L2490.1,1442.2 L2496.6,1445.7 L2503.5,1449.8 L2511.2,1453.9 L2520.2,1457.7 L2530.8,1461.8 L2542.4,1466.6 L2554.9,1471.6 L2568,1475.9 L2581.2,1479 L2594.3,1479.9 L2607.6,1477.8 L2621.4,1472.9 L2635.5,1466.7 L2649.4,1460.6 L2662.9,1455.9 L2675.7,1454 L2687.9,1455.7 L2699.6,1459.9 L2710.9,1465.6 L2721.8,1471.6 L2732.3,1476.7 L2742.4,1479.9 L2751.8,1481.5 L2760.5,1482.3 L2768.8,1482.2 L2776.9,1481.3 L2785.3,1479.3 L2794.2,1476.2 L2803.9,1471 L2814.2,1463.5 L2824.8,1454.9 L2835.1,1446.6 L2844.8,1439.7 L2853.4,1435.5 L2860.5,1434.4 L2866.1,1435.6 L2871,1438.3 L2876.2,1441.5 L2882.4,1444.6 L2890.5,1446.6 L2900.7,1447.5 L2912.4,1448 L2925.2,1448.2 L2938.5,1448.5 L2951.7,1449.1 L2964.5,1450.3 L2976.9,1452.1 L2989.5,1454.3 L3002,1456.8 L3014.4,1459.5 L3026.6,1462.3 L3038.6,1465.1 L3049.9,1468.3 L3060.8,1472.2 L3071.4,1476.1 L3082.2,1479.6 L3093.3,1482.3 L3105.2,1483.6 L3117.8,1483.5 L3131,1482.2 L3144.5,1480 L3158.4,1477.3 L3172.5,1474.2 L3186.7,1471 L3201.5,1467.2 L3217.4,1462.5 L3233.4,1457.3 L3248.9,1452.6 L3263.2,1448.8 L3275.5,1446.6 L3285.1,1446.7 L3292.5,1448.6 L3298.6,1451.6 L3304.6,1454.6 L3311.3,1456.9 L3319.9,1457.7 L3330.4,1456.4 L3341.9,1453.6 L3354.2,1450.1 L3367.1,1446.6 L3380.4,1444 L3394,1442.9 L3408.1,1443.8 L3423.1,1446.1 L3438.4,1449.2 L3453.8,1452.5 L3468.7,1455.5 L3482.8,1457.7 L3495.6,1458.8 L3507.2,1459.2 L3518.5,1459.3 L3530,1459.5 L3542.6,1460.1 L3556.9,1461.4 L3574.1,1464.1 L3593.9,1468 L3614.7,1472.3 L3635,1476.2 L3653.3,1479 L3668,1479.9 L3678.3,1478.4 L3685.5,1474.9 L3690.6,1470.2 L3694.8,1465.3 L3699.2,1460.8 L3705,1457.7 L3711.9,1455.8 L3719,1454.3 L3726.3,1453.3 L3733.8,1452.9 L3741.5,1453.1 L3749.4,1454 L3757.8,1456.2 L3766.7,1459.8 L3775.8,1464 L3784.8,1468 L3793.4,1471.1 L3801.2,1472.5 L3808.3,1471.7 L3814.7,1469.1 L3820.7,1465.6 L3826.5,1462 L3832.3,1459.1 L3838.3,1457.7 L3843.8,1458.3 L3848.7,1460.2 L3853.5,1462.8 L3859.1,1465.5 L3866.1,1467.7 L3875.3,1468.8 L3888.1,1468.6 L3904.4,1467.4 L3922,1465.8 L3939.2,1464 L3953.9,1462.4 L3964.1,1461.4" fill="none" stroke="#cc7f1f" stroke-width="3.6" stroke-dasharray="8 6" stroke-linejoin="round"/>
</g>
<path d="M2381,1340.7 V1597.3 H3984.7" fill="none" stroke="#262626" stroke-width="3.8"/>
<line x1="2381" y1="1370.3" x2="2400" y2="1370.3" stroke="#262626" stroke-width="3.6"/>
<text x="2329" y="1383.3" font-family="Liberation Sans" font-weight="bold" font-size="37.00" fill="#262626">1</text>
<line x1="2381" y1="1461.4" x2="2400" y2="1461.4" stroke="#262626" stroke-width="3.6"/>
<text x="2329.4" y="1474.4" font-family="Liberation Sans" font-weight="bold" font-size="37.00" fill="#262626">0</text>
<line x1="2381" y1="1552.5" x2="2400" y2="1552.5" stroke="#262626" stroke-width="3.6"/>
<text x="2316.6" y="1565.5" font-family="Liberation Sans" font-weight="bold" font-size="37.00" fill="#262626">-1</text>
<line x1="3440" y1="1597.3" x2="3440" y2="1588.3" stroke="#262626" stroke-width="3.4"/>
<text x="2327.8" y="1631.6" font-family="Liberation Sans" font-weight="bold" font-size="37.60" fill="#262626" textLength="97.7" lengthAdjust="spacingAndGlyphs">43.0</text>
<text x="3391.5" y="1631.6" font-family="Liberation Sans" font-weight="bold" font-size="37.60" fill="#262626" textLength="97.7" lengthAdjust="spacingAndGlyphs">43.1</text>
<text x="2550.7" y="1404.5" font-family="Liberation Sans" font-weight="bold" font-size="38.00" fill="#262626" textLength="215.5" lengthAdjust="spacingAndGlyphs">Frequency</text>
<text x="2195.3" y="1316.5" font-family="Liberation Sans" font-weight="bold" font-size="57.00" fill="#000" textLength="70.5" lengthAdjust="spacingAndGlyphs">(d)</text>
<text x="3080.7" y="1685" font-family="Liberation Sans" font-weight="bold" font-size="56.50" fill="#262626">Time(s)</text>
</g>
<text x="3080.7" y="911.5" font-family="Liberation Sans" font-weight="bold" font-size="56.50" fill="#262626">Time(s)</text>
<text x="3080.7" y="1308.5" font-family="Liberation Sans" font-weight="bold" font-size="56.50" fill="#262626">Time(s)</text>
<g transform="translate(2292.9,750) rotate(-90)"><text x="-2.8" y="0" font-family="Liberation Sans" font-weight="bold" font-size="42.44" fill="#262626" textLength="197.1" lengthAdjust="spacingAndGlyphs">EMG (mv)</text></g>
<g transform="translate(2292.9,1150) rotate(-90)"><text x="-2.8" y="0" font-family="Liberation Sans" font-weight="bold" font-size="42.44" fill="#262626" textLength="197.1" lengthAdjust="spacingAndGlyphs">EMG (mv)</text></g>
<g transform="translate(2295.5,1545) rotate(-90)"><text x="-2.9" y="0" font-family="Liberation Sans" font-weight="bold" font-size="42.44" fill="#262626" textLength="205.1" lengthAdjust="spacingAndGlyphs">EMG (mv)</text></g>
<text x="2981.4" y="1741.4" font-family="Liberation Sans" font-weight="normal" font-size="63.08" fill="#000" textLength="256.8" lengthAdjust="spacingAndGlyphs">TABLE III</text>
<text x="2439.6" y="1810.7" font-family="Liberation Sans" font-size="61.34" fill="#000" textLength="1335.8" lengthAdjust="spacingAndGlyphs"><tspan>P</tspan><tspan font-size="48.26">ERFORMANCE COMPARISON USING SIMULATION DATA</tspan></text>
<rect x="2196" y="1823.8" width="1820" height="7.2" fill="#000"/>
<rect x="2197" y="1923.7" width="1819" height="2.4" fill="#000"/>
<rect x="2197" y="2013.9" width="1819" height="2.4" fill="#000"/>
<rect x="2197" y="2106.8" width="1819" height="2.4" fill="#000"/>
<rect x="2197" y="2197.4" width="1819" height="2.4" fill="#000"/>
<rect x="2197" y="2294.3" width="1819" height="2.4" fill="#000"/>
<rect x="2554.3" y="1831" width="2.4" height="465.7" fill="#000"/>
<rect x="3285.4" y="1831" width="2.4" height="465.7" fill="#000"/>
<rect x="2919" y="1924.9" width="2.4" height="371.8" fill="#000"/>
<rect x="3653.4" y="1924.9" width="2.4" height="371.8" fill="#000"/>
<line x1="2198.2" y1="1831" x2="2198.2" y2="2295" stroke="#888" stroke-width="1.3" stroke-dasharray="4 3"/>
<text x="2309.1" y="1905.7" font-family="Liberation Serif" font-weight="bold" font-size="57.88" fill="#000" textLength="136.9" lengthAdjust="spacingAndGlyphs">Index</text>
<text x="2892.6" y="1905.7" font-family="Liberation Serif" font-weight="bold" font-size="57.88" fill="#000" textLength="36.9" lengthAdjust="spacingAndGlyphs">R</text>
<text x="2932.4" y="1885.9" font-family="Liberation Serif" font-weight="bold" font-size="35.89" fill="#000" textLength="19.5" lengthAdjust="spacingAndGlyphs">2</text>
<text x="3531.7" y="1905.7" font-family="Liberation Serif" font-weight="bold" font-size="57.88" fill="#000" textLength="235" lengthAdjust="spacingAndGlyphs">SNR (dB)</text>
<text x="2286.6" y="1996" font-family="Liberation Serif" font-weight="bold" font-size="58.03" fill="#000" textLength="184" lengthAdjust="spacingAndGlyphs">Method</text>
<text x="2621.4" y="1996" font-family="Liberation Serif" font-weight="normal" font-size="58.03" fill="#000" textLength="234.8" lengthAdjust="spacingAndGlyphs">SAG-RLS</text>
<text x="3047.3" y="1996" font-family="Liberation Serif" font-weight="normal" font-size="58.03" fill="#000">GSB</text>
<text x="3349.5" y="1996" font-family="Liberation Serif" font-weight="normal" font-size="58.03" fill="#000" textLength="238.4" lengthAdjust="spacingAndGlyphs">SAG-RLS</text>
<text x="3776.6" y="1996" font-family="Liberation Serif" font-weight="normal" font-size="58.03" fill="#000">GSB</text>
<text x="2278.9" y="2085.5" font-family="Liberation Serif" font-weight="bold" font-size="57.27" fill="#000" textLength="199.9" lengthAdjust="spacingAndGlyphs">Session i</text>
<text x="2610.7" y="2085.5" font-family="Liberation Serif" font-weight="normal" font-size="57.27" fill="#000" textLength="253.2" lengthAdjust="spacingAndGlyphs">0.98±0.004</text>
<text x="2966.1" y="2085.5" font-family="Liberation Serif" font-weight="normal" font-size="57.27" fill="#000" textLength="274" lengthAdjust="spacingAndGlyphs">0. 83 +0.026</text>
<text x="3332.2" y="2085.5" font-family="Liberation Serif" font-weight="normal" font-size="57.27" fill="#000" textLength="274.4" lengthAdjust="spacingAndGlyphs">11.01+1.486</text>
<text x="3710" y="2085.5" font-family="Liberation Serif" font-weight="normal" font-size="57.27" fill="#000" textLength="248.8" lengthAdjust="spacingAndGlyphs">2.69+0.970</text>
<text x="2271.5" y="2177.5" font-family="Liberation Serif" font-weight="bold" font-size="57.27" fill="#000" textLength="214" lengthAdjust="spacingAndGlyphs">Session ii</text>
<text x="2612.9" y="2177.5" font-family="Liberation Serif" font-weight="normal" font-size="57.27" fill="#000" textLength="248.8" lengthAdjust="spacingAndGlyphs">0.98+0.004</text>
<text x="2978.7" y="2177.5" font-family="Liberation Serif" font-weight="normal" font-size="57.27" fill="#000" textLength="249.3" lengthAdjust="spacingAndGlyphs">0.83+0.025</text>
<text x="3332.2" y="2177.5" font-family="Liberation Serif" font-weight="normal" font-size="57.27" fill="#000" textLength="275.8" lengthAdjust="spacingAndGlyphs">15.24+1.762</text>
<text x="3707.6" y="2177.5" font-family="Liberation Serif" font-weight="normal" font-size="57.27" fill="#000" textLength="251.2" lengthAdjust="spacingAndGlyphs">1.81+1.078</text>
<text x="2264.1" y="2270.5" font-family="Liberation Serif" font-weight="bold" font-size="57.27" fill="#000" textLength="228.1" lengthAdjust="spacingAndGlyphs">Session iii</text>
<text x="2612.9" y="2270.5" font-family="Liberation Serif" font-weight="normal" font-size="57.27" fill="#000" textLength="250.1" lengthAdjust="spacingAndGlyphs">0.97+0.005</text>
<text x="2978.7" y="2270.5" font-family="Liberation Serif" font-weight="normal" font-size="57.27" fill="#000" textLength="248.8" lengthAdjust="spacingAndGlyphs">0.27+0.176</text>
<text x="3332.2" y="2270.5" font-family="Liberation Serif" font-weight="normal" font-size="57.27" fill="#000" textLength="275.8" lengthAdjust="spacingAndGlyphs">12.24+1.582</text>
<text x="3708.9" y="2270.5" font-family="Liberation Serif" font-weight="normal" font-size="57.27" fill="#000" textLength="248.6" lengthAdjust="spacingAndGlyphs">0.12+0.874</text>
<path d="M2461,2099 q2,-3 4,0 t4,0 t4,0 t4,0" fill="none" stroke="#e02020" stroke-width="1.5"/>
</svg></body></html>
